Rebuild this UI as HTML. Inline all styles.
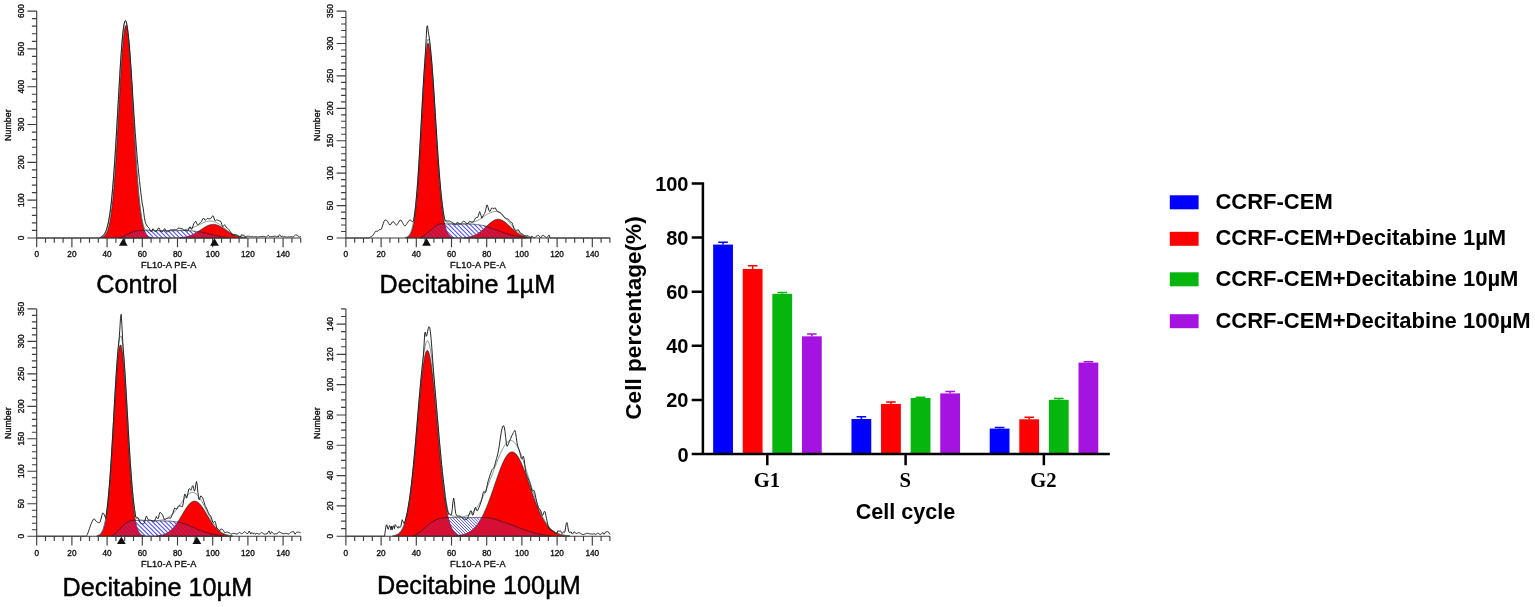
<!DOCTYPE html>
<html lang="en"><head><meta charset="utf-8"><title>Cell cycle</title>
<style>
html,body{margin:0;padding:0;background:#fff}
svg{display:block}
text{font-family:"Liberation Sans",Arial,sans-serif;fill:#000}
.tk text{font-size:8.2px;fill:#111;text-anchor:middle;stroke:#111;stroke-width:.35px}
.tk text.xl{font-size:9.2px;letter-spacing:.18px}.tk text.nl{font-size:8.9px}
.cap{font-size:25.2px;stroke:#000;stroke-width:.45px}
.b{font-weight:bold}
.ser{font-family:"Liberation Serif","Times New Roman",serif;font-weight:bold}
</style></head><body>
<svg width="1535" height="607" viewBox="0 0 1535 607">
<defs><pattern id="hatch" width="2.15" height="2.15" patternUnits="userSpaceOnUse" patternTransform="rotate(-45)"><rect x="0" y="0" width="0.88" height="2.15" fill="#2c2cff"/></pattern></defs>
<rect width="1535" height="607" fill="#fff"/>
<g id="p1">
<path d="M100.59 237.63 L100.76 237.6 L100.94 237.56 L101.12 237.52 L101.29 237.48 L101.47 237.44 L101.64 237.39 L101.82 237.33 L102 237.27 L102.17 237.21 L102.35 237.14 L102.52 237.07 L102.7 236.99 L102.88 236.91 L103.05 236.82 L103.23 236.72 L103.4 236.61 L103.58 236.5 L103.76 236.38 L103.93 236.25 L104.11 236.11 L104.28 235.97 L104.46 235.81 L104.64 235.64 L104.81 235.46 L104.99 235.26 L105.16 235.06 L105.34 234.84 L105.52 234.61 L105.69 234.36 L105.87 234.09 L106.04 233.81 L106.22 233.51 L106.4 233.2 L106.57 232.86 L106.75 232.5 L106.92 232.12 L107.1 231.72 L107.28 231.3 L107.45 230.85 L107.63 230.38 L107.8 229.88 L107.98 229.36 L108.16 228.8 L108.33 228.22 L108.51 227.6 L108.68 226.96 L108.86 226.28 L109.04 225.56 L109.21 224.81 L109.39 224.03 L109.56 223.2 L109.74 222.34 L109.92 221.44 L110.09 220.49 L110.27 219.5 L110.44 218.47 L110.62 217.4 L110.8 216.27 L110.97 215.11 L111.15 213.89 L111.32 212.62 L111.5 211.3 L111.68 209.93 L111.85 208.51 L112.03 207.04 L112.2 205.51 L112.38 203.93 L112.56 202.29 L112.73 200.6 L112.91 198.85 L113.08 197.04 L113.26 195.18 L113.44 193.26 L113.61 191.28 L113.79 189.24 L113.96 187.15 L114.14 184.99 L114.32 182.78 L114.49 180.52 L114.67 178.19 L114.84 175.81 L115.02 173.38 L115.2 170.89 L115.37 168.35 L115.55 165.75 L115.72 163.1 L115.9 160.41 L116.08 157.67 L116.25 154.88 L116.43 152.04 L116.6 149.16 L116.78 146.25 L116.96 143.29 L117.13 140.3 L117.31 137.28 L117.48 134.22 L117.66 131.14 L117.84 128.03 L118.01 124.91 L118.19 121.76 L118.36 118.6 L118.54 115.43 L118.72 112.25 L118.89 109.07 L119.07 105.88 L119.24 102.7 L119.42 99.53 L119.6 96.37 L119.77 93.23 L119.95 90.11 L120.12 87.01 L120.3 83.94 L120.48 80.91 L120.65 77.91 L120.83 74.96 L121 72.05 L121.18 69.19 L121.36 66.39 L121.53 63.65 L121.71 60.97 L121.88 58.36 L122.06 55.82 L122.24 53.36 L122.41 50.98 L122.59 48.69 L122.76 46.48 L122.94 44.37 L123.12 42.35 L123.29 40.44 L123.47 38.62 L123.64 36.91 L123.82 35.31 L124 33.82 L124.17 32.45 L124.35 31.19 L124.52 30.05 L124.7 29.04 L124.88 28.14 L125.05 27.37 L125.23 26.73 L125.4 26.22 L125.58 25.83 L125.76 25.57 L125.93 25.44 L126.11 25.44 L126.28 25.57 L126.46 25.83 L126.64 26.22 L126.81 26.73 L126.99 27.37 L127.16 28.14 L127.34 29.04 L127.52 30.05 L127.69 31.19 L127.87 32.45 L128.04 33.82 L128.22 35.31 L128.4 36.91 L128.57 38.62 L128.75 40.44 L128.92 42.35 L129.1 44.37 L129.28 46.48 L129.45 48.69 L129.63 50.98 L129.8 53.36 L129.98 55.82 L130.16 58.36 L130.33 60.97 L130.51 63.65 L130.68 66.39 L130.86 69.19 L131.04 72.05 L131.21 74.96 L131.39 77.91 L131.56 80.91 L131.74 83.94 L131.92 87.01 L132.09 90.11 L132.27 93.23 L132.44 96.37 L132.62 99.53 L132.8 102.7 L132.97 105.88 L133.15 109.07 L133.32 112.25 L133.5 115.43 L133.68 118.6 L133.85 121.76 L134.03 124.91 L134.2 128.03 L134.38 131.14 L134.56 134.22 L134.73 137.28 L134.91 140.3 L135.08 143.29 L135.26 146.25 L135.44 149.16 L135.61 152.04 L135.79 154.88 L135.96 157.67 L136.14 160.41 L136.32 163.1 L136.49 165.75 L136.67 168.35 L136.84 170.89 L137.02 173.38 L137.2 175.81 L137.37 178.19 L137.55 180.52 L137.72 182.78 L137.9 184.99 L138.08 187.15 L138.25 189.24 L138.43 191.28 L138.6 193.26 L138.78 195.18 L138.96 197.04 L139.13 198.85 L139.31 200.6 L139.48 202.29 L139.66 203.93 L139.84 205.51 L140.01 207.04 L140.19 208.51 L140.36 209.93 L140.54 211.3 L140.72 212.62 L140.89 213.89 L141.07 215.11 L141.24 216.27 L141.42 217.4 L141.6 218.47 L141.77 219.5 L141.95 220.49 L142.12 221.44 L142.3 222.34 L142.48 223.2 L142.65 224.03 L142.83 224.81 L143 225.56 L143.18 226.28 L143.36 226.96 L143.53 227.6 L143.71 228.22 L143.88 228.8 L144.06 229.36 L144.24 229.88 L144.41 230.38 L144.59 230.85 L144.76 231.3 L144.94 231.72 L145.12 232.12 L145.29 232.5 L145.47 232.86 L145.64 233.2 L145.82 233.51 L146 233.81 L146.17 234.09 L146.35 234.36 L146.52 234.61 L146.7 234.84 L146.88 235.06 L147.05 235.26 L147.23 235.46 L147.4 235.64 L147.58 235.81 L147.76 235.97 L147.93 236.11 L148.11 236.25 L148.28 236.38 L148.46 236.5 L148.64 236.61 L148.81 236.72 L148.99 236.82 L149.16 236.91 L149.34 236.99 L149.52 237.07 L149.69 237.14 L149.87 237.21 L150.04 237.27 L150.22 237.33 L150.4 237.39 L150.57 237.44 L150.75 237.48 L150.92 237.52 L151.1 237.56 L151.28 237.6 L151.45 237.63 L151.45 238 L100.59 238 Z" fill="#fb0000" stroke="#1a1a1a" stroke-width="0.7" stroke-linejoin="round"/>
<path d="M179.79 237.66 L179.96 237.64 L180.14 237.63 L180.32 237.62 L180.49 237.6 L180.67 237.59 L180.84 237.57 L181.02 237.55 L181.2 237.54 L181.37 237.52 L181.55 237.5 L181.72 237.48 L181.9 237.46 L182.08 237.44 L182.25 237.42 L182.43 237.4 L182.6 237.38 L182.78 237.36 L182.96 237.33 L183.13 237.31 L183.31 237.29 L183.48 237.26 L183.66 237.24 L183.84 237.21 L184.01 237.18 L184.19 237.15 L184.36 237.12 L184.54 237.09 L184.72 237.06 L184.89 237.03 L185.07 237 L185.24 236.97 L185.42 236.93 L185.6 236.9 L185.77 236.86 L185.95 236.83 L186.12 236.79 L186.3 236.75 L186.48 236.71 L186.65 236.67 L186.83 236.63 L187 236.59 L187.18 236.54 L187.36 236.5 L187.53 236.45 L187.71 236.41 L187.88 236.36 L188.06 236.31 L188.24 236.26 L188.41 236.21 L188.59 236.16 L188.76 236.1 L188.94 236.05 L189.12 235.99 L189.29 235.94 L189.47 235.88 L189.64 235.82 L189.82 235.76 L190 235.7 L190.17 235.64 L190.35 235.57 L190.52 235.51 L190.7 235.44 L190.88 235.37 L191.05 235.31 L191.23 235.24 L191.4 235.16 L191.58 235.09 L191.76 235.02 L191.93 234.94 L192.11 234.87 L192.28 234.79 L192.46 234.71 L192.64 234.63 L192.81 234.55 L192.99 234.47 L193.16 234.38 L193.34 234.3 L193.52 234.21 L193.69 234.13 L193.87 234.04 L194.04 233.95 L194.22 233.86 L194.4 233.77 L194.57 233.67 L194.75 233.58 L194.92 233.48 L195.1 233.39 L195.28 233.29 L195.45 233.19 L195.63 233.09 L195.8 232.99 L195.98 232.89 L196.16 232.79 L196.33 232.68 L196.51 232.58 L196.68 232.47 L196.86 232.37 L197.04 232.26 L197.21 232.15 L197.39 232.04 L197.56 231.93 L197.74 231.82 L197.92 231.71 L198.09 231.6 L198.27 231.49 L198.44 231.37 L198.62 231.26 L198.8 231.14 L198.97 231.03 L199.15 230.91 L199.32 230.8 L199.5 230.68 L199.68 230.56 L199.85 230.45 L200.03 230.33 L200.2 230.21 L200.38 230.09 L200.56 229.98 L200.73 229.86 L200.91 229.74 L201.08 229.62 L201.26 229.5 L201.44 229.39 L201.61 229.27 L201.79 229.15 L201.96 229.03 L202.14 228.92 L202.32 228.8 L202.49 228.69 L202.67 228.57 L202.84 228.45 L203.02 228.34 L203.2 228.23 L203.37 228.11 L203.55 228 L203.72 227.89 L203.9 227.78 L204.08 227.67 L204.25 227.56 L204.43 227.45 L204.6 227.34 L204.78 227.24 L204.96 227.13 L205.13 227.03 L205.31 226.93 L205.48 226.82 L205.66 226.72 L205.84 226.63 L206.01 226.53 L206.19 226.43 L206.36 226.34 L206.54 226.25 L206.72 226.16 L206.89 226.07 L207.07 225.98 L207.24 225.9 L207.42 225.82 L207.6 225.73 L207.77 225.65 L207.95 225.58 L208.12 225.5 L208.3 225.43 L208.48 225.36 L208.65 225.29 L208.83 225.22 L209 225.16 L209.18 225.1 L209.36 225.04 L209.53 224.98 L209.71 224.93 L209.88 224.88 L210.06 224.83 L210.24 224.78 L210.41 224.73 L210.59 224.69 L210.76 224.65 L210.94 224.62 L211.12 224.58 L211.29 224.55 L211.47 224.52 L211.64 224.5 L211.82 224.47 L212 224.45 L212.17 224.43 L212.35 224.42 L212.52 224.41 L212.7 224.4 L212.88 224.39 L213.05 224.38 L213.23 224.38 L213.4 224.38 L213.58 224.39 L213.76 224.4 L213.93 224.41 L214.11 224.42 L214.28 224.43 L214.46 224.45 L214.64 224.47 L214.81 224.5 L214.99 224.52 L215.16 224.55 L215.34 224.58 L215.52 224.62 L215.69 224.65 L215.87 224.69 L216.04 224.73 L216.22 224.78 L216.4 224.83 L216.57 224.88 L216.75 224.93 L216.92 224.98 L217.1 225.04 L217.28 225.1 L217.45 225.16 L217.63 225.22 L217.8 225.29 L217.98 225.36 L218.16 225.43 L218.33 225.5 L218.51 225.58 L218.68 225.65 L218.86 225.73 L219.04 225.82 L219.21 225.9 L219.39 225.98 L219.56 226.07 L219.74 226.16 L219.92 226.25 L220.09 226.34 L220.27 226.43 L220.44 226.53 L220.62 226.63 L220.8 226.72 L220.97 226.82 L221.15 226.93 L221.32 227.03 L221.5 227.13 L221.68 227.24 L221.85 227.34 L222.03 227.45 L222.2 227.56 L222.38 227.67 L222.56 227.78 L222.73 227.89 L222.91 228 L223.08 228.11 L223.26 228.23 L223.44 228.34 L223.61 228.45 L223.79 228.57 L223.96 228.69 L224.14 228.8 L224.32 228.92 L224.49 229.03 L224.67 229.15 L224.84 229.27 L225.02 229.39 L225.2 229.5 L225.37 229.62 L225.55 229.74 L225.72 229.86 L225.9 229.98 L226.08 230.09 L226.25 230.21 L226.43 230.33 L226.6 230.45 L226.78 230.56 L226.96 230.68 L227.13 230.8 L227.31 230.91 L227.48 231.03 L227.66 231.14 L227.84 231.26 L228.01 231.37 L228.19 231.49 L228.36 231.6 L228.54 231.71 L228.72 231.82 L228.89 231.93 L229.07 232.04 L229.24 232.15 L229.42 232.26 L229.6 232.37 L229.77 232.47 L229.95 232.58 L230.12 232.68 L230.3 232.79 L230.48 232.89 L230.65 232.99 L230.83 233.09 L231 233.19 L231.18 233.29 L231.36 233.39 L231.53 233.48 L231.71 233.58 L231.88 233.67 L232.06 233.77 L232.24 233.86 L232.41 233.95 L232.59 234.04 L232.76 234.13 L232.94 234.21 L233.12 234.3 L233.29 234.38 L233.47 234.47 L233.64 234.55 L233.82 234.63 L234 234.71 L234.17 234.79 L234.35 234.87 L234.52 234.94 L234.7 235.02 L234.88 235.09 L235.05 235.16 L235.23 235.24 L235.4 235.31 L235.58 235.37 L235.76 235.44 L235.93 235.51 L236.11 235.57 L236.28 235.64 L236.46 235.7 L236.64 235.76 L236.81 235.82 L236.99 235.88 L237.16 235.94 L237.34 235.99 L237.52 236.05 L237.69 236.1 L237.87 236.16 L238.04 236.21 L238.22 236.26 L238.4 236.31 L238.57 236.36 L238.75 236.41 L238.92 236.45 L239.1 236.5 L239.28 236.54 L239.45 236.59 L239.63 236.63 L239.8 236.67 L239.98 236.71 L240.16 236.75 L240.33 236.79 L240.51 236.83 L240.68 236.86 L240.86 236.9 L241.04 236.93 L241.21 236.97 L241.39 237 L241.56 237.03 L241.74 237.06 L241.92 237.09 L242.09 237.12 L242.27 237.15 L242.44 237.18 L242.62 237.21 L242.8 237.24 L242.97 237.26 L243.15 237.29 L243.32 237.31 L243.5 237.33 L243.68 237.36 L243.85 237.38 L244.03 237.4 L244.2 237.42 L244.38 237.44 L244.56 237.46 L244.73 237.48 L244.91 237.5 L245.08 237.52 L245.26 237.54 L245.44 237.55 L245.61 237.57 L245.79 237.59 L245.96 237.6 L246.14 237.62 L246.32 237.63 L246.49 237.64 L246.67 237.66 L246.67 238 L179.79 238 Z" fill="#fb0000" stroke="#1a1a1a" stroke-width="0.7" stroke-linejoin="round"/>
<clipPath id="sc1"><path d="M119.24 237.63 L119.42 237.59 L119.6 237.55 L119.77 237.5 L119.95 237.46 L120.12 237.41 L120.3 237.36 L120.48 237.3 L120.65 237.25 L120.83 237.19 L121 237.14 L121.18 237.08 L121.36 237.02 L121.53 236.96 L121.71 236.89 L121.88 236.83 L122.06 236.76 L122.24 236.69 L122.41 236.62 L122.59 236.55 L122.76 236.48 L122.94 236.41 L123.12 236.33 L123.29 236.25 L123.47 236.18 L123.64 236.1 L123.82 236.02 L124 235.94 L124.17 235.85 L124.35 235.77 L124.52 235.69 L124.7 235.61 L124.88 235.52 L125.05 235.44 L125.23 235.36 L125.4 235.27 L125.58 235.19 L125.76 235.1 L125.93 235.02 L126.11 234.93 L126.28 234.85 L126.46 234.76 L126.64 234.68 L126.81 234.59 L126.99 234.51 L127.16 234.42 L127.34 234.34 L127.52 234.25 L127.69 234.16 L127.87 234.08 L128.04 233.99 L128.22 233.9 L128.4 233.82 L128.57 233.73 L128.75 233.64 L128.92 233.56 L129.1 233.47 L129.28 233.39 L129.45 233.3 L129.63 233.22 L129.8 233.13 L129.98 233.05 L130.16 232.97 L130.33 232.89 L130.51 232.81 L130.68 232.73 L130.86 232.65 L131.04 232.58 L131.21 232.51 L131.39 232.43 L131.56 232.36 L131.74 232.29 L131.92 232.23 L132.09 232.16 L132.27 232.1 L132.44 232.04 L132.62 231.98 L132.8 231.92 L132.97 231.86 L133.15 231.8 L133.32 231.75 L133.5 231.69 L133.68 231.64 L133.85 231.59 L134.03 231.53 L134.2 231.48 L134.38 231.43 L134.56 231.38 L134.73 231.33 L134.91 231.28 L135.08 231.24 L135.26 231.19 L135.44 231.14 L135.61 231.1 L135.79 231.06 L135.96 231.02 L136.14 230.98 L136.32 230.94 L136.49 230.91 L136.67 230.87 L136.84 230.84 L137.02 230.82 L137.2 230.79 L137.37 230.77 L137.55 230.74 L137.72 230.73 L137.9 230.71 L138.08 230.69 L138.25 230.68 L138.43 230.66 L138.6 230.65 L138.78 230.64 L138.96 230.63 L139.13 230.62 L139.31 230.61 L139.48 230.61 L139.66 230.6 L139.84 230.59 L140.01 230.59 L140.19 230.58 L140.36 230.57 L140.54 230.57 L140.72 230.56 L140.89 230.56 L141.07 230.55 L141.24 230.55 L141.42 230.54 L141.6 230.54 L141.77 230.54 L141.95 230.53 L142.12 230.53 L142.3 230.53 L142.48 230.53 L142.65 230.53 L142.83 230.53 L143 230.52 L143.18 230.52 L143.36 230.52 L143.53 230.52 L143.71 230.52 L143.88 230.52 L144.06 230.53 L144.24 230.53 L144.41 230.53 L144.59 230.53 L144.76 230.53 L144.94 230.53 L145.12 230.53 L145.29 230.53 L145.47 230.53 L145.64 230.53 L145.82 230.53 L146 230.54 L146.17 230.54 L146.35 230.54 L146.52 230.54 L146.7 230.54 L146.88 230.54 L147.05 230.54 L147.23 230.54 L147.4 230.54 L147.58 230.54 L147.76 230.55 L147.93 230.55 L148.11 230.55 L148.28 230.55 L148.46 230.55 L148.64 230.55 L148.81 230.55 L148.99 230.55 L149.16 230.55 L149.34 230.56 L149.52 230.56 L149.69 230.56 L149.87 230.56 L150.04 230.56 L150.22 230.56 L150.4 230.56 L150.57 230.56 L150.75 230.56 L150.92 230.56 L151.1 230.57 L151.28 230.57 L151.45 230.57 L151.63 230.57 L151.8 230.57 L151.98 230.57 L152.16 230.57 L152.33 230.57 L152.51 230.57 L152.68 230.58 L152.86 230.58 L153.04 230.58 L153.21 230.58 L153.39 230.58 L153.56 230.58 L153.74 230.58 L153.92 230.58 L154.09 230.58 L154.27 230.59 L154.44 230.59 L154.62 230.59 L154.8 230.59 L154.97 230.59 L155.15 230.59 L155.32 230.59 L155.5 230.59 L155.68 230.59 L155.85 230.59 L156.03 230.6 L156.2 230.6 L156.38 230.6 L156.56 230.6 L156.73 230.6 L156.91 230.6 L157.08 230.6 L157.26 230.6 L157.44 230.6 L157.61 230.61 L157.79 230.61 L157.96 230.61 L158.14 230.61 L158.32 230.61 L158.49 230.61 L158.67 230.61 L158.84 230.61 L159.02 230.61 L159.2 230.61 L159.37 230.62 L159.55 230.62 L159.72 230.62 L159.9 230.62 L160.08 230.62 L160.25 230.62 L160.43 230.62 L160.6 230.62 L160.78 230.62 L160.96 230.63 L161.13 230.63 L161.31 230.63 L161.48 230.63 L161.66 230.63 L161.84 230.63 L162.01 230.63 L162.19 230.63 L162.36 230.63 L162.54 230.63 L162.72 230.64 L162.89 230.64 L163.07 230.64 L163.24 230.64 L163.42 230.64 L163.6 230.64 L163.77 230.64 L163.95 230.64 L164.12 230.64 L164.3 230.65 L164.48 230.65 L164.65 230.65 L164.83 230.65 L165 230.65 L165.18 230.65 L165.36 230.65 L165.53 230.65 L165.71 230.65 L165.88 230.66 L166.06 230.66 L166.24 230.66 L166.41 230.66 L166.59 230.66 L166.76 230.66 L166.94 230.66 L167.12 230.66 L167.29 230.66 L167.47 230.66 L167.64 230.67 L167.82 230.67 L168 230.67 L168.17 230.67 L168.35 230.67 L168.52 230.67 L168.7 230.67 L168.88 230.67 L169.05 230.67 L169.23 230.68 L169.4 230.68 L169.58 230.68 L169.76 230.68 L169.93 230.68 L170.11 230.68 L170.28 230.68 L170.46 230.68 L170.64 230.68 L170.81 230.68 L170.99 230.69 L171.16 230.69 L171.34 230.69 L171.52 230.69 L171.69 230.69 L171.87 230.69 L172.04 230.69 L172.22 230.69 L172.4 230.69 L172.57 230.69 L172.75 230.69 L172.92 230.69 L173.1 230.69 L173.28 230.69 L173.45 230.68 L173.63 230.68 L173.8 230.68 L173.98 230.68 L174.16 230.68 L174.33 230.68 L174.51 230.67 L174.68 230.67 L174.86 230.67 L175.04 230.67 L175.21 230.66 L175.39 230.66 L175.56 230.66 L175.74 230.65 L175.92 230.65 L176.09 230.65 L176.27 230.65 L176.44 230.64 L176.62 230.64 L176.8 230.64 L176.97 230.63 L177.15 230.63 L177.32 230.63 L177.5 230.62 L177.68 230.62 L177.85 230.62 L178.03 230.61 L178.2 230.61 L178.38 230.61 L178.56 230.6 L178.73 230.6 L178.91 230.6 L179.08 230.59 L179.26 230.59 L179.44 230.59 L179.61 230.58 L179.79 230.58 L179.96 230.58 L180.14 230.57 L180.32 230.57 L180.49 230.57 L180.67 230.57 L180.84 230.56 L181.02 230.56 L181.2 230.56 L181.37 230.55 L181.55 230.55 L181.72 230.55 L181.9 230.55 L182.08 230.54 L182.25 230.54 L182.43 230.54 L182.6 230.54 L182.78 230.54 L182.96 230.54 L183.13 230.54 L183.31 230.54 L183.48 230.54 L183.66 230.54 L183.84 230.54 L184.01 230.55 L184.19 230.55 L184.36 230.55 L184.54 230.56 L184.72 230.56 L184.89 230.57 L185.07 230.57 L185.24 230.58 L185.42 230.58 L185.6 230.59 L185.77 230.59 L185.95 230.6 L186.12 230.61 L186.3 230.61 L186.48 230.62 L186.65 230.63 L186.83 230.63 L187 230.64 L187.18 230.65 L187.36 230.65 L187.53 230.66 L187.71 230.67 L187.88 230.67 L188.06 230.68 L188.24 230.69 L188.41 230.69 L188.59 230.7 L188.76 230.71 L188.94 230.71 L189.12 230.72 L189.29 230.73 L189.47 230.74 L189.64 230.74 L189.82 230.75 L190 230.76 L190.17 230.77 L190.35 230.78 L190.52 230.79 L190.7 230.8 L190.88 230.81 L191.05 230.82 L191.23 230.83 L191.4 230.85 L191.58 230.86 L191.76 230.87 L191.93 230.89 L192.11 230.91 L192.28 230.92 L192.46 230.94 L192.64 230.96 L192.81 230.98 L192.99 230.99 L193.16 231.01 L193.34 231.03 L193.52 231.05 L193.69 231.07 L193.87 231.1 L194.04 231.12 L194.22 231.14 L194.4 231.16 L194.57 231.18 L194.75 231.2 L194.92 231.22 L195.1 231.24 L195.28 231.26 L195.45 231.29 L195.63 231.31 L195.8 231.33 L195.98 231.35 L196.16 231.37 L196.33 231.39 L196.51 231.42 L196.68 231.44 L196.86 231.46 L197.04 231.48 L197.21 231.5 L197.39 231.53 L197.56 231.55 L197.74 231.57 L197.92 231.6 L198.09 231.62 L198.27 231.64 L198.44 231.67 L198.62 231.69 L198.8 231.72 L198.97 231.75 L199.15 231.77 L199.32 231.8 L199.5 231.83 L199.68 231.86 L199.85 231.89 L200.03 231.92 L200.2 231.95 L200.38 231.98 L200.56 232.02 L200.73 232.05 L200.91 232.08 L201.08 232.12 L201.26 232.15 L201.44 232.19 L201.61 232.22 L201.79 232.25 L201.96 232.29 L202.14 232.33 L202.32 232.36 L202.49 232.4 L202.67 232.43 L202.84 232.47 L203.02 232.51 L203.2 232.54 L203.37 232.58 L203.55 232.62 L203.72 232.66 L203.9 232.69 L204.08 232.73 L204.25 232.77 L204.43 232.81 L204.6 232.85 L204.78 232.89 L204.96 232.94 L205.13 232.98 L205.31 233.02 L205.48 233.06 L205.66 233.11 L205.84 233.15 L206.01 233.19 L206.19 233.24 L206.36 233.28 L206.54 233.33 L206.72 233.37 L206.89 233.42 L207.07 233.46 L207.24 233.51 L207.42 233.55 L207.6 233.6 L207.77 233.64 L207.95 233.69 L208.12 233.73 L208.3 233.78 L208.48 233.82 L208.65 233.87 L208.83 233.91 L209 233.96 L209.18 234 L209.36 234.05 L209.53 234.09 L209.71 234.13 L209.88 234.18 L210.06 234.22 L210.24 234.27 L210.41 234.31 L210.59 234.35 L210.76 234.4 L210.94 234.44 L211.12 234.48 L211.29 234.53 L211.47 234.57 L211.64 234.61 L211.82 234.66 L212 234.7 L212.17 234.74 L212.35 234.79 L212.52 234.83 L212.7 234.87 L212.88 234.91 L213.05 234.96 L213.23 235 L213.4 235.04 L213.58 235.08 L213.76 235.12 L213.93 235.16 L214.11 235.21 L214.28 235.25 L214.46 235.29 L214.64 235.33 L214.81 235.37 L214.99 235.4 L215.16 235.44 L215.34 235.48 L215.52 235.52 L215.69 235.56 L215.87 235.59 L216.04 235.63 L216.22 235.67 L216.4 235.7 L216.57 235.74 L216.75 235.78 L216.92 235.81 L217.1 235.85 L217.28 235.88 L217.45 235.92 L217.63 235.95 L217.8 235.99 L217.98 236.02 L218.16 236.06 L218.33 236.09 L218.51 236.13 L218.68 236.16 L218.86 236.2 L219.04 236.23 L219.21 236.26 L219.39 236.3 L219.56 236.33 L219.74 236.36 L219.92 236.39 L220.09 236.43 L220.27 236.46 L220.44 236.49 L220.62 236.52 L220.8 236.55 L220.97 236.58 L221.15 236.61 L221.32 236.64 L221.5 236.67 L221.68 236.69 L221.85 236.72 L222.03 236.75 L222.2 236.78 L222.38 236.81 L222.56 236.84 L222.73 236.86 L222.91 236.89 L223.08 236.92 L223.26 236.95 L223.44 236.97 L223.61 237 L223.79 237.03 L223.96 237.06 L224.14 237.08 L224.32 237.11 L224.49 237.13 L224.67 237.16 L224.84 237.19 L225.02 237.21 L225.2 237.24 L225.37 237.26 L225.55 237.29 L225.72 237.31 L225.9 237.34 L226.08 237.36 L226.25 237.38 L226.43 237.41 L226.6 237.43 L226.78 237.45 L226.96 237.47 L227.13 237.5 L227.31 237.52 L227.48 237.54 L227.66 237.56 L227.84 237.58 L228.01 237.61 L228.19 237.63 L228.36 237.65 L228.36 238 L119.24 238 Z"/></clipPath>
<path clip-path="url(#sc1)" d="M106.08 228.52 l9.48 9.48 M110.36 228.52 l9.48 9.48 M114.64 228.52 l9.48 9.48 M118.92 228.52 l9.48 9.48 M123.2 228.52 l9.48 9.48 M127.48 228.52 l9.48 9.48 M131.76 228.52 l9.48 9.48 M136.04 228.52 l9.48 9.48 M140.32 228.52 l9.48 9.48 M144.6 228.52 l9.48 9.48 M148.88 228.52 l9.48 9.48 M153.16 228.52 l9.48 9.48 M157.44 228.52 l9.48 9.48 M161.72 228.52 l9.48 9.48 M166 228.52 l9.48 9.48 M170.28 228.52 l9.48 9.48 M174.56 228.52 l9.48 9.48 M178.84 228.52 l9.48 9.48 M183.12 228.52 l9.48 9.48 M187.4 228.52 l9.48 9.48 M191.68 228.52 l9.48 9.48 M195.96 228.52 l9.48 9.48 M200.24 228.52 l9.48 9.48 M204.52 228.52 l9.48 9.48 M208.8 228.52 l9.48 9.48 M213.08 228.52 l9.48 9.48 M217.36 228.52 l9.48 9.48 M221.64 228.52 l9.48 9.48 M225.92 228.52 l9.48 9.48" stroke="#4a4aff" stroke-width="1.05" fill="none"/>
<g clip-path="url(#sc1)" fill="#fb0000" fill-opacity="0.33">
<path d="M100.59 237.63 L100.94 237.56 L101.29 237.48 L101.64 237.39 L102 237.27 L102.35 237.14 L102.7 236.99 L103.05 236.82 L103.4 236.61 L103.76 236.38 L104.11 236.11 L104.46 235.81 L104.81 235.46 L105.16 235.06 L105.52 234.61 L105.87 234.09 L106.22 233.51 L106.57 232.86 L106.92 232.12 L107.28 231.3 L107.63 230.38 L107.98 229.36 L108.33 228.22 L108.68 226.96 L109.04 225.56 L109.39 224.03 L109.74 222.34 L110.09 220.49 L110.44 218.47 L110.8 216.27 L111.15 213.89 L111.5 211.3 L111.85 208.51 L112.2 205.51 L112.56 202.29 L112.91 198.85 L113.26 195.18 L113.61 191.28 L113.96 187.15 L114.32 182.78 L114.67 178.19 L115.02 173.38 L115.37 168.35 L115.72 163.1 L116.08 157.67 L116.43 152.04 L116.78 146.25 L117.13 140.3 L117.48 134.22 L117.84 128.03 L118.19 121.76 L118.54 115.43 L118.89 109.07 L119.24 102.7 L119.6 96.37 L119.95 90.11 L120.3 83.94 L120.65 77.91 L121 72.05 L121.36 66.39 L121.71 60.97 L122.06 55.82 L122.41 50.98 L122.76 46.48 L123.12 42.35 L123.47 38.62 L123.82 35.31 L124.17 32.45 L124.52 30.05 L124.88 28.14 L125.23 26.73 L125.58 25.83 L125.93 25.44 L126.28 25.57 L126.64 26.22 L126.99 27.37 L127.34 29.04 L127.69 31.19 L128.04 33.82 L128.4 36.91 L128.75 40.44 L129.1 44.37 L129.45 48.69 L129.8 53.36 L130.16 58.36 L130.51 63.65 L130.86 69.19 L131.21 74.96 L131.56 80.91 L131.92 87.01 L132.27 93.23 L132.62 99.53 L132.97 105.88 L133.32 112.25 L133.68 118.6 L134.03 124.91 L134.38 131.14 L134.73 137.28 L135.08 143.29 L135.44 149.16 L135.79 154.88 L136.14 160.41 L136.49 165.75 L136.84 170.89 L137.2 175.81 L137.55 180.52 L137.9 184.99 L138.25 189.24 L138.6 193.26 L138.96 197.04 L139.31 200.6 L139.66 203.93 L140.01 207.04 L140.36 209.93 L140.72 212.62 L141.07 215.11 L141.42 217.4 L141.77 219.5 L142.12 221.44 L142.48 223.2 L142.83 224.81 L143.18 226.28 L143.53 227.6 L143.88 228.8 L144.24 229.88 L144.59 230.85 L144.94 231.72 L145.29 232.5 L145.64 233.2 L146 233.81 L146.35 234.36 L146.7 234.84 L147.05 235.26 L147.4 235.64 L147.76 235.97 L148.11 236.25 L148.46 236.5 L148.81 236.72 L149.16 236.91 L149.52 237.07 L149.87 237.21 L150.22 237.33 L150.57 237.44 L150.92 237.52 L151.28 237.6 L151.28 238 L100.59 238 Z"/>
<path d="M179.79 237.66 L180.14 237.63 L180.49 237.6 L180.84 237.57 L181.2 237.54 L181.55 237.5 L181.9 237.46 L182.25 237.42 L182.6 237.38 L182.96 237.33 L183.31 237.29 L183.66 237.24 L184.01 237.18 L184.36 237.12 L184.72 237.06 L185.07 237 L185.42 236.93 L185.77 236.86 L186.12 236.79 L186.48 236.71 L186.83 236.63 L187.18 236.54 L187.53 236.45 L187.88 236.36 L188.24 236.26 L188.59 236.16 L188.94 236.05 L189.29 235.94 L189.64 235.82 L190 235.7 L190.35 235.57 L190.7 235.44 L191.05 235.31 L191.4 235.16 L191.76 235.02 L192.11 234.87 L192.46 234.71 L192.81 234.55 L193.16 234.38 L193.52 234.21 L193.87 234.04 L194.22 233.86 L194.57 233.67 L194.92 233.48 L195.28 233.29 L195.63 233.09 L195.98 232.89 L196.33 232.68 L196.68 232.47 L197.04 232.26 L197.39 232.04 L197.74 231.82 L198.09 231.6 L198.44 231.37 L198.8 231.14 L199.15 230.91 L199.5 230.68 L199.85 230.45 L200.2 230.21 L200.56 229.98 L200.91 229.74 L201.26 229.5 L201.61 229.27 L201.96 229.03 L202.32 228.8 L202.67 228.57 L203.02 228.34 L203.37 228.11 L203.72 227.89 L204.08 227.67 L204.43 227.45 L204.78 227.24 L205.13 227.03 L205.48 226.82 L205.84 226.63 L206.19 226.43 L206.54 226.25 L206.89 226.07 L207.24 225.9 L207.6 225.73 L207.95 225.58 L208.3 225.43 L208.65 225.29 L209 225.16 L209.36 225.04 L209.71 224.93 L210.06 224.83 L210.41 224.73 L210.76 224.65 L211.12 224.58 L211.47 224.52 L211.82 224.47 L212.17 224.43 L212.52 224.41 L212.88 224.39 L213.23 224.38 L213.58 224.39 L213.93 224.41 L214.28 224.43 L214.64 224.47 L214.99 224.52 L215.34 224.58 L215.69 224.65 L216.04 224.73 L216.4 224.83 L216.75 224.93 L217.1 225.04 L217.45 225.16 L217.8 225.29 L218.16 225.43 L218.51 225.58 L218.86 225.73 L219.21 225.9 L219.56 226.07 L219.92 226.25 L220.27 226.43 L220.62 226.63 L220.97 226.82 L221.32 227.03 L221.68 227.24 L222.03 227.45 L222.38 227.67 L222.73 227.89 L223.08 228.11 L223.44 228.34 L223.79 228.57 L224.14 228.8 L224.49 229.03 L224.84 229.27 L225.2 229.5 L225.55 229.74 L225.9 229.98 L226.25 230.21 L226.6 230.45 L226.96 230.68 L227.31 230.91 L227.66 231.14 L228.01 231.37 L228.36 231.6 L228.72 231.82 L229.07 232.04 L229.42 232.26 L229.77 232.47 L230.12 232.68 L230.48 232.89 L230.83 233.09 L231.18 233.29 L231.53 233.48 L231.88 233.67 L232.24 233.86 L232.59 234.04 L232.94 234.21 L233.29 234.38 L233.64 234.55 L234 234.71 L234.35 234.87 L234.7 235.02 L235.05 235.16 L235.4 235.31 L235.76 235.44 L236.11 235.57 L236.46 235.7 L236.81 235.82 L237.16 235.94 L237.52 236.05 L237.87 236.16 L238.22 236.26 L238.57 236.36 L238.92 236.45 L239.28 236.54 L239.63 236.63 L239.98 236.71 L240.33 236.79 L240.68 236.86 L241.04 236.93 L241.39 237 L241.74 237.06 L242.09 237.12 L242.44 237.18 L242.8 237.24 L243.15 237.29 L243.5 237.33 L243.85 237.38 L244.2 237.42 L244.56 237.46 L244.91 237.5 L245.26 237.54 L245.61 237.57 L245.96 237.6 L246.32 237.63 L246.67 237.66 L246.67 238 L179.79 238 Z"/>
</g>
<path d="M119.24 237.63 L119.42 237.59 L119.6 237.55 L119.77 237.5 L119.95 237.46 L120.12 237.41 L120.3 237.36 L120.48 237.3 L120.65 237.25 L120.83 237.19 L121 237.14 L121.18 237.08 L121.36 237.02 L121.53 236.96 L121.71 236.89 L121.88 236.83 L122.06 236.76 L122.24 236.69 L122.41 236.62 L122.59 236.55 L122.76 236.48 L122.94 236.41 L123.12 236.33 L123.29 236.25 L123.47 236.18 L123.64 236.1 L123.82 236.02 L124 235.94 L124.17 235.85 L124.35 235.77 L124.52 235.69 L124.7 235.61 L124.88 235.52 L125.05 235.44 L125.23 235.36 L125.4 235.27 L125.58 235.19 L125.76 235.1 L125.93 235.02 L126.11 234.93 L126.28 234.85 L126.46 234.76 L126.64 234.68 L126.81 234.59 L126.99 234.51 L127.16 234.42 L127.34 234.34 L127.52 234.25 L127.69 234.16 L127.87 234.08 L128.04 233.99 L128.22 233.9 L128.4 233.82 L128.57 233.73 L128.75 233.64 L128.92 233.56 L129.1 233.47 L129.28 233.39 L129.45 233.3 L129.63 233.22 L129.8 233.13 L129.98 233.05 L130.16 232.97 L130.33 232.89 L130.51 232.81 L130.68 232.73 L130.86 232.65 L131.04 232.58 L131.21 232.51 L131.39 232.43 L131.56 232.36 L131.74 232.29 L131.92 232.23 L132.09 232.16 L132.27 232.1 L132.44 232.04 L132.62 231.98 L132.8 231.92 L132.97 231.86 L133.15 231.8 L133.32 231.75 L133.5 231.69 L133.68 231.64 L133.85 231.59 L134.03 231.53 L134.2 231.48 L134.38 231.43 L134.56 231.38 L134.73 231.33 L134.91 231.28 L135.08 231.24 L135.26 231.19 L135.44 231.14 L135.61 231.1 L135.79 231.06 L135.96 231.02 L136.14 230.98 L136.32 230.94 L136.49 230.91 L136.67 230.87 L136.84 230.84 L137.02 230.82 L137.2 230.79 L137.37 230.77 L137.55 230.74 L137.72 230.73 L137.9 230.71 L138.08 230.69 L138.25 230.68 L138.43 230.66 L138.6 230.65 L138.78 230.64 L138.96 230.63 L139.13 230.62 L139.31 230.61 L139.48 230.61 L139.66 230.6 L139.84 230.59 L140.01 230.59 L140.19 230.58 L140.36 230.57 L140.54 230.57 L140.72 230.56 L140.89 230.56 L141.07 230.55 L141.24 230.55 L141.42 230.54 L141.6 230.54 L141.77 230.54 L141.95 230.53 L142.12 230.53 L142.3 230.53 L142.48 230.53 L142.65 230.53 L142.83 230.53 L143 230.52 L143.18 230.52 L143.36 230.52 L143.53 230.52 L143.71 230.52 L143.88 230.52 L144.06 230.53 L144.24 230.53 L144.41 230.53 L144.59 230.53 L144.76 230.53 L144.94 230.53 L145.12 230.53 L145.29 230.53 L145.47 230.53 L145.64 230.53 L145.82 230.53 L146 230.54 L146.17 230.54 L146.35 230.54 L146.52 230.54 L146.7 230.54 L146.88 230.54 L147.05 230.54 L147.23 230.54 L147.4 230.54 L147.58 230.54 L147.76 230.55 L147.93 230.55 L148.11 230.55 L148.28 230.55 L148.46 230.55 L148.64 230.55 L148.81 230.55 L148.99 230.55 L149.16 230.55 L149.34 230.56 L149.52 230.56 L149.69 230.56 L149.87 230.56 L150.04 230.56 L150.22 230.56 L150.4 230.56 L150.57 230.56 L150.75 230.56 L150.92 230.56 L151.1 230.57 L151.28 230.57 L151.45 230.57 L151.63 230.57 L151.8 230.57 L151.98 230.57 L152.16 230.57 L152.33 230.57 L152.51 230.57 L152.68 230.58 L152.86 230.58 L153.04 230.58 L153.21 230.58 L153.39 230.58 L153.56 230.58 L153.74 230.58 L153.92 230.58 L154.09 230.58 L154.27 230.59 L154.44 230.59 L154.62 230.59 L154.8 230.59 L154.97 230.59 L155.15 230.59 L155.32 230.59 L155.5 230.59 L155.68 230.59 L155.85 230.59 L156.03 230.6 L156.2 230.6 L156.38 230.6 L156.56 230.6 L156.73 230.6 L156.91 230.6 L157.08 230.6 L157.26 230.6 L157.44 230.6 L157.61 230.61 L157.79 230.61 L157.96 230.61 L158.14 230.61 L158.32 230.61 L158.49 230.61 L158.67 230.61 L158.84 230.61 L159.02 230.61 L159.2 230.61 L159.37 230.62 L159.55 230.62 L159.72 230.62 L159.9 230.62 L160.08 230.62 L160.25 230.62 L160.43 230.62 L160.6 230.62 L160.78 230.62 L160.96 230.63 L161.13 230.63 L161.31 230.63 L161.48 230.63 L161.66 230.63 L161.84 230.63 L162.01 230.63 L162.19 230.63 L162.36 230.63 L162.54 230.63 L162.72 230.64 L162.89 230.64 L163.07 230.64 L163.24 230.64 L163.42 230.64 L163.6 230.64 L163.77 230.64 L163.95 230.64 L164.12 230.64 L164.3 230.65 L164.48 230.65 L164.65 230.65 L164.83 230.65 L165 230.65 L165.18 230.65 L165.36 230.65 L165.53 230.65 L165.71 230.65 L165.88 230.66 L166.06 230.66 L166.24 230.66 L166.41 230.66 L166.59 230.66 L166.76 230.66 L166.94 230.66 L167.12 230.66 L167.29 230.66 L167.47 230.66 L167.64 230.67 L167.82 230.67 L168 230.67 L168.17 230.67 L168.35 230.67 L168.52 230.67 L168.7 230.67 L168.88 230.67 L169.05 230.67 L169.23 230.68 L169.4 230.68 L169.58 230.68 L169.76 230.68 L169.93 230.68 L170.11 230.68 L170.28 230.68 L170.46 230.68 L170.64 230.68 L170.81 230.68 L170.99 230.69 L171.16 230.69 L171.34 230.69 L171.52 230.69 L171.69 230.69 L171.87 230.69 L172.04 230.69 L172.22 230.69 L172.4 230.69 L172.57 230.69 L172.75 230.69 L172.92 230.69 L173.1 230.69 L173.28 230.69 L173.45 230.68 L173.63 230.68 L173.8 230.68 L173.98 230.68 L174.16 230.68 L174.33 230.68 L174.51 230.67 L174.68 230.67 L174.86 230.67 L175.04 230.67 L175.21 230.66 L175.39 230.66 L175.56 230.66 L175.74 230.65 L175.92 230.65 L176.09 230.65 L176.27 230.65 L176.44 230.64 L176.62 230.64 L176.8 230.64 L176.97 230.63 L177.15 230.63 L177.32 230.63 L177.5 230.62 L177.68 230.62 L177.85 230.62 L178.03 230.61 L178.2 230.61 L178.38 230.61 L178.56 230.6 L178.73 230.6 L178.91 230.6 L179.08 230.59 L179.26 230.59 L179.44 230.59 L179.61 230.58 L179.79 230.58 L179.96 230.58 L180.14 230.57 L180.32 230.57 L180.49 230.57 L180.67 230.57 L180.84 230.56 L181.02 230.56 L181.2 230.56 L181.37 230.55 L181.55 230.55 L181.72 230.55 L181.9 230.55 L182.08 230.54 L182.25 230.54 L182.43 230.54 L182.6 230.54 L182.78 230.54 L182.96 230.54 L183.13 230.54 L183.31 230.54 L183.48 230.54 L183.66 230.54 L183.84 230.54 L184.01 230.55 L184.19 230.55 L184.36 230.55 L184.54 230.56 L184.72 230.56 L184.89 230.57 L185.07 230.57 L185.24 230.58 L185.42 230.58 L185.6 230.59 L185.77 230.59 L185.95 230.6 L186.12 230.61 L186.3 230.61 L186.48 230.62 L186.65 230.63 L186.83 230.63 L187 230.64 L187.18 230.65 L187.36 230.65 L187.53 230.66 L187.71 230.67 L187.88 230.67 L188.06 230.68 L188.24 230.69 L188.41 230.69 L188.59 230.7 L188.76 230.71 L188.94 230.71 L189.12 230.72 L189.29 230.73 L189.47 230.74 L189.64 230.74 L189.82 230.75 L190 230.76 L190.17 230.77 L190.35 230.78 L190.52 230.79 L190.7 230.8 L190.88 230.81 L191.05 230.82 L191.23 230.83 L191.4 230.85 L191.58 230.86 L191.76 230.87 L191.93 230.89 L192.11 230.91 L192.28 230.92 L192.46 230.94 L192.64 230.96 L192.81 230.98 L192.99 230.99 L193.16 231.01 L193.34 231.03 L193.52 231.05 L193.69 231.07 L193.87 231.1 L194.04 231.12 L194.22 231.14 L194.4 231.16 L194.57 231.18 L194.75 231.2 L194.92 231.22 L195.1 231.24 L195.28 231.26 L195.45 231.29 L195.63 231.31 L195.8 231.33 L195.98 231.35 L196.16 231.37 L196.33 231.39 L196.51 231.42 L196.68 231.44 L196.86 231.46 L197.04 231.48 L197.21 231.5 L197.39 231.53 L197.56 231.55 L197.74 231.57 L197.92 231.6 L198.09 231.62 L198.27 231.64 L198.44 231.67 L198.62 231.69 L198.8 231.72 L198.97 231.75 L199.15 231.77 L199.32 231.8 L199.5 231.83 L199.68 231.86 L199.85 231.89 L200.03 231.92 L200.2 231.95 L200.38 231.98 L200.56 232.02 L200.73 232.05 L200.91 232.08 L201.08 232.12 L201.26 232.15 L201.44 232.19 L201.61 232.22 L201.79 232.25 L201.96 232.29 L202.14 232.33 L202.32 232.36 L202.49 232.4 L202.67 232.43 L202.84 232.47 L203.02 232.51 L203.2 232.54 L203.37 232.58 L203.55 232.62 L203.72 232.66 L203.9 232.69 L204.08 232.73 L204.25 232.77 L204.43 232.81 L204.6 232.85 L204.78 232.89 L204.96 232.94 L205.13 232.98 L205.31 233.02 L205.48 233.06 L205.66 233.11 L205.84 233.15 L206.01 233.19 L206.19 233.24 L206.36 233.28 L206.54 233.33 L206.72 233.37 L206.89 233.42 L207.07 233.46 L207.24 233.51 L207.42 233.55 L207.6 233.6 L207.77 233.64 L207.95 233.69 L208.12 233.73 L208.3 233.78 L208.48 233.82 L208.65 233.87 L208.83 233.91 L209 233.96 L209.18 234 L209.36 234.05 L209.53 234.09 L209.71 234.13 L209.88 234.18 L210.06 234.22 L210.24 234.27 L210.41 234.31 L210.59 234.35 L210.76 234.4 L210.94 234.44 L211.12 234.48 L211.29 234.53 L211.47 234.57 L211.64 234.61 L211.82 234.66 L212 234.7 L212.17 234.74 L212.35 234.79 L212.52 234.83 L212.7 234.87 L212.88 234.91 L213.05 234.96 L213.23 235 L213.4 235.04 L213.58 235.08 L213.76 235.12 L213.93 235.16 L214.11 235.21 L214.28 235.25 L214.46 235.29 L214.64 235.33 L214.81 235.37 L214.99 235.4 L215.16 235.44 L215.34 235.48 L215.52 235.52 L215.69 235.56 L215.87 235.59 L216.04 235.63 L216.22 235.67 L216.4 235.7 L216.57 235.74 L216.75 235.78 L216.92 235.81 L217.1 235.85 L217.28 235.88 L217.45 235.92 L217.63 235.95 L217.8 235.99 L217.98 236.02 L218.16 236.06 L218.33 236.09 L218.51 236.13 L218.68 236.16 L218.86 236.2 L219.04 236.23 L219.21 236.26 L219.39 236.3 L219.56 236.33 L219.74 236.36 L219.92 236.39 L220.09 236.43 L220.27 236.46 L220.44 236.49 L220.62 236.52 L220.8 236.55 L220.97 236.58 L221.15 236.61 L221.32 236.64 L221.5 236.67 L221.68 236.69 L221.85 236.72 L222.03 236.75 L222.2 236.78 L222.38 236.81 L222.56 236.84 L222.73 236.86 L222.91 236.89 L223.08 236.92 L223.26 236.95 L223.44 236.97 L223.61 237 L223.79 237.03 L223.96 237.06 L224.14 237.08 L224.32 237.11 L224.49 237.13 L224.67 237.16 L224.84 237.19 L225.02 237.21 L225.2 237.24 L225.37 237.26 L225.55 237.29 L225.72 237.31 L225.9 237.34 L226.08 237.36 L226.25 237.38 L226.43 237.41 L226.6 237.43 L226.78 237.45 L226.96 237.47 L227.13 237.5 L227.31 237.52 L227.48 237.54 L227.66 237.56 L227.84 237.58 L228.01 237.61 L228.19 237.63 L228.36 237.65 L228.36 238 L119.24 238 Z" fill="none" stroke="#1a1a1a" stroke-width="0.7" stroke-linejoin="round"/>
<path d="M99.36 237.54 L99.88 237.41 L100.41 237.25 L100.94 237.04 L101.47 236.8 L102 236.49 L102.52 236.12 L103.05 235.66 L103.58 235.11 L104.11 234.45 L104.64 233.65 L105.16 232.71 L105.69 231.6 L106.22 230.29 L106.75 228.76 L107.28 226.98 L107.8 224.92 L108.33 222.56 L108.86 219.87 L109.39 216.81 L109.92 213.36 L110.44 209.49 L110.97 205.19 L111.5 200.42 L112.03 195.18 L112.56 189.46 L113.08 183.24 L113.61 176.54 L114.14 169.37 L114.67 161.75 L115.2 153.72 L115.72 145.3 L116.25 136.55 L116.78 127.54 L117.31 118.34 L117.84 109.01 L118.36 99.66 L118.89 90.37 L119.42 81.25 L119.95 72.41 L120.48 63.95 L121 55.97 L121.53 48.59 L122.06 41.91 L122.59 36.01 L123.12 30.97 L123.64 26.88 L124.17 23.8 L124.7 21.76 L125.23 20.79 L125.76 20.93 L126.28 22.16 L126.81 24.48 L127.34 27.84 L127.87 32.19 L128.4 36.91 L128.92 42.35 L129.45 48.69 L129.98 55.82 L130.51 63.65 L131.04 72.05 L131.56 80.91 L132.09 90.11 L132.62 99.53 L133.15 109.07 L133.68 118.6 L134.2 128.03 L134.73 137.28 L135.26 146.25 L135.79 154.88 L136.32 163.1 L136.84 170.89 L137.37 178.11 L137.9 184.61 L138.43 190.63 L138.96 196.15 L139.48 201.2 L140.01 205.76 L140.54 209.88 L141.07 213.56 L141.6 216.83 L142.12 219.72 L142.65 222.25 L143.18 224.46 L143.71 226.37 L144.24 228.02 L144.76 229.07 L145.29 229.31 L145.82 229.51 L146.35 229.68 L146.88 229.83 L147.4 229.96 L147.93 230.06 L148.46 230.15 L148.99 230.23 L149.52 230.29 L150.04 230.35 L150.57 230.39 L151.1 230.43 L151.63 230.46 L152.16 230.48 L152.68 230.51 L153.21 230.52 L153.74 230.54 L154.27 230.55 L154.8 230.56 L155.32 230.57 L155.85 230.58 L156.38 230.59 L156.91 230.59 L157.44 230.6 L157.96 230.6 L158.49 230.61 L159.02 230.61 L159.55 230.61 L160.08 230.62 L160.6 230.62 L161.13 230.62 L161.66 230.63 L162.19 230.63 L162.72 230.63 L163.24 230.64 L163.77 230.64 L164.3 230.64 L164.83 230.65 L165.36 230.65 L165.88 230.65 L166.41 230.65 L166.94 230.65 L167.47 230.66 L168 230.66 L168.52 230.66 L169.05 230.66 L169.58 230.66 L170.11 230.66 L170.64 230.66 L171.16 230.66 L171.69 230.66 L172.22 230.65 L172.75 230.64 L173.28 230.63 L173.8 230.62 L174.33 230.61 L174.86 230.59 L175.39 230.57 L175.92 230.54 L176.44 230.52 L176.97 230.49 L177.5 230.46 L178.03 230.42 L178.56 230.39 L179.08 230.35 L179.61 230.3 L180.14 230.25 L180.67 230.2 L181.2 230.15 L181.72 230.09 L182.25 230.02 L182.78 229.95 L183.31 229.88 L183.84 229.81 L184.36 229.74 L184.89 229.66 L185.42 229.57 L185.95 229.48 L186.48 229.38 L187 229.27 L187.53 229.16 L188.06 229.03 L188.59 228.89 L189.12 228.75 L189.64 228.59 L190.17 228.43 L190.7 228.26 L191.23 228.08 L191.76 227.9 L192.28 227.72 L192.81 227.53 L193.34 227.33 L193.87 227.13 L194.4 226.92 L194.92 226.71 L195.45 226.48 L195.98 226.24 L196.51 225.99 L197.04 225.74 L197.56 225.48 L198.09 225.22 L198.62 224.95 L199.15 224.69 L199.68 224.42 L200.2 224.17 L200.73 223.91 L201.26 223.66 L201.79 223.41 L202.32 223.16 L202.84 222.92 L203.37 222.69 L203.9 222.47 L204.43 222.26 L204.96 222.07 L205.48 221.89 L206.01 221.72 L206.54 221.58 L207.07 221.44 L207.6 221.33 L208.12 221.24 L208.65 221.16 L209.18 221.1 L209.71 221.06 L210.24 221.05 L210.76 221.05 L211.29 221.08 L211.82 221.13 L212.35 221.2 L212.88 221.3 L213.4 221.42 L213.93 221.57 L214.46 221.74 L214.99 221.93 L215.52 222.13 L216.04 222.36 L216.57 222.62 L217.1 222.89 L217.63 223.18 L218.16 223.49 L218.68 223.82 L219.21 224.16 L219.74 224.52 L220.27 224.89 L220.8 225.27 L221.32 225.66 L221.85 226.07 L222.38 226.47 L222.91 226.89 L223.44 227.31 L223.96 227.74 L224.49 228.17 L225.02 228.6 L225.55 229.03 L226.08 229.45 L226.6 229.88 L227.13 230.29 L227.66 230.71 L228.19 231.11 L228.72 231.51 L229.24 231.9 L229.77 232.28 L230.3 232.65 L230.83 233 L231.36 233.33 L231.88 233.64 L232.41 233.93 L232.94 234.21 L233.47 234.46 L234 234.71 L234.52 234.94 L235.05 235.16 L235.58 235.37 L236.11 235.57 L236.64 235.76 L237.16 235.94 L237.69 236.1 L238.22 236.26 L238.75 236.41 L239.28 236.54 L239.8 236.67 L240.33 236.79 L240.86 236.9 L241.39 237 L241.92 237.09 L242.44 237.18 L242.97 237.26 L243.5 237.33 L244.03 237.4 L244.56 237.46 L245.08 237.52" fill="none" stroke="#5a7a7a" stroke-width="0.8" stroke-linejoin="round"/>
<path d="M36.7 238 L37.4 238 L38.11 238 L38.81 238 L39.52 238 L40.22 238 L40.92 238 L41.63 238 L42.33 238 L43.04 238 L43.74 238 L44.44 238 L45.15 238 L45.85 238 L46.56 238 L47.26 238 L47.96 238 L48.67 238 L49.37 238 L50.08 238 L50.78 238 L51.48 238 L52.19 238 L52.89 238 L53.6 238 L54.3 238 L55 238 L55.71 238 L56.41 238 L57.12 238 L57.82 238 L58.52 238 L59.23 238 L59.93 238 L60.64 238 L61.34 238 L62.04 238 L62.75 238 L63.45 238 L64.16 238 L64.86 238 L65.56 238 L66.27 238 L66.97 238 L67.68 238 L68.38 238 L69.08 238 L69.79 238 L70.49 238 L71.2 238 L71.9 238 L72.6 238 L73.31 238 L74.01 238 L74.72 238 L75.42 238 L76.12 238 L76.83 238 L77.53 238 L78.24 238 L78.94 238 L79.64 238 L80.35 238 L81.05 238 L81.76 238 L82.46 238 L83.16 238 L83.87 238 L84.57 238 L85.28 238 L85.98 238 L86.68 238 L87.39 238 L88.09 238 L88.8 238 L89.5 238 L90.2 238 L90.91 238 L91.61 238 L92.32 238 L93.02 238 L93.72 238 L94.43 238 L95.13 238 L95.84 238 L96.54 238 L97.24 238 L97.95 238 L98.65 238 L99.36 238 L100.06 238 L100.76 237.12 L101.47 236.8 L102.17 236.37 L102.88 235.82 L103.58 235.11 L104.28 234.2 L104.99 233.04 L105.69 231.6 L106.4 229.8 L107.1 227.6 L107.8 224.92 L108.51 221.7 L109.21 217.87 L109.92 213.36 L110.62 208.11 L111.32 202.06 L112.03 195.18 L112.73 187.44 L113.44 178.83 L114.14 169.37 L114.84 159.12 L115.55 148.14 L116.25 136.55 L116.96 124.49 L117.66 112.13 L118.36 99.66 L119.07 87.31 L119.77 75.32 L120.48 63.94 L121.18 53.44 L121.88 44.04 L122.59 35.99 L123.29 29.47 L124 24.66 L124.7 21.67 L125.4 20.58 L126.11 21.4 L126.81 24.11 L127.52 28.61 L128.22 34.44 L128.92 41.07 L129.63 49.13 L130.33 58.37 L131.04 68.49 L131.74 79.2 L132.44 90.21 L133.15 101.26 L133.85 112.12 L134.56 122.61 L135.26 132.62 L135.96 142.08 L136.67 150.97 L137.37 159.23 L138.08 166.67 L138.78 173.71 L139.48 180.41 L140.19 186.79 L140.89 192.88 L141.6 198.66 L142.3 204.09 L143 207.03 L143.71 212.18 L144.41 217.74 L145.12 221.6 L145.82 223.6 L146.52 224.95 L147.23 226.02 L147.93 226.94 L148.64 227.61 L149.34 228.41 L150.04 230.06 L150.75 231.56 L151.45 231.59 L152.16 230.19 L152.86 228.74 L153.56 229.31 L154.27 230.53 L154.97 231.72 L155.68 231.36 L156.38 230.98 L157.08 230.39 L157.79 229.18 L158.49 227.97 L159.2 228.18 L159.9 229.82 L160.6 231.46 L161.31 231.74 L162.01 231.58 L162.72 231.42 L163.42 230.28 L164.12 229.14 L164.83 228.65 L165.53 230.09 L166.24 231.53 L166.94 232.08 L167.64 231.72 L168.35 231.37 L169.05 230.89 L169.76 230.36 L170.46 229.84 L171.16 229.86 L171.87 229.88 L172.57 229.87 L173.28 229.77 L173.98 229.66 L174.68 229.65 L175.39 229.73 L176.09 229.8 L176.8 229.36 L177.5 228.76 L178.2 228.14 L178.91 228.24 L179.61 228.33 L180.32 228.42 L181.02 228.54 L181.72 228.65 L182.43 228.99 L183.13 229.58 L183.84 230.17 L184.54 230.22 L185.24 230.07 L185.95 229.91 L186.65 230.42 L187.36 230.93 L188.06 230.86 L188.76 229.04 L189.47 227.16 L190.17 226.83 L190.88 228.08 L191.58 229.36 L192.28 228.14 L192.99 226.05 L193.69 223.89 L194.4 222.84 L195.1 221.75 L195.8 221.29 L196.51 222.84 L197.21 224.43 L197.92 224.9 L198.62 224.19 L199.32 223.48 L200.03 222.86 L200.73 222.28 L201.44 221.71 L202.14 220.29 L202.84 218.87 L203.55 218.04 L204.25 219.02 L204.96 220.06 L205.66 220.17 L206.36 219.33 L207.07 218.53 L207.77 218.45 L208.48 218.65 L209.18 218.89 L209.88 218.62 L210.59 218.4 L211.29 217.97 L212 216.8 L212.7 215.69 L213.4 216.2 L214.11 218.31 L214.81 220.44 L215.52 220.6 L216.22 220.16 L216.92 219.77 L217.63 220.1 L218.33 220.46 L219.04 220.8 L219.74 220.95 L220.44 221.15 L221.15 222.35 L221.85 224.49 L222.56 226.58 L223.26 226.37 L223.96 225.48 L224.67 224.68 L225.37 225.83 L226.08 226.95 L226.78 227.87 L227.48 228.31 L228.19 228.75 L228.89 229.51 L229.6 230.55 L230.3 231.52 L231 232.73 L231.71 233.93 L232.41 235.04 L233.12 235 L233.82 234.97 L234.52 234.9 L235.23 234.73 L235.93 234.59 L236.64 234.81 L237.34 235.34 L238.04 235.82 L238.75 236.12 L239.45 236.35 L240.16 236.56 L240.86 236.35 L241.56 234.69 L242.27 235.17 L242.97 235.01 L243.68 235.09 L244.38 236.28 L245.08 236.51 L245.79 236.56 L246.49 236.41 L247.2 236.26 L247.9 236.16 L248.6 236.24 L249.31 236.31 L250.01 236.38 L250.72 236.9 L251.42 236.82 L252.12 236.36 L252.83 236.58 L253.53 237.03 L254.24 236.89 L254.94 236.68 L255.64 236.68 L256.35 236.67 L257.05 236.75 L257.76 237.1 L258.46 237 L259.16 236.67 L259.87 236.67 L260.57 236.67 L261.28 236.67 L261.98 236.59 L262.68 236.49 L263.39 236.39 L264.09 236.45 L264.8 236.67 L265.5 236.88 L266.2 237.22 L266.91 236.6 L267.61 235.92 L268.32 235.25 L269.02 236.09 L269.72 236.92 L270.43 236.74 L271.13 236.56 L271.84 236.61 L272.54 236.65 L273.24 236.59 L273.95 236.41 L274.65 236.22 L275.36 236.25 L276.06 236.9 L276.76 236.93 L277.47 236.28 L278.17 237.03 L278.88 235.85 L279.58 234.68 L280.28 235.37 L280.99 236.68 L281.69 236.5 L282.4 236.19 L283.1 236.87 L283.8 236.93 L284.51 236.48 L285.21 236.72 L285.92 236.95 L286.62 237.19 L287.32 237.11 L288.03 236.92 L288.73 236.74 L289.44 237.03 L290.14 237 L290.84 236.54 L291.55 236.51 L292.25 236.89 L292.96 237.21 L293.66 236.74 L294.36 236.03 L295.07 235.31 L295.77 234.59 L296.48 235 L297.18 235.41 L297.88 235.82 L298.59 236.34 L299.29 236.91 L300 237.01 L300.7 236.41" fill="none" stroke="#1c1c1c" stroke-width="0.95" stroke-linejoin="round"/>
<path d="M36.7 11.05 V238 M36.7 238 H300.7 M36.7 238 v9.3 M45.5 238 v4.8 M54.3 238 v4.8 M63.1 238 v4.8 M71.9 238 v9.3 M80.7 238 v4.8 M89.5 238 v4.8 M98.3 238 v4.8 M107.1 238 v9.3 M115.9 238 v4.8 M124.7 238 v4.8 M133.5 238 v4.8 M142.3 238 v9.3 M151.1 238 v4.8 M159.9 238 v4.8 M168.7 238 v4.8 M177.5 238 v9.3 M186.3 238 v4.8 M195.1 238 v4.8 M203.9 238 v4.8 M212.7 238 v9.3 M221.5 238 v4.8 M230.3 238 v4.8 M239.1 238 v4.8 M247.9 238 v9.3 M256.7 238 v4.8 M265.5 238 v4.8 M274.3 238 v4.8 M283.1 238 v9.3 M291.9 238 v4.8 M300.7 238 v4.8 M36.7 238 h-9.3 M36.7 230.44 h-4.8 M36.7 222.87 h-4.8 M36.7 215.31 h-4.8 M36.7 207.74 h-4.8 M36.7 200.18 h-9.3 M36.7 192.61 h-4.8 M36.7 185.05 h-4.8 M36.7 177.48 h-4.8 M36.7 169.92 h-4.8 M36.7 162.35 h-9.3 M36.7 154.79 h-4.8 M36.7 147.22 h-4.8 M36.7 139.66 h-4.8 M36.7 132.09 h-4.8 M36.7 124.53 h-9.3 M36.7 116.96 h-4.8 M36.7 109.4 h-4.8 M36.7 101.83 h-4.8 M36.7 94.27 h-4.8 M36.7 86.7 h-9.3 M36.7 79.14 h-4.8 M36.7 71.57 h-4.8 M36.7 64.01 h-4.8 M36.7 56.44 h-4.8 M36.7 48.88 h-9.3 M36.7 41.31 h-4.8 M36.7 33.75 h-4.8 M36.7 26.18 h-4.8 M36.7 18.62 h-4.8 M36.7 11.05 h-9.3" fill="none" stroke="#3e3e3e" stroke-width="1.15"/>
<g class="tk">
<text x="36.7" y="257.4">0</text>
<text x="71.9" y="257.4">20</text>
<text x="107.1" y="257.4">40</text>
<text x="142.3" y="257.4">60</text>
<text x="177.5" y="257.4">80</text>
<text x="212.7" y="257.4">100</text>
<text x="247.9" y="257.4">120</text>
<text x="283.1" y="257.4">140</text>
<text transform="translate(23.9 238) rotate(-90)">0</text>
<text transform="translate(23.9 200.18) rotate(-90)">100</text>
<text transform="translate(23.9 162.35) rotate(-90)">200</text>
<text transform="translate(23.9 124.53) rotate(-90)">300</text>
<text transform="translate(23.9 86.7) rotate(-90)">400</text>
<text transform="translate(23.9 48.88) rotate(-90)">500</text>
<text transform="translate(23.9 11.05) rotate(-90)">600</text>
<text class="nl" transform="translate(10.9 125.12) rotate(-90)">Number</text>
<text class="xl" x="168.7" y="268.4">FL10-A PE-A</text>
</g>
<path d="M123.29 238.3 l-4.4 7.5 h8.8 Z" fill="#111"/>
<path d="M214.46 238.3 l-4.4 7.5 h8.8 Z" fill="#111"/>
<text class="cap" x="96.3" y="292.7">Control</text>
</g>
<g id="p2">
<path d="M405.56 237.65 L405.74 237.61 L405.92 237.57 L406.09 237.53 L406.27 237.48 L406.44 237.43 L406.62 237.38 L406.8 237.31 L406.97 237.25 L407.15 237.17 L407.32 237.09 L407.5 237.01 L407.68 236.92 L407.85 236.81 L408.03 236.71 L408.2 236.59 L408.38 236.46 L408.56 236.32 L408.73 236.17 L408.91 236.01 L409.08 235.84 L409.26 235.65 L409.44 235.45 L409.61 235.23 L409.79 235 L409.96 234.75 L410.14 234.48 L410.32 234.19 L410.49 233.89 L410.67 233.56 L410.84 233.21 L411.02 232.83 L411.2 232.43 L411.37 232.01 L411.55 231.56 L411.72 231.07 L411.9 230.56 L412.08 230.02 L412.25 229.44 L412.43 228.83 L412.6 228.18 L412.78 227.49 L412.96 226.77 L413.13 226 L413.31 225.19 L413.48 224.34 L413.66 223.44 L413.84 222.5 L414.01 221.5 L414.19 220.46 L414.36 219.37 L414.54 218.22 L414.72 217.01 L414.89 215.76 L415.07 214.44 L415.24 213.06 L415.42 211.63 L415.6 210.13 L415.77 208.58 L415.95 206.95 L416.12 205.27 L416.3 203.52 L416.48 201.7 L416.65 199.82 L416.83 197.88 L417 195.86 L417.18 193.78 L417.36 191.63 L417.53 189.41 L417.71 187.13 L417.88 184.78 L418.06 182.37 L418.24 179.89 L418.41 177.35 L418.59 174.74 L418.76 172.07 L418.94 169.35 L419.12 166.57 L419.29 163.73 L419.47 160.84 L419.64 157.89 L419.82 154.9 L420 151.87 L420.17 148.79 L420.35 145.67 L420.52 142.52 L420.7 139.34 L420.88 136.13 L421.05 132.89 L421.23 129.64 L421.4 126.37 L421.58 123.1 L421.76 119.82 L421.93 116.53 L422.11 113.26 L422.28 109.99 L422.46 106.74 L422.64 103.51 L422.81 100.31 L422.99 97.14 L423.16 94.01 L423.34 90.92 L423.52 87.88 L423.69 84.9 L423.87 81.97 L424.04 79.12 L424.22 76.34 L424.4 73.63 L424.57 71.01 L424.75 68.48 L424.92 66.04 L425.1 63.71 L425.28 61.47 L425.45 59.35 L425.63 57.34 L425.8 55.45 L425.98 53.68 L426.16 52.03 L426.33 50.52 L426.51 49.14 L426.68 47.9 L426.86 46.8 L427.04 45.83 L427.21 45.02 L427.39 44.35 L427.56 43.82 L427.74 43.45 L427.92 43.22 L428.09 43.15 L428.27 43.21 L428.44 43.38 L428.62 43.67 L428.8 44.07 L428.97 44.59 L429.15 45.22 L429.32 45.97 L429.5 46.82 L429.68 47.79 L429.85 48.86 L430.03 50.04 L430.2 51.32 L430.38 52.7 L430.56 54.18 L430.73 55.76 L430.91 57.43 L431.08 59.2 L431.26 61.05 L431.44 62.99 L431.61 65 L431.79 67.1 L431.96 69.27 L432.14 71.52 L432.32 73.83 L432.49 76.2 L432.67 78.64 L432.84 81.13 L433.02 83.68 L433.2 86.27 L433.37 88.91 L433.55 91.59 L433.72 94.31 L433.9 97.06 L434.08 99.84 L434.25 102.65 L434.43 105.48 L434.6 108.32 L434.78 111.18 L434.96 114.06 L435.13 116.93 L435.31 119.82 L435.48 122.7 L435.66 125.58 L435.84 128.45 L436.01 131.31 L436.19 134.16 L436.36 136.99 L436.54 139.81 L436.72 142.6 L436.89 145.37 L437.07 148.11 L437.24 150.82 L437.42 153.5 L437.6 156.15 L437.77 158.76 L437.95 161.33 L438.12 163.87 L438.3 166.36 L438.48 168.81 L438.65 171.22 L438.83 173.58 L439 175.89 L439.18 178.16 L439.36 180.38 L439.53 182.55 L439.71 184.67 L439.88 186.73 L440.06 188.75 L440.24 190.72 L440.41 192.63 L440.59 194.5 L440.76 196.31 L440.94 198.07 L441.12 199.78 L441.29 201.43 L441.47 203.04 L441.64 204.59 L441.82 206.1 L442 207.56 L442.17 208.96 L442.35 210.32 L442.52 211.63 L442.7 212.89 L442.88 214.11 L443.05 215.28 L443.23 216.41 L443.4 217.49 L443.58 218.53 L443.76 219.53 L443.93 220.49 L444.11 221.4 L444.28 222.28 L444.46 223.13 L444.64 223.93 L444.81 224.7 L444.99 225.43 L445.16 226.13 L445.34 226.8 L445.52 227.44 L445.69 228.05 L445.87 228.63 L446.04 229.17 L446.22 229.7 L446.4 230.19 L446.57 230.66 L446.75 231.11 L446.92 231.53 L447.1 231.93 L447.28 232.31 L447.45 232.67 L447.63 233.01 L447.8 233.33 L447.98 233.63 L448.16 233.92 L448.33 234.19 L448.51 234.44 L448.68 234.68 L448.86 234.9 L449.04 235.11 L449.21 235.31 L449.39 235.5 L449.56 235.67 L449.74 235.84 L449.92 235.99 L450.09 236.13 L450.27 236.27 L450.44 236.39 L450.62 236.51 L450.8 236.62 L450.97 236.72 L451.15 236.82 L451.32 236.91 L451.5 236.99 L451.68 237.07 L451.85 237.14 L452.03 237.2 L452.2 237.27 L452.38 237.32 L452.56 237.38 L452.73 237.43 L452.91 237.47 L453.08 237.52 L453.26 237.56 L453.44 237.59 L453.61 237.63 L453.79 237.66 L453.79 238 L405.56 238 Z" fill="#fb0000" stroke="#1a1a1a" stroke-width="0.7" stroke-linejoin="round"/>
<path d="M464.35 237.65 L464.52 237.64 L464.7 237.62 L464.88 237.61 L465.05 237.59 L465.23 237.57 L465.4 237.56 L465.58 237.54 L465.76 237.52 L465.93 237.5 L466.11 237.48 L466.28 237.46 L466.46 237.44 L466.64 237.42 L466.81 237.39 L466.99 237.37 L467.16 237.34 L467.34 237.32 L467.52 237.29 L467.69 237.27 L467.87 237.24 L468.04 237.21 L468.22 237.18 L468.4 237.15 L468.57 237.12 L468.75 237.08 L468.92 237.05 L469.1 237.02 L469.28 236.98 L469.45 236.94 L469.63 236.91 L469.8 236.87 L469.98 236.83 L470.16 236.79 L470.33 236.74 L470.51 236.7 L470.68 236.66 L470.86 236.61 L471.04 236.56 L471.21 236.51 L471.39 236.46 L471.56 236.41 L471.74 236.36 L471.92 236.31 L472.09 236.25 L472.27 236.2 L472.44 236.14 L472.62 236.08 L472.8 236.02 L472.97 235.95 L473.15 235.89 L473.32 235.82 L473.5 235.76 L473.68 235.69 L473.85 235.62 L474.03 235.55 L474.2 235.47 L474.38 235.4 L474.56 235.32 L474.73 235.24 L474.91 235.16 L475.08 235.08 L475.26 235 L475.44 234.91 L475.61 234.82 L475.79 234.74 L475.96 234.64 L476.14 234.55 L476.32 234.46 L476.49 234.36 L476.67 234.27 L476.84 234.17 L477.02 234.06 L477.2 233.96 L477.37 233.86 L477.55 233.75 L477.72 233.64 L477.9 233.53 L478.08 233.42 L478.25 233.31 L478.43 233.19 L478.6 233.07 L478.78 232.95 L478.96 232.83 L479.13 232.71 L479.31 232.58 L479.48 232.46 L479.66 232.33 L479.84 232.2 L480.01 232.07 L480.19 231.94 L480.36 231.8 L480.54 231.67 L480.72 231.53 L480.89 231.39 L481.07 231.25 L481.24 231.11 L481.42 230.96 L481.6 230.82 L481.77 230.67 L481.95 230.52 L482.12 230.37 L482.3 230.22 L482.48 230.07 L482.65 229.92 L482.83 229.76 L483 229.61 L483.18 229.45 L483.36 229.29 L483.53 229.13 L483.71 228.97 L483.88 228.81 L484.06 228.65 L484.24 228.49 L484.41 228.33 L484.59 228.16 L484.76 228 L484.94 227.84 L485.12 227.67 L485.29 227.5 L485.47 227.34 L485.64 227.17 L485.82 227.01 L486 226.84 L486.17 226.67 L486.35 226.51 L486.52 226.34 L486.7 226.17 L486.88 226.01 L487.05 225.84 L487.23 225.68 L487.4 225.51 L487.58 225.35 L487.76 225.18 L487.93 225.02 L488.11 224.86 L488.28 224.7 L488.46 224.54 L488.64 224.38 L488.81 224.22 L488.99 224.06 L489.16 223.9 L489.34 223.75 L489.52 223.6 L489.69 223.44 L489.87 223.29 L490.04 223.14 L490.22 223 L490.4 222.85 L490.57 222.71 L490.75 222.57 L490.92 222.43 L491.1 222.29 L491.28 222.16 L491.45 222.02 L491.63 221.89 L491.8 221.77 L491.98 221.64 L492.16 221.52 L492.33 221.4 L492.51 221.28 L492.68 221.17 L492.86 221.06 L493.04 220.95 L493.21 220.84 L493.39 220.74 L493.56 220.64 L493.74 220.55 L493.92 220.45 L494.09 220.36 L494.27 220.28 L494.44 220.19 L494.62 220.12 L494.8 220.04 L494.97 219.97 L495.15 219.9 L495.32 219.84 L495.5 219.77 L495.68 219.72 L495.85 219.66 L496.03 219.61 L496.2 219.57 L496.38 219.53 L496.56 219.49 L496.73 219.45 L496.91 219.42 L497.08 219.4 L497.26 219.38 L497.44 219.36 L497.61 219.34 L497.79 219.33 L497.96 219.33 L498.14 219.33 L498.32 219.33 L498.49 219.33 L498.67 219.34 L498.84 219.36 L499.02 219.38 L499.2 219.4 L499.37 219.42 L499.55 219.45 L499.72 219.49 L499.9 219.53 L500.08 219.57 L500.25 219.61 L500.43 219.66 L500.6 219.72 L500.78 219.77 L500.96 219.84 L501.13 219.9 L501.31 219.97 L501.48 220.04 L501.66 220.12 L501.84 220.19 L502.01 220.28 L502.19 220.36 L502.36 220.45 L502.54 220.55 L502.72 220.64 L502.89 220.74 L503.07 220.84 L503.24 220.95 L503.42 221.06 L503.6 221.17 L503.77 221.28 L503.95 221.4 L504.12 221.52 L504.3 221.64 L504.48 221.77 L504.65 221.89 L504.83 222.02 L505 222.16 L505.18 222.29 L505.36 222.43 L505.53 222.57 L505.71 222.71 L505.88 222.85 L506.06 223 L506.24 223.14 L506.41 223.29 L506.59 223.44 L506.76 223.6 L506.94 223.75 L507.12 223.9 L507.29 224.06 L507.47 224.22 L507.64 224.38 L507.82 224.54 L508 224.7 L508.17 224.86 L508.35 225.02 L508.52 225.18 L508.7 225.35 L508.88 225.51 L509.05 225.68 L509.23 225.84 L509.4 226.01 L509.58 226.17 L509.76 226.34 L509.93 226.51 L510.11 226.67 L510.28 226.84 L510.46 227.01 L510.64 227.17 L510.81 227.34 L510.99 227.5 L511.16 227.67 L511.34 227.84 L511.52 228 L511.69 228.16 L511.87 228.33 L512.04 228.49 L512.22 228.65 L512.4 228.81 L512.57 228.97 L512.75 229.13 L512.92 229.29 L513.1 229.45 L513.28 229.61 L513.45 229.76 L513.63 229.92 L513.8 230.07 L513.98 230.22 L514.16 230.37 L514.33 230.52 L514.51 230.67 L514.68 230.82 L514.86 230.96 L515.04 231.11 L515.21 231.25 L515.39 231.39 L515.56 231.53 L515.74 231.67 L515.92 231.8 L516.09 231.94 L516.27 232.07 L516.44 232.2 L516.62 232.33 L516.8 232.46 L516.97 232.58 L517.15 232.71 L517.32 232.83 L517.5 232.95 L517.68 233.07 L517.85 233.19 L518.03 233.31 L518.2 233.42 L518.38 233.53 L518.56 233.64 L518.73 233.75 L518.91 233.86 L519.08 233.96 L519.26 234.06 L519.44 234.17 L519.61 234.27 L519.79 234.36 L519.96 234.46 L520.14 234.55 L520.32 234.64 L520.49 234.74 L520.67 234.82 L520.84 234.91 L521.02 235 L521.2 235.08 L521.37 235.16 L521.55 235.24 L521.72 235.32 L521.9 235.4 L522.08 235.47 L522.25 235.55 L522.43 235.62 L522.6 235.69 L522.78 235.76 L522.96 235.82 L523.13 235.89 L523.31 235.95 L523.48 236.02 L523.66 236.08 L523.84 236.14 L524.01 236.2 L524.19 236.25 L524.36 236.31 L524.54 236.36 L524.72 236.41 L524.89 236.46 L525.07 236.51 L525.24 236.56 L525.42 236.61 L525.6 236.66 L525.77 236.7 L525.95 236.74 L526.12 236.79 L526.3 236.83 L526.48 236.87 L526.65 236.91 L526.83 236.94 L527 236.98 L527.18 237.02 L527.36 237.05 L527.53 237.08 L527.71 237.12 L527.88 237.15 L528.06 237.18 L528.24 237.21 L528.41 237.24 L528.59 237.27 L528.76 237.29 L528.94 237.32 L529.12 237.34 L529.29 237.37 L529.47 237.39 L529.64 237.42 L529.82 237.44 L530 237.46 L530.17 237.48 L530.35 237.5 L530.52 237.52 L530.7 237.54 L530.88 237.56 L531.05 237.57 L531.23 237.59 L531.4 237.61 L531.58 237.62 L531.76 237.64 L531.93 237.65 L531.93 238 L464.35 238 Z" fill="#fb0000" stroke="#1a1a1a" stroke-width="0.7" stroke-linejoin="round"/>
<clipPath id="sc2"><path d="M420.17 237.62 L420.35 237.57 L420.52 237.51 L420.7 237.44 L420.88 237.37 L421.05 237.3 L421.23 237.22 L421.4 237.14 L421.58 237.05 L421.76 236.96 L421.93 236.87 L422.11 236.78 L422.28 236.68 L422.46 236.58 L422.64 236.47 L422.81 236.36 L422.99 236.26 L423.16 236.14 L423.34 236.03 L423.52 235.92 L423.69 235.8 L423.87 235.68 L424.04 235.56 L424.22 235.44 L424.4 235.32 L424.57 235.2 L424.75 235.07 L424.92 234.94 L425.1 234.82 L425.28 234.69 L425.45 234.56 L425.63 234.43 L425.8 234.29 L425.98 234.16 L426.16 234.02 L426.33 233.88 L426.51 233.74 L426.68 233.6 L426.86 233.46 L427.04 233.31 L427.21 233.17 L427.39 233.02 L427.56 232.87 L427.74 232.72 L427.92 232.57 L428.09 232.41 L428.27 232.26 L428.44 232.1 L428.62 231.95 L428.8 231.79 L428.97 231.64 L429.15 231.48 L429.32 231.33 L429.5 231.17 L429.68 231.01 L429.85 230.86 L430.03 230.7 L430.2 230.54 L430.38 230.39 L430.56 230.23 L430.73 230.08 L430.91 229.92 L431.08 229.77 L431.26 229.62 L431.44 229.47 L431.61 229.31 L431.79 229.16 L431.96 229.01 L432.14 228.86 L432.32 228.72 L432.49 228.57 L432.67 228.42 L432.84 228.27 L433.02 228.13 L433.2 227.98 L433.37 227.84 L433.55 227.69 L433.72 227.55 L433.9 227.41 L434.08 227.26 L434.25 227.12 L434.43 226.98 L434.6 226.84 L434.78 226.7 L434.96 226.56 L435.13 226.43 L435.31 226.29 L435.48 226.16 L435.66 226.03 L435.84 225.9 L436.01 225.78 L436.19 225.66 L436.36 225.54 L436.54 225.42 L436.72 225.31 L436.89 225.21 L437.07 225.1 L437.24 225.01 L437.42 224.91 L437.6 224.82 L437.77 224.73 L437.95 224.65 L438.12 224.57 L438.3 224.5 L438.48 224.43 L438.65 224.36 L438.83 224.3 L439 224.24 L439.18 224.19 L439.36 224.14 L439.53 224.09 L439.71 224.05 L439.88 224.01 L440.06 223.98 L440.24 223.95 L440.41 223.93 L440.59 223.91 L440.76 223.89 L440.94 223.87 L441.12 223.86 L441.29 223.86 L441.47 223.85 L441.64 223.85 L441.82 223.85 L442 223.85 L442.17 223.85 L442.35 223.85 L442.52 223.85 L442.7 223.86 L442.88 223.86 L443.05 223.87 L443.23 223.87 L443.4 223.88 L443.58 223.89 L443.76 223.89 L443.93 223.89 L444.11 223.9 L444.28 223.9 L444.46 223.91 L444.64 223.91 L444.81 223.91 L444.99 223.92 L445.16 223.92 L445.34 223.92 L445.52 223.92 L445.69 223.92 L445.87 223.92 L446.04 223.93 L446.22 223.93 L446.4 223.93 L446.57 223.93 L446.75 223.93 L446.92 223.93 L447.1 223.93 L447.28 223.93 L447.45 223.93 L447.63 223.93 L447.8 223.93 L447.98 223.93 L448.16 223.93 L448.33 223.93 L448.51 223.93 L448.68 223.93 L448.86 223.93 L449.04 223.93 L449.21 223.93 L449.39 223.93 L449.56 223.93 L449.74 223.93 L449.92 223.93 L450.09 223.93 L450.27 223.93 L450.44 223.93 L450.62 223.93 L450.8 223.93 L450.97 223.93 L451.15 223.93 L451.32 223.93 L451.5 223.93 L451.68 223.93 L451.85 223.93 L452.03 223.93 L452.2 223.93 L452.38 223.93 L452.56 223.93 L452.73 223.93 L452.91 223.93 L453.08 223.93 L453.26 223.93 L453.44 223.93 L453.61 223.93 L453.79 223.93 L453.96 223.93 L454.14 223.93 L454.32 223.93 L454.49 223.93 L454.67 223.93 L454.84 223.93 L455.02 223.93 L455.2 223.93 L455.37 223.93 L455.55 223.93 L455.72 223.93 L455.9 223.93 L456.08 223.93 L456.25 223.93 L456.43 223.93 L456.6 223.93 L456.78 223.93 L456.96 223.93 L457.13 223.93 L457.31 223.93 L457.48 223.93 L457.66 223.93 L457.84 223.93 L458.01 223.93 L458.19 223.93 L458.36 223.93 L458.54 223.93 L458.72 223.93 L458.89 223.93 L459.07 223.93 L459.24 223.93 L459.42 223.93 L459.6 223.93 L459.77 223.93 L459.95 223.93 L460.12 223.93 L460.3 223.93 L460.48 223.93 L460.65 223.93 L460.83 223.93 L461 223.93 L461.18 223.93 L461.36 223.93 L461.53 223.93 L461.71 223.93 L461.88 223.93 L462.06 223.93 L462.24 223.93 L462.41 223.94 L462.59 223.94 L462.76 223.94 L462.94 223.94 L463.12 223.94 L463.29 223.94 L463.47 223.95 L463.64 223.95 L463.82 223.95 L464 223.95 L464.17 223.95 L464.35 223.96 L464.52 223.96 L464.7 223.96 L464.88 223.97 L465.05 223.97 L465.23 223.97 L465.4 223.98 L465.58 223.98 L465.76 223.98 L465.93 223.99 L466.11 223.99 L466.28 223.99 L466.46 224 L466.64 224 L466.81 224 L466.99 224 L467.16 224.01 L467.34 224.01 L467.52 224.01 L467.69 224.02 L467.87 224.02 L468.04 224.02 L468.22 224.03 L468.4 224.03 L468.57 224.03 L468.75 224.04 L468.92 224.04 L469.1 224.04 L469.28 224.05 L469.45 224.05 L469.63 224.05 L469.8 224.06 L469.98 224.06 L470.16 224.06 L470.33 224.07 L470.51 224.07 L470.68 224.08 L470.86 224.08 L471.04 224.08 L471.21 224.09 L471.39 224.09 L471.56 224.1 L471.74 224.1 L471.92 224.11 L472.09 224.12 L472.27 224.12 L472.44 224.13 L472.62 224.14 L472.8 224.15 L472.97 224.16 L473.15 224.17 L473.32 224.19 L473.5 224.2 L473.68 224.22 L473.85 224.23 L474.03 224.25 L474.2 224.27 L474.38 224.29 L474.56 224.3 L474.73 224.32 L474.91 224.34 L475.08 224.37 L475.26 224.39 L475.44 224.41 L475.61 224.43 L475.79 224.45 L475.96 224.48 L476.14 224.5 L476.32 224.52 L476.49 224.55 L476.67 224.57 L476.84 224.59 L477.02 224.62 L477.2 224.64 L477.37 224.66 L477.55 224.69 L477.72 224.71 L477.9 224.73 L478.08 224.76 L478.25 224.78 L478.43 224.81 L478.6 224.83 L478.78 224.86 L478.96 224.88 L479.13 224.91 L479.31 224.93 L479.48 224.96 L479.66 224.99 L479.84 225.01 L480.01 225.04 L480.19 225.07 L480.36 225.09 L480.54 225.12 L480.72 225.15 L480.89 225.18 L481.07 225.21 L481.24 225.24 L481.42 225.27 L481.6 225.29 L481.77 225.32 L481.95 225.35 L482.12 225.38 L482.3 225.41 L482.48 225.44 L482.65 225.47 L482.83 225.5 L483 225.53 L483.18 225.56 L483.36 225.59 L483.53 225.63 L483.71 225.66 L483.88 225.69 L484.06 225.72 L484.24 225.76 L484.41 225.8 L484.59 225.83 L484.76 225.87 L484.94 225.91 L485.12 225.95 L485.29 226 L485.47 226.04 L485.64 226.09 L485.82 226.14 L486 226.19 L486.17 226.25 L486.35 226.3 L486.52 226.36 L486.7 226.42 L486.88 226.48 L487.05 226.54 L487.23 226.61 L487.4 226.67 L487.58 226.74 L487.76 226.81 L487.93 226.88 L488.11 226.95 L488.28 227.02 L488.46 227.09 L488.64 227.16 L488.81 227.23 L488.99 227.3 L489.16 227.37 L489.34 227.44 L489.52 227.52 L489.69 227.59 L489.87 227.66 L490.04 227.73 L490.22 227.8 L490.4 227.87 L490.57 227.94 L490.75 228.01 L490.92 228.08 L491.1 228.15 L491.28 228.22 L491.45 228.29 L491.63 228.36 L491.8 228.42 L491.98 228.49 L492.16 228.56 L492.33 228.62 L492.51 228.69 L492.68 228.75 L492.86 228.81 L493.04 228.88 L493.21 228.94 L493.39 229 L493.56 229.06 L493.74 229.12 L493.92 229.19 L494.09 229.25 L494.27 229.31 L494.44 229.37 L494.62 229.43 L494.8 229.49 L494.97 229.55 L495.15 229.61 L495.32 229.66 L495.5 229.72 L495.68 229.78 L495.85 229.84 L496.03 229.9 L496.2 229.96 L496.38 230.02 L496.56 230.08 L496.73 230.14 L496.91 230.2 L497.08 230.26 L497.26 230.32 L497.44 230.39 L497.61 230.45 L497.79 230.51 L497.96 230.57 L498.14 230.63 L498.32 230.7 L498.49 230.76 L498.67 230.82 L498.84 230.89 L499.02 230.95 L499.2 231.02 L499.37 231.08 L499.55 231.15 L499.72 231.21 L499.9 231.28 L500.08 231.34 L500.25 231.41 L500.43 231.47 L500.6 231.54 L500.78 231.61 L500.96 231.67 L501.13 231.74 L501.31 231.81 L501.48 231.87 L501.66 231.94 L501.84 232 L502.01 232.07 L502.19 232.14 L502.36 232.2 L502.54 232.27 L502.72 232.33 L502.89 232.4 L503.07 232.46 L503.24 232.53 L503.42 232.59 L503.6 232.66 L503.77 232.72 L503.95 232.78 L504.12 232.84 L504.3 232.9 L504.48 232.97 L504.65 233.02 L504.83 233.08 L505 233.14 L505.18 233.2 L505.36 233.26 L505.53 233.31 L505.71 233.37 L505.88 233.42 L506.06 233.48 L506.24 233.53 L506.41 233.58 L506.59 233.64 L506.76 233.69 L506.94 233.74 L507.12 233.8 L507.29 233.85 L507.47 233.9 L507.64 233.95 L507.82 234 L508 234.06 L508.17 234.11 L508.35 234.16 L508.52 234.21 L508.7 234.26 L508.88 234.31 L509.05 234.36 L509.23 234.41 L509.4 234.46 L509.58 234.51 L509.76 234.56 L509.93 234.61 L510.11 234.66 L510.28 234.71 L510.46 234.75 L510.64 234.8 L510.81 234.84 L510.99 234.89 L511.16 234.93 L511.34 234.97 L511.52 235.02 L511.69 235.06 L511.87 235.1 L512.04 235.14 L512.22 235.18 L512.4 235.22 L512.57 235.26 L512.75 235.3 L512.92 235.34 L513.1 235.38 L513.28 235.42 L513.45 235.45 L513.63 235.49 L513.8 235.53 L513.98 235.57 L514.16 235.61 L514.33 235.64 L514.51 235.68 L514.68 235.72 L514.86 235.76 L515.04 235.79 L515.21 235.83 L515.39 235.87 L515.56 235.9 L515.74 235.94 L515.92 235.98 L516.09 236.01 L516.27 236.05 L516.44 236.09 L516.62 236.12 L516.8 236.15 L516.97 236.19 L517.15 236.22 L517.32 236.26 L517.5 236.29 L517.68 236.32 L517.85 236.35 L518.03 236.39 L518.2 236.42 L518.38 236.45 L518.56 236.48 L518.73 236.51 L518.91 236.54 L519.08 236.57 L519.26 236.6 L519.44 236.63 L519.61 236.66 L519.79 236.69 L519.96 236.72 L520.14 236.75 L520.32 236.78 L520.49 236.81 L520.67 236.84 L520.84 236.87 L521.02 236.9 L521.2 236.93 L521.37 236.96 L521.55 236.99 L521.72 237.02 L521.9 237.04 L522.08 237.07 L522.25 237.1 L522.43 237.13 L522.6 237.16 L522.78 237.18 L522.96 237.21 L523.13 237.24 L523.31 237.26 L523.48 237.29 L523.66 237.31 L523.84 237.34 L524.01 237.36 L524.19 237.39 L524.36 237.41 L524.54 237.44 L524.72 237.46 L524.89 237.48 L525.07 237.51 L525.24 237.53 L525.42 237.55 L525.6 237.57 L525.77 237.6 L525.95 237.62 L526.12 237.64 L526.12 238 L420.17 238 Z"/></clipPath>
<path clip-path="url(#sc2)" d="M403.29 221.85 l16.15 16.15 M407.57 221.85 l16.15 16.15 M411.85 221.85 l16.15 16.15 M416.13 221.85 l16.15 16.15 M420.41 221.85 l16.15 16.15 M424.69 221.85 l16.15 16.15 M428.97 221.85 l16.15 16.15 M433.25 221.85 l16.15 16.15 M437.53 221.85 l16.15 16.15 M441.81 221.85 l16.15 16.15 M446.09 221.85 l16.15 16.15 M450.37 221.85 l16.15 16.15 M454.65 221.85 l16.15 16.15 M458.93 221.85 l16.15 16.15 M463.21 221.85 l16.15 16.15 M467.49 221.85 l16.15 16.15 M471.77 221.85 l16.15 16.15 M476.05 221.85 l16.15 16.15 M480.33 221.85 l16.15 16.15 M484.61 221.85 l16.15 16.15 M488.89 221.85 l16.15 16.15 M493.17 221.85 l16.15 16.15 M497.45 221.85 l16.15 16.15 M501.73 221.85 l16.15 16.15 M506.01 221.85 l16.15 16.15 M510.29 221.85 l16.15 16.15 M514.57 221.85 l16.15 16.15 M518.85 221.85 l16.15 16.15 M523.13 221.85 l16.15 16.15" stroke="#4a4aff" stroke-width="1.05" fill="none"/>
<g clip-path="url(#sc2)" fill="#fb0000" fill-opacity="0.33">
<path d="M405.56 237.65 L405.92 237.57 L406.27 237.48 L406.62 237.38 L406.97 237.25 L407.32 237.09 L407.68 236.92 L408.03 236.71 L408.38 236.46 L408.73 236.17 L409.08 235.84 L409.44 235.45 L409.79 235 L410.14 234.48 L410.49 233.89 L410.84 233.21 L411.2 232.43 L411.55 231.56 L411.9 230.56 L412.25 229.44 L412.6 228.18 L412.96 226.77 L413.31 225.19 L413.66 223.44 L414.01 221.5 L414.36 219.37 L414.72 217.01 L415.07 214.44 L415.42 211.63 L415.77 208.58 L416.12 205.27 L416.48 201.7 L416.83 197.88 L417.18 193.78 L417.53 189.41 L417.88 184.78 L418.24 179.89 L418.59 174.74 L418.94 169.35 L419.29 163.73 L419.64 157.89 L420 151.87 L420.35 145.67 L420.7 139.34 L421.05 132.89 L421.4 126.37 L421.76 119.82 L422.11 113.26 L422.46 106.74 L422.81 100.31 L423.16 94.01 L423.52 87.88 L423.87 81.97 L424.22 76.34 L424.57 71.01 L424.92 66.04 L425.28 61.47 L425.63 57.34 L425.98 53.68 L426.33 50.52 L426.68 47.9 L427.04 45.83 L427.39 44.35 L427.74 43.45 L428.09 43.15 L428.44 43.38 L428.8 44.07 L429.15 45.22 L429.5 46.82 L429.85 48.86 L430.2 51.32 L430.56 54.18 L430.91 57.43 L431.26 61.05 L431.61 65 L431.96 69.27 L432.32 73.83 L432.67 78.64 L433.02 83.68 L433.37 88.91 L433.72 94.31 L434.08 99.84 L434.43 105.48 L434.78 111.18 L435.13 116.93 L435.48 122.7 L435.84 128.45 L436.19 134.16 L436.54 139.81 L436.89 145.37 L437.24 150.82 L437.6 156.15 L437.95 161.33 L438.3 166.36 L438.65 171.22 L439 175.89 L439.36 180.38 L439.71 184.67 L440.06 188.75 L440.41 192.63 L440.76 196.31 L441.12 199.78 L441.47 203.04 L441.82 206.1 L442.17 208.96 L442.52 211.63 L442.88 214.11 L443.23 216.41 L443.58 218.53 L443.93 220.49 L444.28 222.28 L444.64 223.93 L444.99 225.43 L445.34 226.8 L445.69 228.05 L446.04 229.17 L446.4 230.19 L446.75 231.11 L447.1 231.93 L447.45 232.67 L447.8 233.33 L448.16 233.92 L448.51 234.44 L448.86 234.9 L449.21 235.31 L449.56 235.67 L449.92 235.99 L450.27 236.27 L450.62 236.51 L450.97 236.72 L451.32 236.91 L451.68 237.07 L452.03 237.2 L452.38 237.32 L452.73 237.43 L453.08 237.52 L453.44 237.59 L453.79 237.66 L453.79 238 L405.56 238 Z"/>
<path d="M464.35 237.65 L464.7 237.62 L465.05 237.59 L465.4 237.56 L465.76 237.52 L466.11 237.48 L466.46 237.44 L466.81 237.39 L467.16 237.34 L467.52 237.29 L467.87 237.24 L468.22 237.18 L468.57 237.12 L468.92 237.05 L469.28 236.98 L469.63 236.91 L469.98 236.83 L470.33 236.74 L470.68 236.66 L471.04 236.56 L471.39 236.46 L471.74 236.36 L472.09 236.25 L472.44 236.14 L472.8 236.02 L473.15 235.89 L473.5 235.76 L473.85 235.62 L474.2 235.47 L474.56 235.32 L474.91 235.16 L475.26 235 L475.61 234.82 L475.96 234.64 L476.32 234.46 L476.67 234.27 L477.02 234.06 L477.37 233.86 L477.72 233.64 L478.08 233.42 L478.43 233.19 L478.78 232.95 L479.13 232.71 L479.48 232.46 L479.84 232.2 L480.19 231.94 L480.54 231.67 L480.89 231.39 L481.24 231.11 L481.6 230.82 L481.95 230.52 L482.3 230.22 L482.65 229.92 L483 229.61 L483.36 229.29 L483.71 228.97 L484.06 228.65 L484.41 228.33 L484.76 228 L485.12 227.67 L485.47 227.34 L485.82 227.01 L486.17 226.67 L486.52 226.34 L486.88 226.01 L487.23 225.68 L487.58 225.35 L487.93 225.02 L488.28 224.7 L488.64 224.38 L488.99 224.06 L489.34 223.75 L489.69 223.44 L490.04 223.14 L490.4 222.85 L490.75 222.57 L491.1 222.29 L491.45 222.02 L491.8 221.77 L492.16 221.52 L492.51 221.28 L492.86 221.06 L493.21 220.84 L493.56 220.64 L493.92 220.45 L494.27 220.28 L494.62 220.12 L494.97 219.97 L495.32 219.84 L495.68 219.72 L496.03 219.61 L496.38 219.53 L496.73 219.45 L497.08 219.4 L497.44 219.36 L497.79 219.33 L498.14 219.33 L498.49 219.33 L498.84 219.36 L499.2 219.4 L499.55 219.45 L499.9 219.53 L500.25 219.61 L500.6 219.72 L500.96 219.84 L501.31 219.97 L501.66 220.12 L502.01 220.28 L502.36 220.45 L502.72 220.64 L503.07 220.84 L503.42 221.06 L503.77 221.28 L504.12 221.52 L504.48 221.77 L504.83 222.02 L505.18 222.29 L505.53 222.57 L505.88 222.85 L506.24 223.14 L506.59 223.44 L506.94 223.75 L507.29 224.06 L507.64 224.38 L508 224.7 L508.35 225.02 L508.7 225.35 L509.05 225.68 L509.4 226.01 L509.76 226.34 L510.11 226.67 L510.46 227.01 L510.81 227.34 L511.16 227.67 L511.52 228 L511.87 228.33 L512.22 228.65 L512.57 228.97 L512.92 229.29 L513.28 229.61 L513.63 229.92 L513.98 230.22 L514.33 230.52 L514.68 230.82 L515.04 231.11 L515.39 231.39 L515.74 231.67 L516.09 231.94 L516.44 232.2 L516.8 232.46 L517.15 232.71 L517.5 232.95 L517.85 233.19 L518.2 233.42 L518.56 233.64 L518.91 233.86 L519.26 234.06 L519.61 234.27 L519.96 234.46 L520.32 234.64 L520.67 234.82 L521.02 235 L521.37 235.16 L521.72 235.32 L522.08 235.47 L522.43 235.62 L522.78 235.76 L523.13 235.89 L523.48 236.02 L523.84 236.14 L524.19 236.25 L524.54 236.36 L524.89 236.46 L525.24 236.56 L525.6 236.66 L525.95 236.74 L526.3 236.83 L526.65 236.91 L527 236.98 L527.36 237.05 L527.71 237.12 L528.06 237.18 L528.41 237.24 L528.76 237.29 L529.12 237.34 L529.47 237.39 L529.82 237.44 L530.17 237.48 L530.52 237.52 L530.88 237.56 L531.23 237.59 L531.58 237.62 L531.93 237.65 L531.93 238 L464.35 238 Z"/>
</g>
<path d="M420.17 237.62 L420.35 237.57 L420.52 237.51 L420.7 237.44 L420.88 237.37 L421.05 237.3 L421.23 237.22 L421.4 237.14 L421.58 237.05 L421.76 236.96 L421.93 236.87 L422.11 236.78 L422.28 236.68 L422.46 236.58 L422.64 236.47 L422.81 236.36 L422.99 236.26 L423.16 236.14 L423.34 236.03 L423.52 235.92 L423.69 235.8 L423.87 235.68 L424.04 235.56 L424.22 235.44 L424.4 235.32 L424.57 235.2 L424.75 235.07 L424.92 234.94 L425.1 234.82 L425.28 234.69 L425.45 234.56 L425.63 234.43 L425.8 234.29 L425.98 234.16 L426.16 234.02 L426.33 233.88 L426.51 233.74 L426.68 233.6 L426.86 233.46 L427.04 233.31 L427.21 233.17 L427.39 233.02 L427.56 232.87 L427.74 232.72 L427.92 232.57 L428.09 232.41 L428.27 232.26 L428.44 232.1 L428.62 231.95 L428.8 231.79 L428.97 231.64 L429.15 231.48 L429.32 231.33 L429.5 231.17 L429.68 231.01 L429.85 230.86 L430.03 230.7 L430.2 230.54 L430.38 230.39 L430.56 230.23 L430.73 230.08 L430.91 229.92 L431.08 229.77 L431.26 229.62 L431.44 229.47 L431.61 229.31 L431.79 229.16 L431.96 229.01 L432.14 228.86 L432.32 228.72 L432.49 228.57 L432.67 228.42 L432.84 228.27 L433.02 228.13 L433.2 227.98 L433.37 227.84 L433.55 227.69 L433.72 227.55 L433.9 227.41 L434.08 227.26 L434.25 227.12 L434.43 226.98 L434.6 226.84 L434.78 226.7 L434.96 226.56 L435.13 226.43 L435.31 226.29 L435.48 226.16 L435.66 226.03 L435.84 225.9 L436.01 225.78 L436.19 225.66 L436.36 225.54 L436.54 225.42 L436.72 225.31 L436.89 225.21 L437.07 225.1 L437.24 225.01 L437.42 224.91 L437.6 224.82 L437.77 224.73 L437.95 224.65 L438.12 224.57 L438.3 224.5 L438.48 224.43 L438.65 224.36 L438.83 224.3 L439 224.24 L439.18 224.19 L439.36 224.14 L439.53 224.09 L439.71 224.05 L439.88 224.01 L440.06 223.98 L440.24 223.95 L440.41 223.93 L440.59 223.91 L440.76 223.89 L440.94 223.87 L441.12 223.86 L441.29 223.86 L441.47 223.85 L441.64 223.85 L441.82 223.85 L442 223.85 L442.17 223.85 L442.35 223.85 L442.52 223.85 L442.7 223.86 L442.88 223.86 L443.05 223.87 L443.23 223.87 L443.4 223.88 L443.58 223.89 L443.76 223.89 L443.93 223.89 L444.11 223.9 L444.28 223.9 L444.46 223.91 L444.64 223.91 L444.81 223.91 L444.99 223.92 L445.16 223.92 L445.34 223.92 L445.52 223.92 L445.69 223.92 L445.87 223.92 L446.04 223.93 L446.22 223.93 L446.4 223.93 L446.57 223.93 L446.75 223.93 L446.92 223.93 L447.1 223.93 L447.28 223.93 L447.45 223.93 L447.63 223.93 L447.8 223.93 L447.98 223.93 L448.16 223.93 L448.33 223.93 L448.51 223.93 L448.68 223.93 L448.86 223.93 L449.04 223.93 L449.21 223.93 L449.39 223.93 L449.56 223.93 L449.74 223.93 L449.92 223.93 L450.09 223.93 L450.27 223.93 L450.44 223.93 L450.62 223.93 L450.8 223.93 L450.97 223.93 L451.15 223.93 L451.32 223.93 L451.5 223.93 L451.68 223.93 L451.85 223.93 L452.03 223.93 L452.2 223.93 L452.38 223.93 L452.56 223.93 L452.73 223.93 L452.91 223.93 L453.08 223.93 L453.26 223.93 L453.44 223.93 L453.61 223.93 L453.79 223.93 L453.96 223.93 L454.14 223.93 L454.32 223.93 L454.49 223.93 L454.67 223.93 L454.84 223.93 L455.02 223.93 L455.2 223.93 L455.37 223.93 L455.55 223.93 L455.72 223.93 L455.9 223.93 L456.08 223.93 L456.25 223.93 L456.43 223.93 L456.6 223.93 L456.78 223.93 L456.96 223.93 L457.13 223.93 L457.31 223.93 L457.48 223.93 L457.66 223.93 L457.84 223.93 L458.01 223.93 L458.19 223.93 L458.36 223.93 L458.54 223.93 L458.72 223.93 L458.89 223.93 L459.07 223.93 L459.24 223.93 L459.42 223.93 L459.6 223.93 L459.77 223.93 L459.95 223.93 L460.12 223.93 L460.3 223.93 L460.48 223.93 L460.65 223.93 L460.83 223.93 L461 223.93 L461.18 223.93 L461.36 223.93 L461.53 223.93 L461.71 223.93 L461.88 223.93 L462.06 223.93 L462.24 223.93 L462.41 223.94 L462.59 223.94 L462.76 223.94 L462.94 223.94 L463.12 223.94 L463.29 223.94 L463.47 223.95 L463.64 223.95 L463.82 223.95 L464 223.95 L464.17 223.95 L464.35 223.96 L464.52 223.96 L464.7 223.96 L464.88 223.97 L465.05 223.97 L465.23 223.97 L465.4 223.98 L465.58 223.98 L465.76 223.98 L465.93 223.99 L466.11 223.99 L466.28 223.99 L466.46 224 L466.64 224 L466.81 224 L466.99 224 L467.16 224.01 L467.34 224.01 L467.52 224.01 L467.69 224.02 L467.87 224.02 L468.04 224.02 L468.22 224.03 L468.4 224.03 L468.57 224.03 L468.75 224.04 L468.92 224.04 L469.1 224.04 L469.28 224.05 L469.45 224.05 L469.63 224.05 L469.8 224.06 L469.98 224.06 L470.16 224.06 L470.33 224.07 L470.51 224.07 L470.68 224.08 L470.86 224.08 L471.04 224.08 L471.21 224.09 L471.39 224.09 L471.56 224.1 L471.74 224.1 L471.92 224.11 L472.09 224.12 L472.27 224.12 L472.44 224.13 L472.62 224.14 L472.8 224.15 L472.97 224.16 L473.15 224.17 L473.32 224.19 L473.5 224.2 L473.68 224.22 L473.85 224.23 L474.03 224.25 L474.2 224.27 L474.38 224.29 L474.56 224.3 L474.73 224.32 L474.91 224.34 L475.08 224.37 L475.26 224.39 L475.44 224.41 L475.61 224.43 L475.79 224.45 L475.96 224.48 L476.14 224.5 L476.32 224.52 L476.49 224.55 L476.67 224.57 L476.84 224.59 L477.02 224.62 L477.2 224.64 L477.37 224.66 L477.55 224.69 L477.72 224.71 L477.9 224.73 L478.08 224.76 L478.25 224.78 L478.43 224.81 L478.6 224.83 L478.78 224.86 L478.96 224.88 L479.13 224.91 L479.31 224.93 L479.48 224.96 L479.66 224.99 L479.84 225.01 L480.01 225.04 L480.19 225.07 L480.36 225.09 L480.54 225.12 L480.72 225.15 L480.89 225.18 L481.07 225.21 L481.24 225.24 L481.42 225.27 L481.6 225.29 L481.77 225.32 L481.95 225.35 L482.12 225.38 L482.3 225.41 L482.48 225.44 L482.65 225.47 L482.83 225.5 L483 225.53 L483.18 225.56 L483.36 225.59 L483.53 225.63 L483.71 225.66 L483.88 225.69 L484.06 225.72 L484.24 225.76 L484.41 225.8 L484.59 225.83 L484.76 225.87 L484.94 225.91 L485.12 225.95 L485.29 226 L485.47 226.04 L485.64 226.09 L485.82 226.14 L486 226.19 L486.17 226.25 L486.35 226.3 L486.52 226.36 L486.7 226.42 L486.88 226.48 L487.05 226.54 L487.23 226.61 L487.4 226.67 L487.58 226.74 L487.76 226.81 L487.93 226.88 L488.11 226.95 L488.28 227.02 L488.46 227.09 L488.64 227.16 L488.81 227.23 L488.99 227.3 L489.16 227.37 L489.34 227.44 L489.52 227.52 L489.69 227.59 L489.87 227.66 L490.04 227.73 L490.22 227.8 L490.4 227.87 L490.57 227.94 L490.75 228.01 L490.92 228.08 L491.1 228.15 L491.28 228.22 L491.45 228.29 L491.63 228.36 L491.8 228.42 L491.98 228.49 L492.16 228.56 L492.33 228.62 L492.51 228.69 L492.68 228.75 L492.86 228.81 L493.04 228.88 L493.21 228.94 L493.39 229 L493.56 229.06 L493.74 229.12 L493.92 229.19 L494.09 229.25 L494.27 229.31 L494.44 229.37 L494.62 229.43 L494.8 229.49 L494.97 229.55 L495.15 229.61 L495.32 229.66 L495.5 229.72 L495.68 229.78 L495.85 229.84 L496.03 229.9 L496.2 229.96 L496.38 230.02 L496.56 230.08 L496.73 230.14 L496.91 230.2 L497.08 230.26 L497.26 230.32 L497.44 230.39 L497.61 230.45 L497.79 230.51 L497.96 230.57 L498.14 230.63 L498.32 230.7 L498.49 230.76 L498.67 230.82 L498.84 230.89 L499.02 230.95 L499.2 231.02 L499.37 231.08 L499.55 231.15 L499.72 231.21 L499.9 231.28 L500.08 231.34 L500.25 231.41 L500.43 231.47 L500.6 231.54 L500.78 231.61 L500.96 231.67 L501.13 231.74 L501.31 231.81 L501.48 231.87 L501.66 231.94 L501.84 232 L502.01 232.07 L502.19 232.14 L502.36 232.2 L502.54 232.27 L502.72 232.33 L502.89 232.4 L503.07 232.46 L503.24 232.53 L503.42 232.59 L503.6 232.66 L503.77 232.72 L503.95 232.78 L504.12 232.84 L504.3 232.9 L504.48 232.97 L504.65 233.02 L504.83 233.08 L505 233.14 L505.18 233.2 L505.36 233.26 L505.53 233.31 L505.71 233.37 L505.88 233.42 L506.06 233.48 L506.24 233.53 L506.41 233.58 L506.59 233.64 L506.76 233.69 L506.94 233.74 L507.12 233.8 L507.29 233.85 L507.47 233.9 L507.64 233.95 L507.82 234 L508 234.06 L508.17 234.11 L508.35 234.16 L508.52 234.21 L508.7 234.26 L508.88 234.31 L509.05 234.36 L509.23 234.41 L509.4 234.46 L509.58 234.51 L509.76 234.56 L509.93 234.61 L510.11 234.66 L510.28 234.71 L510.46 234.75 L510.64 234.8 L510.81 234.84 L510.99 234.89 L511.16 234.93 L511.34 234.97 L511.52 235.02 L511.69 235.06 L511.87 235.1 L512.04 235.14 L512.22 235.18 L512.4 235.22 L512.57 235.26 L512.75 235.3 L512.92 235.34 L513.1 235.38 L513.28 235.42 L513.45 235.45 L513.63 235.49 L513.8 235.53 L513.98 235.57 L514.16 235.61 L514.33 235.64 L514.51 235.68 L514.68 235.72 L514.86 235.76 L515.04 235.79 L515.21 235.83 L515.39 235.87 L515.56 235.9 L515.74 235.94 L515.92 235.98 L516.09 236.01 L516.27 236.05 L516.44 236.09 L516.62 236.12 L516.8 236.15 L516.97 236.19 L517.15 236.22 L517.32 236.26 L517.5 236.29 L517.68 236.32 L517.85 236.35 L518.03 236.39 L518.2 236.42 L518.38 236.45 L518.56 236.48 L518.73 236.51 L518.91 236.54 L519.08 236.57 L519.26 236.6 L519.44 236.63 L519.61 236.66 L519.79 236.69 L519.96 236.72 L520.14 236.75 L520.32 236.78 L520.49 236.81 L520.67 236.84 L520.84 236.87 L521.02 236.9 L521.2 236.93 L521.37 236.96 L521.55 236.99 L521.72 237.02 L521.9 237.04 L522.08 237.07 L522.25 237.1 L522.43 237.13 L522.6 237.16 L522.78 237.18 L522.96 237.21 L523.13 237.24 L523.31 237.26 L523.48 237.29 L523.66 237.31 L523.84 237.34 L524.01 237.36 L524.19 237.39 L524.36 237.41 L524.54 237.44 L524.72 237.46 L524.89 237.48 L525.07 237.51 L525.24 237.53 L525.42 237.55 L525.6 237.57 L525.77 237.6 L525.95 237.62 L526.12 237.64 L526.12 238 L420.17 238 Z" fill="none" stroke="#1a1a1a" stroke-width="0.7" stroke-linejoin="round"/>
<path d="M405.39 237.52 L405.92 237.37 L406.44 237.18 L406.97 236.93 L407.5 236.61 L408.03 236.21 L408.56 235.71 L409.08 235.1 L409.61 234.34 L410.14 233.41 L410.67 232.28 L411.2 230.93 L411.72 229.31 L412.25 227.39 L412.78 225.14 L413.31 222.5 L413.84 219.45 L414.36 215.95 L414.89 211.95 L415.42 207.43 L415.95 202.36 L416.48 196.73 L417 190.51 L417.53 183.72 L418.06 176.36 L418.59 168.46 L419.12 160.05 L419.64 151.2 L420.17 141.97 L420.7 132.45 L421.23 122.75 L421.76 112.98 L422.28 103.27 L422.81 93.75 L423.34 84.58 L423.87 75.89 L424.4 67.83 L424.92 60.55 L425.45 54.16 L425.98 48.79 L426.51 44.53 L427.04 41.46 L427.56 39.65 L428.09 39.13 L428.62 39.7 L429.15 41.28 L429.68 43.83 L430.2 47.31 L430.73 51.66 L431.26 56.84 L431.79 62.75 L432.32 69.31 L432.84 76.44 L433.37 84.04 L433.9 92 L434.43 100.23 L434.96 108.63 L435.48 117.11 L436.01 125.58 L436.54 133.95 L437.07 142.17 L437.6 150.15 L438.12 157.84 L438.65 165.19 L439.18 172.17 L439.71 178.74 L440.24 184.89 L440.76 190.6 L441.29 195.86 L441.82 200.69 L442.35 205.07 L442.88 209.04 L443.4 212.6 L443.93 215.77 L444.46 218.58 L444.99 221.04 L445.52 221.48 L446.04 221.83 L446.57 222.13 L447.1 222.39 L447.63 222.62 L448.16 222.81 L448.68 222.98 L449.21 223.13 L449.74 223.25 L450.27 223.36 L450.8 223.45 L451.32 223.53 L451.85 223.6 L452.38 223.65 L452.91 223.7 L453.44 223.74 L453.96 223.77 L454.49 223.8 L455.02 223.82 L455.55 223.84 L456.08 223.85 L456.6 223.86 L457.13 223.87 L457.66 223.87 L458.19 223.87 L458.72 223.87 L459.24 223.87 L459.77 223.86 L460.3 223.85 L460.83 223.84 L461.36 223.83 L461.88 223.81 L462.41 223.8 L462.94 223.78 L463.47 223.76 L464 223.73 L464.52 223.71 L465.05 223.67 L465.58 223.64 L466.11 223.6 L466.64 223.55 L467.16 223.49 L467.69 223.43 L468.22 223.36 L468.75 223.27 L469.28 223.18 L469.8 223.08 L470.33 222.97 L470.86 222.84 L471.39 222.71 L471.92 222.56 L472.44 222.41 L472.97 222.25 L473.5 222.08 L474.03 221.9 L474.56 221.72 L475.08 221.53 L475.61 221.32 L476.14 221.1 L476.67 220.87 L477.2 220.63 L477.72 220.37 L478.25 220.09 L478.78 219.81 L479.31 219.52 L479.84 219.21 L480.36 218.9 L480.89 218.57 L481.42 218.23 L481.95 217.88 L482.48 217.51 L483 217.14 L483.53 216.76 L484.06 216.38 L484.59 216 L485.12 215.62 L485.64 215.26 L486.17 214.92 L486.7 214.59 L487.23 214.29 L487.76 213.99 L488.28 213.71 L488.81 213.45 L489.34 213.19 L489.87 212.95 L490.4 212.72 L490.92 212.51 L491.45 212.31 L491.98 212.13 L492.51 211.97 L493.04 211.83 L493.56 211.71 L494.09 211.61 L494.62 211.54 L495.15 211.51 L495.68 211.5 L496.2 211.53 L496.73 211.6 L497.26 211.7 L497.79 211.84 L498.32 212.02 L498.84 212.24 L499.37 212.5 L499.9 212.8 L500.43 213.14 L500.96 213.51 L501.48 213.91 L502.01 214.35 L502.54 214.81 L503.07 215.31 L503.6 215.83 L504.12 216.36 L504.65 216.92 L505.18 217.49 L505.71 218.08 L506.24 218.68 L506.76 219.29 L507.29 219.91 L507.82 220.54 L508.35 221.18 L508.88 221.82 L509.4 222.47 L509.93 223.12 L510.46 223.76 L510.99 224.39 L511.52 225.02 L512.04 225.63 L512.57 226.23 L513.1 226.83 L513.63 227.41 L514.16 227.98 L514.68 228.54 L515.21 229.08 L515.74 229.61 L516.27 230.12 L516.8 230.61 L517.32 231.09 L517.85 231.54 L518.38 231.98 L518.91 232.4 L519.44 232.8 L519.96 233.18 L520.49 233.55 L521.02 233.9 L521.55 234.23 L522.08 234.55 L522.6 234.84 L523.13 235.13 L523.66 235.39 L524.19 235.64 L524.72 235.87 L525.24 236.09 L525.77 236.3 L526.3 236.49 L526.83 236.67 L527.36 236.84 L527.88 236.99 L528.41 237.13 L528.94 237.25 L529.47 237.35 L530 237.44 L530.52 237.51" fill="none" stroke="#5a7a7a" stroke-width="0.8" stroke-linejoin="round"/>
<path d="M345.9 238 L346.6 238 L347.31 238 L348.01 238 L348.72 238 L349.42 238 L350.12 238 L350.83 238 L351.53 238 L352.24 238 L352.94 238 L353.64 238 L354.35 238 L355.05 238 L355.76 238 L356.46 238 L357.16 238 L357.87 238 L358.57 238 L359.28 238 L359.98 238 L360.68 238 L361.39 238 L362.09 238 L362.8 238 L363.5 238 L364.2 238 L364.91 238 L365.61 238 L366.32 238 L367.02 238 L367.72 238 L368.43 237.98 L369.13 237.82 L369.84 237.46 L370.54 237.03 L371.24 236.59 L371.95 236.15 L372.65 235.54 L373.36 234.61 L374.06 233.51 L374.76 232.41 L375.47 231.43 L376.17 231.06 L376.88 231.26 L377.58 231.29 L378.28 230.71 L378.99 229.93 L379.69 229.56 L380.4 229.6 L381.1 229.39 L381.8 228.06 L382.51 225.97 L383.21 223.77 L383.92 221.68 L384.62 220.33 L385.32 220.08 L386.03 220.19 L386.73 220.42 L387.44 221.15 L388.14 222.39 L388.84 223.72 L389.55 224.84 L390.25 224.96 L390.96 224.09 L391.66 223.01 L392.36 221.96 L393.07 221.39 L393.77 221.85 L394.48 222.79 L395.18 223.77 L395.88 224.71 L396.59 225.15 L397.29 224.52 L398 223.39 L398.7 222.21 L399.4 221.04 L400.11 220.07 L400.81 220.08 L401.52 221.04 L402.22 222.22 L402.92 223.4 L403.63 224.58 L404.33 225.66 L405.04 226.02 L405.74 225.35 L406.44 224.34 L407.15 223.31 L407.85 222.28 L408.56 221.26 L409.26 220.31 L409.96 219.88 L410.67 220.23 L411.37 220.82 L412.08 221.4 L412.78 221.62 L413.48 220.72 L414.19 217.17 L414.89 211.95 L415.6 205.8 L416.3 198.67 L417 190.51 L417.71 181.32 L418.41 171.14 L419.12 160.04 L419.82 148.15 L420.52 135.63 L421.23 122.73 L421.93 109.7 L422.64 96.86 L423.34 84.54 L424.04 73.07 L424.75 62.58 L425.45 51.9 L426.16 38.41 L426.86 26.32 L427.56 25.8 L428.27 31.9 L428.97 35.88 L429.68 40.36 L430.38 47.03 L431.08 54.48 L431.79 62.48 L432.49 71.37 L433.2 81.17 L433.9 91.67 L434.6 102.65 L435.31 113.88 L436.01 125.13 L436.72 136.23 L437.42 146.98 L438.12 157.26 L438.83 166.93 L439.53 175.92 L440.24 184.16 L440.94 191.62 L441.64 198.29 L442.35 204.18 L443.05 210.58 L443.76 214.74 L444.46 218.14 L445.16 220.41 L445.87 220.67 L446.57 220.85 L447.28 220.97 L447.98 221.03 L448.68 221.04 L449.39 221.02 L450.09 221.39 L450.8 221.74 L451.5 222.07 L452.2 222.42 L452.91 222.76 L453.61 223.22 L454.32 224.03 L455.02 224.83 L455.72 224.86 L456.43 223.6 L457.13 222.34 L457.84 222.19 L458.54 223.16 L459.24 224.13 L459.95 224.21 L460.65 223.75 L461.36 223.29 L462.06 222.59 L462.76 221.81 L463.47 221.02 L464.17 221.39 L464.88 221.91 L465.58 222.42 L466.28 222.99 L466.99 223.54 L467.69 223.88 L468.4 222.87 L469.1 221.83 L469.8 221.12 L470.51 221.5 L471.21 221.85 L471.92 222.02 L472.62 221.88 L473.32 221.73 L474.03 220.96 L474.73 219.56 L475.44 218.13 L476.14 217.57 L476.84 217.52 L477.55 217.46 L478.25 215.88 L478.96 213.76 L479.66 211.59 L480.36 213.36 L481.07 215.75 L481.77 218.19 L482.48 216.96 L483.18 215.71 L483.88 214.48 L484.59 213.5 L485.29 211.76 L486 208.54 L486.7 205.3 L487.4 205.12 L488.11 207.51 L488.81 210.08 L489.52 211.49 L490.22 211.23 L490.92 209.6 L491.63 207.98 L492.33 207.92 L493.04 208.63 L493.74 208.79 L494.44 208.09 L495.15 207.73 L495.85 208.91 L496.56 210.2 L497.26 211.19 L497.96 211.55 L498.67 211.94 L499.37 212.26 L500.08 212.65 L500.78 213.23 L501.48 213.86 L502.19 214.62 L502.89 215.62 L503.6 216.66 L504.3 217.49 L505 217.97 L505.71 218.49 L506.41 218.76 L507.12 218.81 L507.82 218.92 L508.52 219.57 L509.23 220.54 L509.93 221.51 L510.64 221.99 L511.34 222.33 L512.04 222.68 L512.75 224.77 L513.45 226.99 L514.16 229.09 L514.86 229.89 L515.56 230.66 L516.27 231.2 L516.97 230.5 L517.68 229.88 L518.38 229.81 L519.08 231.08 L519.79 232.27 L520.49 233.15 L521.2 233.63 L521.9 234.08 L522.6 234.21 L523.31 234.9 L524.01 235.45 L524.72 235.52 L525.42 235.37 L526.12 235.73 L526.83 236.18 L527.53 235.64 L528.24 235.74 L528.94 236.44 L529.64 237.1 L530.35 237.27 L531.05 236.84 L531.76 236.41 L532.46 236.53 L533.16 237.37 L533.87 237.5 L534.57 237.7 L535.28 237.37 L535.98 236.54 L536.68 235.99 L537.39 235.72 L538.09 235.44 L538.8 235.62 L539.5 236.31 L540.2 237 L540.91 237.88 L541.61 236.64 L542.32 235.38 L543.02 234.98 L543.72 235.59 L544.43 236.2 L545.13 236.73 L545.84 237.19 L546.54 237.65 L547.24 237.37 L547.95 236.33 L548.65 235.29 L549.36 235.35 L550.06 238 L550.76 238 L551.47 238 L552.17 238 L552.88 238 L553.58 238 L554.28 238 L554.99 238 L555.69 238 L556.4 238 L557.1 238 L557.8 238 L558.51 238 L559.21 238 L559.92 238 L560.62 238 L561.32 238 L562.03 238 L562.73 238 L563.44 238 L564.14 238 L564.84 238 L565.55 238 L566.25 238 L566.96 238 L567.66 238 L568.36 238 L569.07 238 L569.77 238 L570.48 238 L571.18 238 L571.88 238 L572.59 238 L573.29 238 L574 238 L574.7 238 L575.4 238 L576.11 238 L576.81 238 L577.52 238 L578.22 238 L578.92 238 L579.63 238 L580.33 238 L581.04 238 L581.74 238 L582.44 238 L583.15 238 L583.85 238 L584.56 238 L585.26 238 L585.96 238 L586.67 238 L587.37 238 L588.08 238 L588.78 238 L589.48 238 L590.19 238 L590.89 238 L591.6 238 L592.3 238 L593 238 L593.71 238 L594.41 238 L595.12 238 L595.82 238 L596.52 238 L597.23 238 L597.93 238 L598.64 238 L599.34 238 L600.04 238 L600.75 238 L601.45 238 L602.16 238 L602.86 238 L603.56 238 L604.27 238 L604.97 238 L605.68 238 L606.38 238 L607.08 238 L607.79 238 L608.49 238 L609.2 238 L609.9 238" fill="none" stroke="#1c1c1c" stroke-width="0.95" stroke-linejoin="round"/>
<path d="M345.9 11.05 V238 M345.9 238 H609.9 M345.9 238 v9.3 M354.7 238 v4.8 M363.5 238 v4.8 M372.3 238 v4.8 M381.1 238 v9.3 M389.9 238 v4.8 M398.7 238 v4.8 M407.5 238 v4.8 M416.3 238 v9.3 M425.1 238 v4.8 M433.9 238 v4.8 M442.7 238 v4.8 M451.5 238 v9.3 M460.3 238 v4.8 M469.1 238 v4.8 M477.9 238 v4.8 M486.7 238 v9.3 M495.5 238 v4.8 M504.3 238 v4.8 M513.1 238 v4.8 M521.9 238 v9.3 M530.7 238 v4.8 M539.5 238 v4.8 M548.3 238 v4.8 M557.1 238 v9.3 M565.9 238 v4.8 M574.7 238 v4.8 M583.5 238 v4.8 M592.3 238 v9.3 M601.1 238 v4.8 M609.9 238 v4.8 M345.9 238 h-9.3 M345.9 231.52 h-4.8 M345.9 225.03 h-4.8 M345.9 218.55 h-4.8 M345.9 212.06 h-4.8 M345.9 205.58 h-9.3 M345.9 199.09 h-4.8 M345.9 192.61 h-4.8 M345.9 186.13 h-4.8 M345.9 179.64 h-4.8 M345.9 173.16 h-9.3 M345.9 166.67 h-4.8 M345.9 160.19 h-4.8 M345.9 153.7 h-4.8 M345.9 147.22 h-4.8 M345.9 140.74 h-9.3 M345.9 134.25 h-4.8 M345.9 127.77 h-4.8 M345.9 121.28 h-4.8 M345.9 114.8 h-4.8 M345.9 108.31 h-9.3 M345.9 101.83 h-4.8 M345.9 95.35 h-4.8 M345.9 88.86 h-4.8 M345.9 82.38 h-4.8 M345.9 75.89 h-9.3 M345.9 69.41 h-4.8 M345.9 62.92 h-4.8 M345.9 56.44 h-4.8 M345.9 49.96 h-4.8 M345.9 43.47 h-9.3 M345.9 36.99 h-4.8 M345.9 30.5 h-4.8 M345.9 24.02 h-4.8 M345.9 17.53 h-4.8 M345.9 11.05 h-9.3" fill="none" stroke="#3e3e3e" stroke-width="1.15"/>
<g class="tk">
<text x="345.9" y="257.4">0</text>
<text x="381.1" y="257.4">20</text>
<text x="416.3" y="257.4">40</text>
<text x="451.5" y="257.4">60</text>
<text x="486.7" y="257.4">80</text>
<text x="521.9" y="257.4">100</text>
<text x="557.1" y="257.4">120</text>
<text x="592.3" y="257.4">140</text>
<text transform="translate(333.1 238) rotate(-90)">0</text>
<text transform="translate(333.1 205.58) rotate(-90)">50</text>
<text transform="translate(333.1 173.16) rotate(-90)">100</text>
<text transform="translate(333.1 140.74) rotate(-90)">150</text>
<text transform="translate(333.1 108.31) rotate(-90)">200</text>
<text transform="translate(333.1 75.89) rotate(-90)">250</text>
<text transform="translate(333.1 43.47) rotate(-90)">300</text>
<text transform="translate(333.1 11.05) rotate(-90)">350</text>
<text class="nl" transform="translate(320.1 125.12) rotate(-90)">Number</text>
<text class="xl" x="477.9" y="268.4">FL10-A PE-A</text>
</g>
<path d="M426.51 238.3 l-4.4 7.5 h8.8 Z" fill="#111"/>
<text class="cap" x="379.6" y="292.7">Decitabine 1µM</text>
</g>
<g id="p3">
<path d="M96.89 535.84 L97.07 535.81 L97.24 535.77 L97.42 535.73 L97.6 535.68 L97.77 535.63 L97.95 535.58 L98.12 535.52 L98.3 535.46 L98.48 535.39 L98.65 535.32 L98.83 535.24 L99 535.15 L99.18 535.06 L99.36 534.96 L99.53 534.85 L99.71 534.74 L99.88 534.61 L100.06 534.48 L100.24 534.33 L100.41 534.17 L100.59 534.01 L100.76 533.83 L100.94 533.63 L101.12 533.43 L101.29 533.21 L101.47 532.97 L101.64 532.72 L101.82 532.45 L102 532.16 L102.17 531.86 L102.35 531.53 L102.52 531.18 L102.7 530.81 L102.88 530.42 L103.05 530 L103.23 529.56 L103.4 529.09 L103.58 528.6 L103.76 528.07 L103.93 527.51 L104.11 526.93 L104.28 526.31 L104.46 525.65 L104.64 524.96 L104.81 524.24 L104.99 523.47 L105.16 522.67 L105.34 521.82 L105.52 520.94 L105.69 520.01 L105.87 519.03 L106.04 518.01 L106.22 516.95 L106.4 515.83 L106.57 514.67 L106.75 513.45 L106.92 512.18 L107.1 510.86 L107.28 509.48 L107.45 508.05 L107.63 506.57 L107.8 505.03 L107.98 503.43 L108.16 501.77 L108.33 500.05 L108.51 498.28 L108.68 496.44 L108.86 494.55 L109.04 492.6 L109.21 490.58 L109.39 488.51 L109.56 486.38 L109.74 484.19 L109.92 481.94 L110.09 479.63 L110.27 477.26 L110.44 474.84 L110.62 472.37 L110.8 469.84 L110.97 467.26 L111.15 464.63 L111.32 461.95 L111.5 459.23 L111.68 456.46 L111.85 453.65 L112.03 450.8 L112.2 447.91 L112.38 444.99 L112.56 442.04 L112.73 439.06 L112.91 436.06 L113.08 433.03 L113.26 429.99 L113.44 426.94 L113.61 423.88 L113.79 420.81 L113.96 417.74 L114.14 414.68 L114.32 411.62 L114.49 408.58 L114.67 405.55 L114.84 402.54 L115.02 399.56 L115.2 396.61 L115.37 393.7 L115.55 390.83 L115.72 388.01 L115.9 385.23 L116.08 382.51 L116.25 379.86 L116.43 377.26 L116.6 374.74 L116.78 372.29 L116.96 369.93 L117.13 367.64 L117.31 365.44 L117.48 363.34 L117.66 361.33 L117.84 359.42 L118.01 357.62 L118.19 355.93 L118.36 354.34 L118.54 352.87 L118.72 351.52 L118.89 350.29 L119.07 349.18 L119.24 348.19 L119.42 347.34 L119.6 346.61 L119.77 346.01 L119.95 345.54 L120.12 345.21 L120.3 345.01 L120.48 344.94 L120.65 345.01 L120.83 345.21 L121 345.54 L121.18 346.01 L121.36 346.61 L121.53 347.34 L121.71 348.19 L121.88 349.18 L122.06 350.29 L122.24 351.52 L122.41 352.87 L122.59 354.34 L122.76 355.93 L122.94 357.62 L123.12 359.42 L123.29 361.33 L123.47 363.34 L123.64 365.44 L123.82 367.64 L124 369.93 L124.17 372.29 L124.35 374.74 L124.52 377.26 L124.7 379.86 L124.88 382.51 L125.05 385.23 L125.23 388.01 L125.4 390.83 L125.58 393.7 L125.76 396.61 L125.93 399.56 L126.11 402.54 L126.28 405.55 L126.46 408.58 L126.64 411.62 L126.81 414.68 L126.99 417.74 L127.16 420.81 L127.34 423.88 L127.52 426.94 L127.69 429.99 L127.87 433.03 L128.04 436.06 L128.22 439.06 L128.4 442.04 L128.57 444.99 L128.75 447.91 L128.92 450.8 L129.1 453.65 L129.28 456.46 L129.45 459.23 L129.63 461.95 L129.8 464.63 L129.98 467.26 L130.16 469.84 L130.33 472.37 L130.51 474.84 L130.68 477.26 L130.86 479.63 L131.04 481.94 L131.21 484.19 L131.39 486.38 L131.56 488.51 L131.74 490.58 L131.92 492.6 L132.09 494.55 L132.27 496.44 L132.44 498.28 L132.62 500.05 L132.8 501.77 L132.97 503.43 L133.15 505.03 L133.32 506.57 L133.5 508.05 L133.68 509.48 L133.85 510.86 L134.03 512.18 L134.2 513.45 L134.38 514.67 L134.56 515.83 L134.73 516.95 L134.91 518.01 L135.08 519.03 L135.26 520.01 L135.44 520.94 L135.61 521.82 L135.79 522.67 L135.96 523.47 L136.14 524.24 L136.32 524.96 L136.49 525.65 L136.67 526.31 L136.84 526.93 L137.02 527.51 L137.2 528.07 L137.37 528.6 L137.55 529.09 L137.72 529.56 L137.9 530 L138.08 530.42 L138.25 530.81 L138.43 531.18 L138.6 531.53 L138.78 531.86 L138.96 532.16 L139.13 532.45 L139.31 532.72 L139.48 532.97 L139.66 533.21 L139.84 533.43 L140.01 533.63 L140.19 533.83 L140.36 534.01 L140.54 534.17 L140.72 534.33 L140.89 534.48 L141.07 534.61 L141.24 534.74 L141.42 534.85 L141.6 534.96 L141.77 535.06 L141.95 535.15 L142.12 535.24 L142.3 535.32 L142.48 535.39 L142.65 535.46 L142.83 535.52 L143 535.58 L143.18 535.63 L143.36 535.68 L143.53 535.73 L143.71 535.77 L143.88 535.81 L144.06 535.84 L144.06 536.2 L96.89 536.2 Z" fill="#fb0000" stroke="#1a1a1a" stroke-width="0.7" stroke-linejoin="round"/>
<path d="M156.56 535.86 L156.73 535.84 L156.91 535.83 L157.08 535.81 L157.26 535.79 L157.44 535.78 L157.61 535.76 L157.79 535.74 L157.96 535.72 L158.14 535.7 L158.32 535.68 L158.49 535.66 L158.67 535.63 L158.84 535.61 L159.02 535.59 L159.2 535.56 L159.37 535.54 L159.55 535.51 L159.72 535.48 L159.9 535.45 L160.08 535.42 L160.25 535.39 L160.43 535.36 L160.6 535.33 L160.78 535.29 L160.96 535.26 L161.13 535.22 L161.31 535.19 L161.48 535.15 L161.66 535.11 L161.84 535.07 L162.01 535.02 L162.19 534.98 L162.36 534.93 L162.54 534.89 L162.72 534.84 L162.89 534.79 L163.07 534.74 L163.24 534.69 L163.42 534.63 L163.6 534.58 L163.77 534.52 L163.95 534.46 L164.12 534.4 L164.3 534.34 L164.48 534.27 L164.65 534.2 L164.83 534.14 L165 534.07 L165.18 533.99 L165.36 533.92 L165.53 533.84 L165.71 533.77 L165.88 533.69 L166.06 533.6 L166.24 533.52 L166.41 533.43 L166.59 533.34 L166.76 533.25 L166.94 533.16 L167.12 533.06 L167.29 532.96 L167.47 532.86 L167.64 532.76 L167.82 532.65 L168 532.55 L168.17 532.44 L168.35 532.32 L168.52 532.21 L168.7 532.09 L168.88 531.97 L169.05 531.84 L169.23 531.72 L169.4 531.59 L169.58 531.45 L169.76 531.32 L169.93 531.18 L170.11 531.04 L170.28 530.9 L170.46 530.75 L170.64 530.6 L170.81 530.45 L170.99 530.29 L171.16 530.13 L171.34 529.97 L171.52 529.81 L171.69 529.64 L171.87 529.47 L172.04 529.29 L172.22 529.12 L172.4 528.94 L172.57 528.76 L172.75 528.57 L172.92 528.38 L173.1 528.19 L173.28 527.99 L173.45 527.79 L173.63 527.59 L173.8 527.39 L173.98 527.18 L174.16 526.97 L174.33 526.75 L174.51 526.54 L174.68 526.32 L174.86 526.09 L175.04 525.87 L175.21 525.64 L175.39 525.41 L175.56 525.17 L175.74 524.93 L175.92 524.69 L176.09 524.45 L176.27 524.2 L176.44 523.96 L176.62 523.7 L176.8 523.45 L176.97 523.19 L177.15 522.93 L177.32 522.67 L177.5 522.41 L177.68 522.14 L177.85 521.87 L178.03 521.6 L178.2 521.33 L178.38 521.05 L178.56 520.78 L178.73 520.5 L178.91 520.21 L179.08 519.93 L179.26 519.65 L179.44 519.36 L179.61 519.07 L179.79 518.78 L179.96 518.49 L180.14 518.2 L180.32 517.91 L180.49 517.61 L180.67 517.32 L180.84 517.02 L181.02 516.72 L181.2 516.42 L181.37 516.13 L181.55 515.83 L181.72 515.53 L181.9 515.23 L182.08 514.93 L182.25 514.63 L182.43 514.33 L182.6 514.03 L182.78 513.73 L182.96 513.43 L183.13 513.14 L183.31 512.84 L183.48 512.54 L183.66 512.25 L183.84 511.95 L184.01 511.66 L184.19 511.37 L184.36 511.08 L184.54 510.79 L184.72 510.51 L184.89 510.22 L185.07 509.94 L185.24 509.66 L185.42 509.38 L185.6 509.11 L185.77 508.83 L185.95 508.56 L186.12 508.3 L186.3 508.03 L186.48 507.77 L186.65 507.51 L186.83 507.26 L187 507.01 L187.18 506.76 L187.36 506.52 L187.53 506.28 L187.71 506.04 L187.88 505.81 L188.06 505.58 L188.24 505.36 L188.41 505.14 L188.59 504.93 L188.76 504.72 L188.94 504.52 L189.12 504.32 L189.29 504.13 L189.47 503.94 L189.64 503.75 L189.82 503.58 L190 503.41 L190.17 503.24 L190.35 503.08 L190.52 502.92 L190.7 502.77 L190.88 502.63 L191.05 502.49 L191.23 502.36 L191.4 502.24 L191.58 502.12 L191.76 502.01 L191.93 501.9 L192.11 501.81 L192.28 501.71 L192.46 501.63 L192.64 501.55 L192.81 501.48 L192.99 501.41 L193.16 501.35 L193.34 501.3 L193.52 501.26 L193.69 501.22 L193.87 501.19 L194.04 501.16 L194.22 501.14 L194.4 501.13 L194.57 501.13 L194.75 501.13 L194.92 501.14 L195.1 501.16 L195.28 501.19 L195.45 501.22 L195.63 501.26 L195.8 501.3 L195.98 501.35 L196.16 501.41 L196.33 501.48 L196.51 501.55 L196.68 501.63 L196.86 501.71 L197.04 501.81 L197.21 501.9 L197.39 502.01 L197.56 502.12 L197.74 502.24 L197.92 502.36 L198.09 502.49 L198.27 502.63 L198.44 502.77 L198.62 502.92 L198.8 503.08 L198.97 503.24 L199.15 503.41 L199.32 503.58 L199.5 503.75 L199.68 503.94 L199.85 504.13 L200.03 504.32 L200.2 504.52 L200.38 504.72 L200.56 504.93 L200.73 505.14 L200.91 505.36 L201.08 505.58 L201.26 505.81 L201.44 506.04 L201.61 506.28 L201.79 506.52 L201.96 506.76 L202.14 507.01 L202.32 507.26 L202.49 507.51 L202.67 507.77 L202.84 508.03 L203.02 508.3 L203.2 508.56 L203.37 508.83 L203.55 509.11 L203.72 509.38 L203.9 509.66 L204.08 509.94 L204.25 510.22 L204.43 510.51 L204.6 510.79 L204.78 511.08 L204.96 511.37 L205.13 511.66 L205.31 511.95 L205.48 512.25 L205.66 512.54 L205.84 512.84 L206.01 513.14 L206.19 513.43 L206.36 513.73 L206.54 514.03 L206.72 514.33 L206.89 514.63 L207.07 514.93 L207.24 515.23 L207.42 515.53 L207.6 515.83 L207.77 516.13 L207.95 516.42 L208.12 516.72 L208.3 517.02 L208.48 517.32 L208.65 517.61 L208.83 517.91 L209 518.2 L209.18 518.49 L209.36 518.78 L209.53 519.07 L209.71 519.36 L209.88 519.65 L210.06 519.93 L210.24 520.21 L210.41 520.5 L210.59 520.78 L210.76 521.05 L210.94 521.33 L211.12 521.6 L211.29 521.87 L211.47 522.14 L211.64 522.41 L211.82 522.67 L212 522.93 L212.17 523.19 L212.35 523.45 L212.52 523.7 L212.7 523.96 L212.88 524.2 L213.05 524.45 L213.23 524.69 L213.4 524.93 L213.58 525.17 L213.76 525.41 L213.93 525.64 L214.11 525.87 L214.28 526.09 L214.46 526.32 L214.64 526.54 L214.81 526.75 L214.99 526.97 L215.16 527.18 L215.34 527.39 L215.52 527.59 L215.69 527.79 L215.87 527.99 L216.04 528.19 L216.22 528.38 L216.4 528.57 L216.57 528.76 L216.75 528.94 L216.92 529.12 L217.1 529.29 L217.28 529.47 L217.45 529.64 L217.63 529.81 L217.8 529.97 L217.98 530.13 L218.16 530.29 L218.33 530.45 L218.51 530.6 L218.68 530.75 L218.86 530.9 L219.04 531.04 L219.21 531.18 L219.39 531.32 L219.56 531.45 L219.74 531.59 L219.92 531.72 L220.09 531.84 L220.27 531.97 L220.44 532.09 L220.62 532.21 L220.8 532.32 L220.97 532.44 L221.15 532.55 L221.32 532.65 L221.5 532.76 L221.68 532.86 L221.85 532.96 L222.03 533.06 L222.2 533.16 L222.38 533.25 L222.56 533.34 L222.73 533.43 L222.91 533.52 L223.08 533.6 L223.26 533.69 L223.44 533.77 L223.61 533.84 L223.79 533.92 L223.96 533.99 L224.14 534.07 L224.32 534.14 L224.49 534.2 L224.67 534.27 L224.84 534.34 L225.02 534.4 L225.2 534.46 L225.37 534.52 L225.55 534.58 L225.72 534.63 L225.9 534.69 L226.08 534.74 L226.25 534.79 L226.43 534.84 L226.6 534.89 L226.78 534.93 L226.96 534.98 L227.13 535.02 L227.31 535.07 L227.48 535.11 L227.66 535.15 L227.84 535.19 L228.01 535.22 L228.19 535.26 L228.36 535.29 L228.54 535.33 L228.72 535.36 L228.89 535.39 L229.07 535.42 L229.24 535.45 L229.42 535.48 L229.6 535.51 L229.77 535.54 L229.95 535.56 L230.12 535.59 L230.3 535.61 L230.48 535.63 L230.65 535.66 L230.83 535.68 L231 535.7 L231.18 535.72 L231.36 535.74 L231.53 535.76 L231.71 535.78 L231.88 535.79 L232.06 535.81 L232.24 535.83 L232.41 535.84 L232.59 535.86 L232.59 536.2 L156.56 536.2 Z" fill="#fb0000" stroke="#1a1a1a" stroke-width="0.7" stroke-linejoin="round"/>
<clipPath id="sc3"><path d="M111.68 535.83 L111.85 535.76 L112.03 535.7 L112.2 535.62 L112.38 535.54 L112.56 535.45 L112.73 535.36 L112.91 535.26 L113.08 535.16 L113.26 535.05 L113.44 534.94 L113.61 534.83 L113.79 534.71 L113.96 534.58 L114.14 534.46 L114.32 534.33 L114.49 534.2 L114.67 534.06 L114.84 533.92 L115.02 533.78 L115.2 533.64 L115.37 533.5 L115.55 533.35 L115.72 533.2 L115.9 533.05 L116.08 532.9 L116.25 532.74 L116.43 532.58 L116.6 532.42 L116.78 532.26 L116.96 532.09 L117.13 531.92 L117.31 531.75 L117.48 531.57 L117.66 531.4 L117.84 531.22 L118.01 531.03 L118.19 530.85 L118.36 530.66 L118.54 530.47 L118.72 530.28 L118.89 530.09 L119.07 529.9 L119.24 529.71 L119.42 529.51 L119.6 529.32 L119.77 529.12 L119.95 528.92 L120.12 528.73 L120.3 528.53 L120.48 528.34 L120.65 528.15 L120.83 527.95 L121 527.76 L121.18 527.57 L121.36 527.38 L121.53 527.2 L121.71 527.01 L121.88 526.83 L122.06 526.65 L122.24 526.47 L122.41 526.29 L122.59 526.12 L122.76 525.95 L122.94 525.78 L123.12 525.61 L123.29 525.44 L123.47 525.28 L123.64 525.12 L123.82 524.95 L124 524.8 L124.17 524.64 L124.35 524.48 L124.52 524.32 L124.7 524.17 L124.88 524.02 L125.05 523.86 L125.23 523.71 L125.4 523.57 L125.58 523.42 L125.76 523.28 L125.93 523.14 L126.11 523 L126.28 522.86 L126.46 522.73 L126.64 522.6 L126.81 522.48 L126.99 522.36 L127.16 522.24 L127.34 522.13 L127.52 522.02 L127.69 521.92 L127.87 521.82 L128.04 521.72 L128.22 521.63 L128.4 521.54 L128.57 521.45 L128.75 521.37 L128.92 521.29 L129.1 521.21 L129.28 521.14 L129.45 521.07 L129.63 521 L129.8 520.93 L129.98 520.86 L130.16 520.8 L130.33 520.74 L130.51 520.69 L130.68 520.63 L130.86 520.59 L131.04 520.54 L131.21 520.5 L131.39 520.46 L131.56 520.43 L131.74 520.4 L131.92 520.38 L132.09 520.36 L132.27 520.35 L132.44 520.33 L132.62 520.33 L132.8 520.32 L132.97 520.32 L133.15 520.32 L133.32 520.32 L133.5 520.33 L133.68 520.33 L133.85 520.34 L134.03 520.35 L134.2 520.36 L134.38 520.37 L134.56 520.38 L134.73 520.38 L134.91 520.39 L135.08 520.4 L135.26 520.41 L135.44 520.42 L135.61 520.43 L135.79 520.44 L135.96 520.44 L136.14 520.45 L136.32 520.45 L136.49 520.46 L136.67 520.46 L136.84 520.47 L137.02 520.47 L137.2 520.47 L137.37 520.48 L137.55 520.48 L137.72 520.48 L137.9 520.48 L138.08 520.48 L138.25 520.48 L138.43 520.48 L138.6 520.48 L138.78 520.48 L138.96 520.48 L139.13 520.48 L139.31 520.48 L139.48 520.48 L139.66 520.48 L139.84 520.48 L140.01 520.48 L140.19 520.48 L140.36 520.48 L140.54 520.48 L140.72 520.48 L140.89 520.48 L141.07 520.48 L141.24 520.48 L141.42 520.48 L141.6 520.48 L141.77 520.48 L141.95 520.48 L142.12 520.48 L142.3 520.48 L142.48 520.48 L142.65 520.48 L142.83 520.48 L143 520.48 L143.18 520.48 L143.36 520.48 L143.53 520.48 L143.71 520.48 L143.88 520.48 L144.06 520.49 L144.24 520.49 L144.41 520.49 L144.59 520.49 L144.76 520.49 L144.94 520.49 L145.12 520.49 L145.29 520.49 L145.47 520.49 L145.64 520.49 L145.82 520.5 L146 520.5 L146.17 520.5 L146.35 520.5 L146.52 520.5 L146.7 520.51 L146.88 520.51 L147.05 520.51 L147.23 520.52 L147.4 520.52 L147.58 520.52 L147.76 520.53 L147.93 520.53 L148.11 520.53 L148.28 520.54 L148.46 520.54 L148.64 520.54 L148.81 520.55 L148.99 520.55 L149.16 520.55 L149.34 520.56 L149.52 520.56 L149.69 520.57 L149.87 520.57 L150.04 520.57 L150.22 520.58 L150.4 520.58 L150.57 520.58 L150.75 520.59 L150.92 520.59 L151.1 520.6 L151.28 520.6 L151.45 520.6 L151.63 520.61 L151.8 520.61 L151.98 520.61 L152.16 520.62 L152.33 520.62 L152.51 520.62 L152.68 520.63 L152.86 520.63 L153.04 520.64 L153.21 520.64 L153.39 520.64 L153.56 520.65 L153.74 520.65 L153.92 520.65 L154.09 520.66 L154.27 520.66 L154.44 520.67 L154.62 520.67 L154.8 520.67 L154.97 520.68 L155.15 520.68 L155.32 520.68 L155.5 520.69 L155.68 520.69 L155.85 520.7 L156.03 520.7 L156.2 520.7 L156.38 520.71 L156.56 520.71 L156.73 520.72 L156.91 520.72 L157.08 520.72 L157.26 520.73 L157.44 520.73 L157.61 520.74 L157.79 520.74 L157.96 520.74 L158.14 520.75 L158.32 520.75 L158.49 520.76 L158.67 520.76 L158.84 520.77 L159.02 520.77 L159.2 520.78 L159.37 520.78 L159.55 520.79 L159.72 520.79 L159.9 520.8 L160.08 520.81 L160.25 520.81 L160.43 520.82 L160.6 520.82 L160.78 520.83 L160.96 520.83 L161.13 520.84 L161.31 520.84 L161.48 520.85 L161.66 520.85 L161.84 520.86 L162.01 520.87 L162.19 520.87 L162.36 520.88 L162.54 520.88 L162.72 520.89 L162.89 520.89 L163.07 520.9 L163.24 520.91 L163.42 520.91 L163.6 520.92 L163.77 520.92 L163.95 520.93 L164.12 520.93 L164.3 520.94 L164.48 520.94 L164.65 520.95 L164.83 520.96 L165 520.96 L165.18 520.97 L165.36 520.97 L165.53 520.98 L165.71 520.98 L165.88 520.99 L166.06 520.99 L166.24 521 L166.41 521.01 L166.59 521.01 L166.76 521.02 L166.94 521.02 L167.12 521.03 L167.29 521.03 L167.47 521.04 L167.64 521.05 L167.82 521.05 L168 521.06 L168.17 521.06 L168.35 521.07 L168.52 521.08 L168.7 521.08 L168.88 521.09 L169.05 521.1 L169.23 521.11 L169.4 521.12 L169.58 521.12 L169.76 521.13 L169.93 521.14 L170.11 521.16 L170.28 521.17 L170.46 521.18 L170.64 521.19 L170.81 521.21 L170.99 521.22 L171.16 521.24 L171.34 521.25 L171.52 521.27 L171.69 521.29 L171.87 521.3 L172.04 521.32 L172.22 521.34 L172.4 521.36 L172.57 521.38 L172.75 521.4 L172.92 521.42 L173.1 521.44 L173.28 521.46 L173.45 521.48 L173.63 521.5 L173.8 521.52 L173.98 521.54 L174.16 521.56 L174.33 521.58 L174.51 521.6 L174.68 521.62 L174.86 521.64 L175.04 521.66 L175.21 521.68 L175.39 521.7 L175.56 521.72 L175.74 521.74 L175.92 521.76 L176.09 521.79 L176.27 521.81 L176.44 521.83 L176.62 521.86 L176.8 521.88 L176.97 521.91 L177.15 521.94 L177.32 521.97 L177.5 522 L177.68 522.03 L177.85 522.06 L178.03 522.1 L178.2 522.13 L178.38 522.17 L178.56 522.2 L178.73 522.24 L178.91 522.28 L179.08 522.32 L179.26 522.37 L179.44 522.41 L179.61 522.45 L179.79 522.5 L179.96 522.54 L180.14 522.59 L180.32 522.63 L180.49 522.68 L180.67 522.72 L180.84 522.77 L181.02 522.81 L181.2 522.86 L181.37 522.91 L181.55 522.95 L181.72 523 L181.9 523.05 L182.08 523.1 L182.25 523.15 L182.43 523.19 L182.6 523.24 L182.78 523.29 L182.96 523.34 L183.13 523.4 L183.31 523.45 L183.48 523.5 L183.66 523.55 L183.84 523.61 L184.01 523.67 L184.19 523.72 L184.36 523.78 L184.54 523.84 L184.72 523.9 L184.89 523.96 L185.07 524.02 L185.24 524.09 L185.42 524.15 L185.6 524.21 L185.77 524.28 L185.95 524.34 L186.12 524.41 L186.3 524.47 L186.48 524.54 L186.65 524.61 L186.83 524.67 L187 524.74 L187.18 524.8 L187.36 524.87 L187.53 524.94 L187.71 525.01 L187.88 525.07 L188.06 525.14 L188.24 525.21 L188.41 525.28 L188.59 525.35 L188.76 525.41 L188.94 525.48 L189.12 525.55 L189.29 525.62 L189.47 525.7 L189.64 525.77 L189.82 525.84 L190 525.91 L190.17 525.99 L190.35 526.06 L190.52 526.14 L190.7 526.21 L190.88 526.29 L191.05 526.37 L191.23 526.44 L191.4 526.52 L191.58 526.6 L191.76 526.68 L191.93 526.76 L192.11 526.84 L192.28 526.92 L192.46 527 L192.64 527.08 L192.81 527.16 L192.99 527.25 L193.16 527.33 L193.34 527.41 L193.52 527.49 L193.69 527.57 L193.87 527.65 L194.04 527.73 L194.22 527.81 L194.4 527.9 L194.57 527.98 L194.75 528.06 L194.92 528.14 L195.1 528.22 L195.28 528.3 L195.45 528.37 L195.63 528.45 L195.8 528.53 L195.98 528.61 L196.16 528.68 L196.33 528.76 L196.51 528.84 L196.68 528.91 L196.86 528.99 L197.04 529.06 L197.21 529.13 L197.39 529.21 L197.56 529.28 L197.74 529.35 L197.92 529.43 L198.09 529.5 L198.27 529.57 L198.44 529.64 L198.62 529.71 L198.8 529.78 L198.97 529.85 L199.15 529.92 L199.32 529.99 L199.5 530.06 L199.68 530.14 L199.85 530.21 L200.03 530.28 L200.2 530.35 L200.38 530.42 L200.56 530.48 L200.73 530.55 L200.91 530.62 L201.08 530.69 L201.26 530.76 L201.44 530.83 L201.61 530.9 L201.79 530.96 L201.96 531.03 L202.14 531.09 L202.32 531.16 L202.49 531.22 L202.67 531.29 L202.84 531.35 L203.02 531.41 L203.2 531.48 L203.37 531.54 L203.55 531.6 L203.72 531.66 L203.9 531.72 L204.08 531.78 L204.25 531.84 L204.43 531.9 L204.6 531.95 L204.78 532.01 L204.96 532.07 L205.13 532.13 L205.31 532.19 L205.48 532.24 L205.66 532.3 L205.84 532.36 L206.01 532.42 L206.19 532.47 L206.36 532.53 L206.54 532.59 L206.72 532.65 L206.89 532.7 L207.07 532.76 L207.24 532.81 L207.42 532.87 L207.6 532.92 L207.77 532.98 L207.95 533.03 L208.12 533.08 L208.3 533.13 L208.48 533.18 L208.65 533.23 L208.83 533.28 L209 533.33 L209.18 533.38 L209.36 533.42 L209.53 533.47 L209.71 533.51 L209.88 533.56 L210.06 533.6 L210.24 533.64 L210.41 533.68 L210.59 533.72 L210.76 533.77 L210.94 533.81 L211.12 533.85 L211.29 533.89 L211.47 533.93 L211.64 533.96 L211.82 534 L212 534.04 L212.17 534.08 L212.35 534.12 L212.52 534.16 L212.7 534.2 L212.88 534.24 L213.05 534.27 L213.23 534.31 L213.4 534.35 L213.58 534.38 L213.76 534.42 L213.93 534.46 L214.11 534.49 L214.28 534.53 L214.46 534.56 L214.64 534.59 L214.81 534.63 L214.99 534.66 L215.16 534.69 L215.34 534.72 L215.52 534.75 L215.69 534.78 L215.87 534.81 L216.04 534.84 L216.22 534.86 L216.4 534.89 L216.57 534.92 L216.75 534.94 L216.92 534.97 L217.1 534.99 L217.28 535.02 L217.45 535.04 L217.63 535.07 L217.8 535.09 L217.98 535.12 L218.16 535.14 L218.33 535.16 L218.51 535.19 L218.68 535.21 L218.86 535.24 L219.04 535.26 L219.21 535.28 L219.39 535.31 L219.56 535.33 L219.74 535.36 L219.92 535.38 L220.09 535.4 L220.27 535.43 L220.44 535.45 L220.62 535.47 L220.8 535.49 L220.97 535.52 L221.15 535.54 L221.32 535.56 L221.5 535.58 L221.68 535.6 L221.85 535.63 L222.03 535.65 L222.2 535.67 L222.38 535.69 L222.56 535.71 L222.73 535.73 L222.91 535.75 L223.08 535.77 L223.26 535.79 L223.44 535.81 L223.61 535.83 L223.79 535.85 L223.79 536.2 L111.68 536.2 Z"/></clipPath>
<path clip-path="url(#sc3)" d="M93.4 518.32 l17.88 17.88 M97.68 518.32 l17.88 17.88 M101.96 518.32 l17.88 17.88 M106.24 518.32 l17.88 17.88 M110.52 518.32 l17.88 17.88 M114.8 518.32 l17.88 17.88 M119.08 518.32 l17.88 17.88 M123.36 518.32 l17.88 17.88 M127.64 518.32 l17.88 17.88 M131.92 518.32 l17.88 17.88 M136.2 518.32 l17.88 17.88 M140.48 518.32 l17.88 17.88 M144.76 518.32 l17.88 17.88 M149.04 518.32 l17.88 17.88 M153.32 518.32 l17.88 17.88 M157.6 518.32 l17.88 17.88 M161.88 518.32 l17.88 17.88 M166.16 518.32 l17.88 17.88 M170.44 518.32 l17.88 17.88 M174.72 518.32 l17.88 17.88 M179 518.32 l17.88 17.88 M183.28 518.32 l17.88 17.88 M187.56 518.32 l17.88 17.88 M191.84 518.32 l17.88 17.88 M196.12 518.32 l17.88 17.88 M200.4 518.32 l17.88 17.88 M204.68 518.32 l17.88 17.88 M208.96 518.32 l17.88 17.88 M213.24 518.32 l17.88 17.88 M217.52 518.32 l17.88 17.88 M221.8 518.32 l17.88 17.88" stroke="#4a4aff" stroke-width="1.05" fill="none"/>
<g clip-path="url(#sc3)" fill="#fb0000" fill-opacity="0.33">
<path d="M96.89 535.84 L97.24 535.77 L97.6 535.68 L97.95 535.58 L98.3 535.46 L98.65 535.32 L99 535.15 L99.36 534.96 L99.71 534.74 L100.06 534.48 L100.41 534.17 L100.76 533.83 L101.12 533.43 L101.47 532.97 L101.82 532.45 L102.17 531.86 L102.52 531.18 L102.88 530.42 L103.23 529.56 L103.58 528.6 L103.93 527.51 L104.28 526.31 L104.64 524.96 L104.99 523.47 L105.34 521.82 L105.69 520.01 L106.04 518.01 L106.4 515.83 L106.75 513.45 L107.1 510.86 L107.45 508.05 L107.8 505.03 L108.16 501.77 L108.51 498.28 L108.86 494.55 L109.21 490.58 L109.56 486.38 L109.92 481.94 L110.27 477.26 L110.62 472.37 L110.97 467.26 L111.32 461.95 L111.68 456.46 L112.03 450.8 L112.38 444.99 L112.73 439.06 L113.08 433.03 L113.44 426.94 L113.79 420.81 L114.14 414.68 L114.49 408.58 L114.84 402.54 L115.2 396.61 L115.55 390.83 L115.9 385.23 L116.25 379.86 L116.6 374.74 L116.96 369.93 L117.31 365.44 L117.66 361.33 L118.01 357.62 L118.36 354.34 L118.72 351.52 L119.07 349.18 L119.42 347.34 L119.77 346.01 L120.12 345.21 L120.48 344.94 L120.83 345.21 L121.18 346.01 L121.53 347.34 L121.88 349.18 L122.24 351.52 L122.59 354.34 L122.94 357.62 L123.29 361.33 L123.64 365.44 L124 369.93 L124.35 374.74 L124.7 379.86 L125.05 385.23 L125.4 390.83 L125.76 396.61 L126.11 402.54 L126.46 408.58 L126.81 414.68 L127.16 420.81 L127.52 426.94 L127.87 433.03 L128.22 439.06 L128.57 444.99 L128.92 450.8 L129.28 456.46 L129.63 461.95 L129.98 467.26 L130.33 472.37 L130.68 477.26 L131.04 481.94 L131.39 486.38 L131.74 490.58 L132.09 494.55 L132.44 498.28 L132.8 501.77 L133.15 505.03 L133.5 508.05 L133.85 510.86 L134.2 513.45 L134.56 515.83 L134.91 518.01 L135.26 520.01 L135.61 521.82 L135.96 523.47 L136.32 524.96 L136.67 526.31 L137.02 527.51 L137.37 528.6 L137.72 529.56 L138.08 530.42 L138.43 531.18 L138.78 531.86 L139.13 532.45 L139.48 532.97 L139.84 533.43 L140.19 533.83 L140.54 534.17 L140.89 534.48 L141.24 534.74 L141.6 534.96 L141.95 535.15 L142.3 535.32 L142.65 535.46 L143 535.58 L143.36 535.68 L143.71 535.77 L144.06 535.84 L144.06 536.2 L96.89 536.2 Z"/>
<path d="M156.56 535.86 L156.91 535.83 L157.26 535.79 L157.61 535.76 L157.96 535.72 L158.32 535.68 L158.67 535.63 L159.02 535.59 L159.37 535.54 L159.72 535.48 L160.08 535.42 L160.43 535.36 L160.78 535.29 L161.13 535.22 L161.48 535.15 L161.84 535.07 L162.19 534.98 L162.54 534.89 L162.89 534.79 L163.24 534.69 L163.6 534.58 L163.95 534.46 L164.3 534.34 L164.65 534.2 L165 534.07 L165.36 533.92 L165.71 533.77 L166.06 533.6 L166.41 533.43 L166.76 533.25 L167.12 533.06 L167.47 532.86 L167.82 532.65 L168.17 532.44 L168.52 532.21 L168.88 531.97 L169.23 531.72 L169.58 531.45 L169.93 531.18 L170.28 530.9 L170.64 530.6 L170.99 530.29 L171.34 529.97 L171.69 529.64 L172.04 529.29 L172.4 528.94 L172.75 528.57 L173.1 528.19 L173.45 527.79 L173.8 527.39 L174.16 526.97 L174.51 526.54 L174.86 526.09 L175.21 525.64 L175.56 525.17 L175.92 524.69 L176.27 524.2 L176.62 523.7 L176.97 523.19 L177.32 522.67 L177.68 522.14 L178.03 521.6 L178.38 521.05 L178.73 520.5 L179.08 519.93 L179.44 519.36 L179.79 518.78 L180.14 518.2 L180.49 517.61 L180.84 517.02 L181.2 516.42 L181.55 515.83 L181.9 515.23 L182.25 514.63 L182.6 514.03 L182.96 513.43 L183.31 512.84 L183.66 512.25 L184.01 511.66 L184.36 511.08 L184.72 510.51 L185.07 509.94 L185.42 509.38 L185.77 508.83 L186.12 508.3 L186.48 507.77 L186.83 507.26 L187.18 506.76 L187.53 506.28 L187.88 505.81 L188.24 505.36 L188.59 504.93 L188.94 504.52 L189.29 504.13 L189.64 503.75 L190 503.41 L190.35 503.08 L190.7 502.77 L191.05 502.49 L191.4 502.24 L191.76 502.01 L192.11 501.81 L192.46 501.63 L192.81 501.48 L193.16 501.35 L193.52 501.26 L193.87 501.19 L194.22 501.14 L194.57 501.13 L194.92 501.14 L195.28 501.19 L195.63 501.26 L195.98 501.35 L196.33 501.48 L196.68 501.63 L197.04 501.81 L197.39 502.01 L197.74 502.24 L198.09 502.49 L198.44 502.77 L198.8 503.08 L199.15 503.41 L199.5 503.75 L199.85 504.13 L200.2 504.52 L200.56 504.93 L200.91 505.36 L201.26 505.81 L201.61 506.28 L201.96 506.76 L202.32 507.26 L202.67 507.77 L203.02 508.3 L203.37 508.83 L203.72 509.38 L204.08 509.94 L204.43 510.51 L204.78 511.08 L205.13 511.66 L205.48 512.25 L205.84 512.84 L206.19 513.43 L206.54 514.03 L206.89 514.63 L207.24 515.23 L207.6 515.83 L207.95 516.42 L208.3 517.02 L208.65 517.61 L209 518.2 L209.36 518.78 L209.71 519.36 L210.06 519.93 L210.41 520.5 L210.76 521.05 L211.12 521.6 L211.47 522.14 L211.82 522.67 L212.17 523.19 L212.52 523.7 L212.88 524.2 L213.23 524.69 L213.58 525.17 L213.93 525.64 L214.28 526.09 L214.64 526.54 L214.99 526.97 L215.34 527.39 L215.69 527.79 L216.04 528.19 L216.4 528.57 L216.75 528.94 L217.1 529.29 L217.45 529.64 L217.8 529.97 L218.16 530.29 L218.51 530.6 L218.86 530.9 L219.21 531.18 L219.56 531.45 L219.92 531.72 L220.27 531.97 L220.62 532.21 L220.97 532.44 L221.32 532.65 L221.68 532.86 L222.03 533.06 L222.38 533.25 L222.73 533.43 L223.08 533.6 L223.44 533.77 L223.79 533.92 L224.14 534.07 L224.49 534.2 L224.84 534.34 L225.2 534.46 L225.55 534.58 L225.9 534.69 L226.25 534.79 L226.6 534.89 L226.96 534.98 L227.31 535.07 L227.66 535.15 L228.01 535.22 L228.36 535.29 L228.72 535.36 L229.07 535.42 L229.42 535.48 L229.77 535.54 L230.12 535.59 L230.48 535.63 L230.83 535.68 L231.18 535.72 L231.53 535.76 L231.88 535.79 L232.24 535.83 L232.59 535.86 L232.59 536.2 L156.56 536.2 Z"/>
</g>
<path d="M111.68 535.83 L111.85 535.76 L112.03 535.7 L112.2 535.62 L112.38 535.54 L112.56 535.45 L112.73 535.36 L112.91 535.26 L113.08 535.16 L113.26 535.05 L113.44 534.94 L113.61 534.83 L113.79 534.71 L113.96 534.58 L114.14 534.46 L114.32 534.33 L114.49 534.2 L114.67 534.06 L114.84 533.92 L115.02 533.78 L115.2 533.64 L115.37 533.5 L115.55 533.35 L115.72 533.2 L115.9 533.05 L116.08 532.9 L116.25 532.74 L116.43 532.58 L116.6 532.42 L116.78 532.26 L116.96 532.09 L117.13 531.92 L117.31 531.75 L117.48 531.57 L117.66 531.4 L117.84 531.22 L118.01 531.03 L118.19 530.85 L118.36 530.66 L118.54 530.47 L118.72 530.28 L118.89 530.09 L119.07 529.9 L119.24 529.71 L119.42 529.51 L119.6 529.32 L119.77 529.12 L119.95 528.92 L120.12 528.73 L120.3 528.53 L120.48 528.34 L120.65 528.15 L120.83 527.95 L121 527.76 L121.18 527.57 L121.36 527.38 L121.53 527.2 L121.71 527.01 L121.88 526.83 L122.06 526.65 L122.24 526.47 L122.41 526.29 L122.59 526.12 L122.76 525.95 L122.94 525.78 L123.12 525.61 L123.29 525.44 L123.47 525.28 L123.64 525.12 L123.82 524.95 L124 524.8 L124.17 524.64 L124.35 524.48 L124.52 524.32 L124.7 524.17 L124.88 524.02 L125.05 523.86 L125.23 523.71 L125.4 523.57 L125.58 523.42 L125.76 523.28 L125.93 523.14 L126.11 523 L126.28 522.86 L126.46 522.73 L126.64 522.6 L126.81 522.48 L126.99 522.36 L127.16 522.24 L127.34 522.13 L127.52 522.02 L127.69 521.92 L127.87 521.82 L128.04 521.72 L128.22 521.63 L128.4 521.54 L128.57 521.45 L128.75 521.37 L128.92 521.29 L129.1 521.21 L129.28 521.14 L129.45 521.07 L129.63 521 L129.8 520.93 L129.98 520.86 L130.16 520.8 L130.33 520.74 L130.51 520.69 L130.68 520.63 L130.86 520.59 L131.04 520.54 L131.21 520.5 L131.39 520.46 L131.56 520.43 L131.74 520.4 L131.92 520.38 L132.09 520.36 L132.27 520.35 L132.44 520.33 L132.62 520.33 L132.8 520.32 L132.97 520.32 L133.15 520.32 L133.32 520.32 L133.5 520.33 L133.68 520.33 L133.85 520.34 L134.03 520.35 L134.2 520.36 L134.38 520.37 L134.56 520.38 L134.73 520.38 L134.91 520.39 L135.08 520.4 L135.26 520.41 L135.44 520.42 L135.61 520.43 L135.79 520.44 L135.96 520.44 L136.14 520.45 L136.32 520.45 L136.49 520.46 L136.67 520.46 L136.84 520.47 L137.02 520.47 L137.2 520.47 L137.37 520.48 L137.55 520.48 L137.72 520.48 L137.9 520.48 L138.08 520.48 L138.25 520.48 L138.43 520.48 L138.6 520.48 L138.78 520.48 L138.96 520.48 L139.13 520.48 L139.31 520.48 L139.48 520.48 L139.66 520.48 L139.84 520.48 L140.01 520.48 L140.19 520.48 L140.36 520.48 L140.54 520.48 L140.72 520.48 L140.89 520.48 L141.07 520.48 L141.24 520.48 L141.42 520.48 L141.6 520.48 L141.77 520.48 L141.95 520.48 L142.12 520.48 L142.3 520.48 L142.48 520.48 L142.65 520.48 L142.83 520.48 L143 520.48 L143.18 520.48 L143.36 520.48 L143.53 520.48 L143.71 520.48 L143.88 520.48 L144.06 520.49 L144.24 520.49 L144.41 520.49 L144.59 520.49 L144.76 520.49 L144.94 520.49 L145.12 520.49 L145.29 520.49 L145.47 520.49 L145.64 520.49 L145.82 520.5 L146 520.5 L146.17 520.5 L146.35 520.5 L146.52 520.5 L146.7 520.51 L146.88 520.51 L147.05 520.51 L147.23 520.52 L147.4 520.52 L147.58 520.52 L147.76 520.53 L147.93 520.53 L148.11 520.53 L148.28 520.54 L148.46 520.54 L148.64 520.54 L148.81 520.55 L148.99 520.55 L149.16 520.55 L149.34 520.56 L149.52 520.56 L149.69 520.57 L149.87 520.57 L150.04 520.57 L150.22 520.58 L150.4 520.58 L150.57 520.58 L150.75 520.59 L150.92 520.59 L151.1 520.6 L151.28 520.6 L151.45 520.6 L151.63 520.61 L151.8 520.61 L151.98 520.61 L152.16 520.62 L152.33 520.62 L152.51 520.62 L152.68 520.63 L152.86 520.63 L153.04 520.64 L153.21 520.64 L153.39 520.64 L153.56 520.65 L153.74 520.65 L153.92 520.65 L154.09 520.66 L154.27 520.66 L154.44 520.67 L154.62 520.67 L154.8 520.67 L154.97 520.68 L155.15 520.68 L155.32 520.68 L155.5 520.69 L155.68 520.69 L155.85 520.7 L156.03 520.7 L156.2 520.7 L156.38 520.71 L156.56 520.71 L156.73 520.72 L156.91 520.72 L157.08 520.72 L157.26 520.73 L157.44 520.73 L157.61 520.74 L157.79 520.74 L157.96 520.74 L158.14 520.75 L158.32 520.75 L158.49 520.76 L158.67 520.76 L158.84 520.77 L159.02 520.77 L159.2 520.78 L159.37 520.78 L159.55 520.79 L159.72 520.79 L159.9 520.8 L160.08 520.81 L160.25 520.81 L160.43 520.82 L160.6 520.82 L160.78 520.83 L160.96 520.83 L161.13 520.84 L161.31 520.84 L161.48 520.85 L161.66 520.85 L161.84 520.86 L162.01 520.87 L162.19 520.87 L162.36 520.88 L162.54 520.88 L162.72 520.89 L162.89 520.89 L163.07 520.9 L163.24 520.91 L163.42 520.91 L163.6 520.92 L163.77 520.92 L163.95 520.93 L164.12 520.93 L164.3 520.94 L164.48 520.94 L164.65 520.95 L164.83 520.96 L165 520.96 L165.18 520.97 L165.36 520.97 L165.53 520.98 L165.71 520.98 L165.88 520.99 L166.06 520.99 L166.24 521 L166.41 521.01 L166.59 521.01 L166.76 521.02 L166.94 521.02 L167.12 521.03 L167.29 521.03 L167.47 521.04 L167.64 521.05 L167.82 521.05 L168 521.06 L168.17 521.06 L168.35 521.07 L168.52 521.08 L168.7 521.08 L168.88 521.09 L169.05 521.1 L169.23 521.11 L169.4 521.12 L169.58 521.12 L169.76 521.13 L169.93 521.14 L170.11 521.16 L170.28 521.17 L170.46 521.18 L170.64 521.19 L170.81 521.21 L170.99 521.22 L171.16 521.24 L171.34 521.25 L171.52 521.27 L171.69 521.29 L171.87 521.3 L172.04 521.32 L172.22 521.34 L172.4 521.36 L172.57 521.38 L172.75 521.4 L172.92 521.42 L173.1 521.44 L173.28 521.46 L173.45 521.48 L173.63 521.5 L173.8 521.52 L173.98 521.54 L174.16 521.56 L174.33 521.58 L174.51 521.6 L174.68 521.62 L174.86 521.64 L175.04 521.66 L175.21 521.68 L175.39 521.7 L175.56 521.72 L175.74 521.74 L175.92 521.76 L176.09 521.79 L176.27 521.81 L176.44 521.83 L176.62 521.86 L176.8 521.88 L176.97 521.91 L177.15 521.94 L177.32 521.97 L177.5 522 L177.68 522.03 L177.85 522.06 L178.03 522.1 L178.2 522.13 L178.38 522.17 L178.56 522.2 L178.73 522.24 L178.91 522.28 L179.08 522.32 L179.26 522.37 L179.44 522.41 L179.61 522.45 L179.79 522.5 L179.96 522.54 L180.14 522.59 L180.32 522.63 L180.49 522.68 L180.67 522.72 L180.84 522.77 L181.02 522.81 L181.2 522.86 L181.37 522.91 L181.55 522.95 L181.72 523 L181.9 523.05 L182.08 523.1 L182.25 523.15 L182.43 523.19 L182.6 523.24 L182.78 523.29 L182.96 523.34 L183.13 523.4 L183.31 523.45 L183.48 523.5 L183.66 523.55 L183.84 523.61 L184.01 523.67 L184.19 523.72 L184.36 523.78 L184.54 523.84 L184.72 523.9 L184.89 523.96 L185.07 524.02 L185.24 524.09 L185.42 524.15 L185.6 524.21 L185.77 524.28 L185.95 524.34 L186.12 524.41 L186.3 524.47 L186.48 524.54 L186.65 524.61 L186.83 524.67 L187 524.74 L187.18 524.8 L187.36 524.87 L187.53 524.94 L187.71 525.01 L187.88 525.07 L188.06 525.14 L188.24 525.21 L188.41 525.28 L188.59 525.35 L188.76 525.41 L188.94 525.48 L189.12 525.55 L189.29 525.62 L189.47 525.7 L189.64 525.77 L189.82 525.84 L190 525.91 L190.17 525.99 L190.35 526.06 L190.52 526.14 L190.7 526.21 L190.88 526.29 L191.05 526.37 L191.23 526.44 L191.4 526.52 L191.58 526.6 L191.76 526.68 L191.93 526.76 L192.11 526.84 L192.28 526.92 L192.46 527 L192.64 527.08 L192.81 527.16 L192.99 527.25 L193.16 527.33 L193.34 527.41 L193.52 527.49 L193.69 527.57 L193.87 527.65 L194.04 527.73 L194.22 527.81 L194.4 527.9 L194.57 527.98 L194.75 528.06 L194.92 528.14 L195.1 528.22 L195.28 528.3 L195.45 528.37 L195.63 528.45 L195.8 528.53 L195.98 528.61 L196.16 528.68 L196.33 528.76 L196.51 528.84 L196.68 528.91 L196.86 528.99 L197.04 529.06 L197.21 529.13 L197.39 529.21 L197.56 529.28 L197.74 529.35 L197.92 529.43 L198.09 529.5 L198.27 529.57 L198.44 529.64 L198.62 529.71 L198.8 529.78 L198.97 529.85 L199.15 529.92 L199.32 529.99 L199.5 530.06 L199.68 530.14 L199.85 530.21 L200.03 530.28 L200.2 530.35 L200.38 530.42 L200.56 530.48 L200.73 530.55 L200.91 530.62 L201.08 530.69 L201.26 530.76 L201.44 530.83 L201.61 530.9 L201.79 530.96 L201.96 531.03 L202.14 531.09 L202.32 531.16 L202.49 531.22 L202.67 531.29 L202.84 531.35 L203.02 531.41 L203.2 531.48 L203.37 531.54 L203.55 531.6 L203.72 531.66 L203.9 531.72 L204.08 531.78 L204.25 531.84 L204.43 531.9 L204.6 531.95 L204.78 532.01 L204.96 532.07 L205.13 532.13 L205.31 532.19 L205.48 532.24 L205.66 532.3 L205.84 532.36 L206.01 532.42 L206.19 532.47 L206.36 532.53 L206.54 532.59 L206.72 532.65 L206.89 532.7 L207.07 532.76 L207.24 532.81 L207.42 532.87 L207.6 532.92 L207.77 532.98 L207.95 533.03 L208.12 533.08 L208.3 533.13 L208.48 533.18 L208.65 533.23 L208.83 533.28 L209 533.33 L209.18 533.38 L209.36 533.42 L209.53 533.47 L209.71 533.51 L209.88 533.56 L210.06 533.6 L210.24 533.64 L210.41 533.68 L210.59 533.72 L210.76 533.77 L210.94 533.81 L211.12 533.85 L211.29 533.89 L211.47 533.93 L211.64 533.96 L211.82 534 L212 534.04 L212.17 534.08 L212.35 534.12 L212.52 534.16 L212.7 534.2 L212.88 534.24 L213.05 534.27 L213.23 534.31 L213.4 534.35 L213.58 534.38 L213.76 534.42 L213.93 534.46 L214.11 534.49 L214.28 534.53 L214.46 534.56 L214.64 534.59 L214.81 534.63 L214.99 534.66 L215.16 534.69 L215.34 534.72 L215.52 534.75 L215.69 534.78 L215.87 534.81 L216.04 534.84 L216.22 534.86 L216.4 534.89 L216.57 534.92 L216.75 534.94 L216.92 534.97 L217.1 534.99 L217.28 535.02 L217.45 535.04 L217.63 535.07 L217.8 535.09 L217.98 535.12 L218.16 535.14 L218.33 535.16 L218.51 535.19 L218.68 535.21 L218.86 535.24 L219.04 535.26 L219.21 535.28 L219.39 535.31 L219.56 535.33 L219.74 535.36 L219.92 535.38 L220.09 535.4 L220.27 535.43 L220.44 535.45 L220.62 535.47 L220.8 535.49 L220.97 535.52 L221.15 535.54 L221.32 535.56 L221.5 535.58 L221.68 535.6 L221.85 535.63 L222.03 535.65 L222.2 535.67 L222.38 535.69 L222.56 535.71 L222.73 535.73 L222.91 535.75 L223.08 535.77 L223.26 535.79 L223.44 535.81 L223.61 535.83 L223.79 535.85 L223.79 536.2 L111.68 536.2 Z" fill="none" stroke="#1a1a1a" stroke-width="0.7" stroke-linejoin="round"/>
<path d="M97.07 535.71 L97.6 535.56 L98.12 535.37 L98.65 535.13 L99.18 534.83 L99.71 534.46 L100.24 533.99 L100.76 533.42 L101.29 532.72 L101.82 531.87 L102.35 530.84 L102.88 529.61 L103.4 528.15 L103.93 526.43 L104.46 524.4 L104.99 522.05 L105.52 519.32 L106.04 516.19 L106.57 512.63 L107.1 508.6 L107.63 504.08 L108.16 499.04 L108.68 493.47 L109.21 487.36 L109.74 480.71 L110.27 473.54 L110.8 465.86 L111.32 457.72 L111.85 449.16 L112.38 440.24 L112.91 431.05 L113.44 421.67 L113.96 412.21 L114.49 402.79 L115.02 393.52 L115.55 384.53 L116.08 375.95 L116.6 367.92 L117.13 360.54 L117.66 353.95 L118.19 348.25 L118.72 343.55 L119.24 339.91 L119.77 337.41 L120.3 336.09 L120.83 335.98 L121.36 337.06 L121.88 339.34 L122.41 342.75 L122.94 347.24 L123.47 352.73 L124 359.12 L124.52 366.3 L125.05 374.15 L125.58 382.55 L126.11 391.36 L126.64 400.47 L127.16 409.75 L127.69 419.07 L128.22 428.32 L128.75 437.41 L129.28 446.23 L129.8 454.72 L130.33 462.8 L130.86 470.43 L131.39 477.57 L131.92 484.2 L132.44 490.29 L132.97 495.86 L133.5 500.9 L134.03 505.43 L134.56 509.47 L135.08 513.04 L135.61 516.16 L136.14 517.6 L136.67 518.06 L137.2 518.46 L137.72 518.79 L138.25 519.07 L138.78 519.31 L139.31 519.51 L139.84 519.68 L140.36 519.82 L140.89 519.94 L141.42 520.04 L141.95 520.12 L142.48 520.19 L143 520.25 L143.53 520.3 L144.06 520.33 L144.59 520.37 L145.12 520.39 L145.64 520.42 L146.17 520.44 L146.7 520.46 L147.23 520.47 L147.76 520.49 L148.28 520.5 L148.81 520.51 L149.34 520.53 L149.87 520.54 L150.4 520.54 L150.92 520.55 L151.45 520.55 L151.98 520.56 L152.51 520.56 L153.04 520.56 L153.56 520.56 L154.09 520.55 L154.62 520.54 L155.15 520.53 L155.68 520.52 L156.2 520.5 L156.73 520.48 L157.26 520.45 L157.79 520.42 L158.32 520.39 L158.84 520.35 L159.37 520.3 L159.9 520.24 L160.43 520.17 L160.96 520.1 L161.48 520.01 L162.01 519.91 L162.54 519.8 L163.07 519.68 L163.6 519.54 L164.12 519.38 L164.65 519.21 L165.18 519.01 L165.71 518.8 L166.24 518.57 L166.76 518.31 L167.29 518.03 L167.82 517.73 L168.35 517.4 L168.88 517.05 L169.4 516.67 L169.93 516.28 L170.46 515.86 L170.99 515.42 L171.52 514.96 L172.04 514.48 L172.57 513.98 L173.1 513.45 L173.63 512.9 L174.16 512.33 L174.68 511.73 L175.21 511.12 L175.74 510.48 L176.27 509.81 L176.8 509.13 L177.32 508.44 L177.85 507.73 L178.38 507.02 L178.91 506.3 L179.44 505.57 L179.96 504.83 L180.49 504.09 L181.02 503.34 L181.55 502.58 L182.08 501.83 L182.6 501.07 L183.13 500.33 L183.66 499.6 L184.19 498.89 L184.72 498.21 L185.24 497.54 L185.77 496.91 L186.3 496.3 L186.83 495.73 L187.36 495.19 L187.88 494.68 L188.41 494.22 L188.94 493.8 L189.47 493.43 L190 493.12 L190.52 492.86 L191.05 492.66 L191.58 492.52 L192.11 492.45 L192.64 492.43 L193.16 492.48 L193.69 492.59 L194.22 492.76 L194.75 492.99 L195.28 493.28 L195.8 493.63 L196.33 494.04 L196.86 494.5 L197.39 495.02 L197.92 495.59 L198.44 496.21 L198.97 496.89 L199.5 497.62 L200.03 498.39 L200.56 499.21 L201.08 500.08 L201.61 500.97 L202.14 501.9 L202.67 502.86 L203.2 503.84 L203.72 504.84 L204.25 505.86 L204.78 506.89 L205.31 507.94 L205.84 509 L206.36 510.06 L206.89 511.13 L207.42 512.2 L207.95 513.25 L208.48 514.3 L209 515.33 L209.53 516.34 L210.06 517.33 L210.59 518.3 L211.12 519.25 L211.64 520.17 L212.17 521.07 L212.7 521.95 L213.23 522.8 L213.76 523.63 L214.28 524.42 L214.81 525.18 L215.34 525.91 L215.87 526.6 L216.4 527.26 L216.92 527.89 L217.45 528.48 L217.98 529.05 L218.51 529.59 L219.04 530.1 L219.56 530.59 L220.09 531.04 L220.62 531.48 L221.15 531.88 L221.68 532.27 L222.2 532.63 L222.73 532.96 L223.26 533.28 L223.79 533.57 L224.32 533.85 L224.84 534.11 L225.37 534.34 L225.9 534.56 L226.43 534.75 L226.96 534.92 L227.48 535.08 L228.01 535.21 L228.54 535.32 L229.07 535.42 L229.6 535.51 L230.12 535.59 L230.65 535.66 L231.18 535.72" fill="none" stroke="#5a7a7a" stroke-width="0.8" stroke-linejoin="round"/>
<path d="M36.7 536.2 L37.4 536.2 L38.11 536.2 L38.81 536.2 L39.52 536.2 L40.22 536.2 L40.92 536.2 L41.63 536.2 L42.33 536.2 L43.04 536.2 L43.74 536.2 L44.44 536.2 L45.15 536.2 L45.85 536.2 L46.56 536.2 L47.26 536.2 L47.96 536.2 L48.67 536.2 L49.37 536.2 L50.08 536.2 L50.78 536.2 L51.48 536.2 L52.19 536.2 L52.89 536.2 L53.6 536.2 L54.3 536.2 L55 536.2 L55.71 536.2 L56.41 536.2 L57.12 536.2 L57.82 536.2 L58.52 536.2 L59.23 536.2 L59.93 536.2 L60.64 536.2 L61.34 536.2 L62.04 536.2 L62.75 536.2 L63.45 536.2 L64.16 536.2 L64.86 536.2 L65.56 536.2 L66.27 536.2 L66.97 536.2 L67.68 536.2 L68.38 536.2 L69.08 536.2 L69.79 536.2 L70.49 536.2 L71.2 536.2 L71.9 536.2 L72.6 536.2 L73.31 536.2 L74.01 536.2 L74.72 536.2 L75.42 536.2 L76.12 536.2 L76.83 536.2 L77.53 536.2 L78.24 536.2 L78.94 536.2 L79.64 536.2 L80.35 536.2 L81.05 536.2 L81.76 536.2 L82.46 536.2 L83.16 536.2 L83.87 536.2 L84.57 536.2 L85.28 536.2 L85.98 536.14 L86.68 535.71 L87.39 534.45 L88.09 532.55 L88.8 530.48 L89.5 528.41 L90.2 526.34 L90.91 524.36 L91.61 522.62 L92.32 521.15 L93.02 519.82 L93.72 518.93 L94.43 519.02 L95.13 519.85 L95.84 520.83 L96.54 521.64 L97.24 522.13 L97.95 522.43 L98.65 522.68 L99.36 522.77 L100.06 522.04 L100.76 519.91 L101.47 517 L102.17 514.28 L102.88 512.93 L103.58 513.39 L104.28 514.68 L104.99 516.41 L105.69 518.33 L106.4 513.87 L107.1 508.6 L107.8 502.45 L108.51 495.38 L109.21 487.36 L109.92 478.38 L110.62 468.47 L111.32 457.72 L112.03 446.22 L112.73 434.14 L113.44 421.67 L114.14 409.06 L114.84 396.58 L115.55 384.53 L116.25 373.21 L116.96 362.92 L117.66 353.94 L118.36 346.39 L119.07 339.41 L119.77 330.14 L120.48 318.38 L121.18 314.28 L121.88 324.39 L122.59 338.85 L123.29 349.81 L124 359.02 L124.7 368.84 L125.4 379.69 L126.11 391.36 L126.81 403.55 L127.52 415.96 L128.22 428.32 L128.92 440.38 L129.63 451.93 L130.33 462.8 L131.04 472.87 L131.74 482.05 L132.44 490.29 L133.15 497.6 L133.85 503.98 L134.56 509.47 L135.26 514.13 L135.96 517.42 L136.67 518.06 L137.37 517.48 L138.08 517.76 L138.78 519.39 L139.48 521.13 L140.19 522.8 L140.89 523.25 L141.6 523.66 L142.3 523.98 L143 523.85 L143.71 523.71 L144.41 522.88 L145.12 520.04 L145.82 517.2 L146.52 516.02 L147.23 517.63 L147.93 519.23 L148.64 520.02 L149.34 520.02 L150.04 520.01 L150.75 520.23 L151.45 520.57 L152.16 520.92 L152.86 521.17 L153.56 521.38 L154.27 521.59 L154.97 520.13 L155.68 518.41 L156.38 516.59 L157.08 518.06 L157.79 518.76 L158.49 518.05 L159.2 514.59 L159.9 512.49 L160.6 512.56 L161.31 513.52 L162.01 514.15 L162.72 515 L163.42 517.21 L164.12 519.08 L164.83 519.75 L165.53 519.27 L166.24 518.75 L166.94 518.43 L167.64 518.21 L168.35 517.95 L169.05 518.01 L169.76 518.16 L170.46 518.29 L171.16 517.07 L171.87 515.6 L172.57 514.06 L173.28 512 L173.98 509.85 L174.68 507.96 L175.39 508.46 L176.09 508.97 L176.8 509.03 L177.5 507.69 L178.2 506.31 L178.91 505.53 L179.61 505.8 L180.32 506.09 L181.02 506.32 L181.72 506.5 L182.43 506.7 L183.13 503.85 L183.84 499.07 L184.54 494.23 L185.24 494.4 L185.95 496.32 L186.65 498.15 L187.36 495.94 L188.06 492.48 L188.76 489.16 L189.47 488.46 L190.17 489.41 L190.88 490.27 L191.58 488.6 L192.28 486.44 L192.99 485.58 L193.69 488.79 L194.4 491.15 L195.1 489.76 L195.8 484.26 L196.51 481.38 L197.21 485.04 L197.92 492.61 L198.62 498.82 L199.32 499.72 L200.03 497.83 L200.73 495.97 L201.44 496.21 L202.14 497.17 L202.84 498.2 L203.55 500.42 L204.25 502.81 L204.96 505.18 L205.66 506.61 L206.36 508.06 L207.07 509.54 L207.77 511.21 L208.48 512.85 L209.18 514.25 L209.88 515.07 L210.59 515.88 L211.29 517.35 L212 519.81 L212.7 522.15 L213.4 522.75 L214.11 521.82 L214.81 521.01 L215.52 522.62 L216.22 525.45 L216.92 528.05 L217.63 529.11 L218.33 529.68 L219.04 530.21 L219.74 530.88 L220.44 529.22 L221.15 529.23 L221.85 529.1 L222.56 529.48 L223.26 530.39 L223.96 531.5 L224.67 532.55 L225.37 532.56 L226.08 532.32 L226.78 532.06 L227.48 532.08 L228.19 532.44 L228.89 532.72 L229.6 532.87 L230.3 533.68 L231 534.47 L231.71 533.95 L232.41 533.58 L233.12 533.62 L233.82 533.31 L234.52 533.46 L235.23 533.68 L235.93 533.9 L236.64 534.11 L237.34 533.83 L238.04 533.37 L238.75 532.9 L239.45 532.43 L240.16 532.85 L240.86 533.27 L241.56 533.68 L242.27 533.58 L242.97 532.96 L243.68 532.35 L244.38 531.73 L245.08 532.15 L245.79 532.57 L246.49 532.99 L247.2 533.82 L247.9 533.43 L248.6 532.2 L249.31 530.96 L250.01 532.51 L250.72 534.05 L251.42 532.9 L252.12 532.62 L252.83 533.62 L253.53 533.89 L254.24 532.89 L254.94 533.6 L255.64 534.2 L256.35 533.49 L257.05 533.3 L257.76 533.62 L258.46 533.94 L259.16 534.24 L259.87 533.71 L260.57 533.16 L261.28 532.61 L261.98 532.59 L262.68 533.11 L263.39 533.63 L264.09 534.15 L264.8 534.1 L265.5 534.04 L266.2 533.98 L266.91 534.01 L267.61 532.95 L268.32 531.88 L269.02 530.82 L269.72 532.61 L270.43 534.1 L271.13 532.31 L271.84 531.81 L272.54 532.6 L273.24 533.4 L273.95 534.2 L274.65 534.05 L275.36 533.8 L276.06 533.55 L276.76 533.93 L277.47 533.58 L278.17 532.58 L278.88 531.58 L279.58 532.01 L280.28 532.44 L280.99 532.87 L281.69 533.18 L282.4 533.37 L283.1 533.56 L283.8 533.75 L284.51 533.61 L285.21 533.47 L285.92 533.33 L286.62 533.38 L287.32 533.63 L288.03 533.88 L288.73 534.12 L289.44 533.71 L290.14 533.04 L290.84 532.36 L291.55 531.97 L292.25 531.85 L292.96 531.73 L293.66 531.61 L294.36 532.91 L295.07 534.21 L295.77 532.99 L296.48 532.3 L297.18 532.22 L297.88 532.14 L298.59 532.06 L299.29 532.36 L300 532.67 L300.7 532.98" fill="none" stroke="#1c1c1c" stroke-width="0.95" stroke-linejoin="round"/>
<path d="M36.7 308.9 V536.2 M36.7 536.2 H300.7 M36.7 536.2 v9.3 M45.5 536.2 v4.8 M54.3 536.2 v4.8 M63.1 536.2 v4.8 M71.9 536.2 v9.3 M80.7 536.2 v4.8 M89.5 536.2 v4.8 M98.3 536.2 v4.8 M107.1 536.2 v9.3 M115.9 536.2 v4.8 M124.7 536.2 v4.8 M133.5 536.2 v4.8 M142.3 536.2 v9.3 M151.1 536.2 v4.8 M159.9 536.2 v4.8 M168.7 536.2 v4.8 M177.5 536.2 v9.3 M186.3 536.2 v4.8 M195.1 536.2 v4.8 M203.9 536.2 v4.8 M212.7 536.2 v9.3 M221.5 536.2 v4.8 M230.3 536.2 v4.8 M239.1 536.2 v4.8 M247.9 536.2 v9.3 M256.7 536.2 v4.8 M265.5 536.2 v4.8 M274.3 536.2 v4.8 M283.1 536.2 v9.3 M291.9 536.2 v4.8 M300.7 536.2 v4.8 M36.7 536.2 h-9.3 M36.7 529.71 h-4.8 M36.7 523.21 h-4.8 M36.7 516.72 h-4.8 M36.7 510.22 h-4.8 M36.7 503.73 h-9.3 M36.7 497.23 h-4.8 M36.7 490.74 h-4.8 M36.7 484.25 h-4.8 M36.7 477.75 h-4.8 M36.7 471.26 h-9.3 M36.7 464.76 h-4.8 M36.7 458.27 h-4.8 M36.7 451.77 h-4.8 M36.7 445.28 h-4.8 M36.7 438.79 h-9.3 M36.7 432.29 h-4.8 M36.7 425.8 h-4.8 M36.7 419.3 h-4.8 M36.7 412.81 h-4.8 M36.7 406.31 h-9.3 M36.7 399.82 h-4.8 M36.7 393.33 h-4.8 M36.7 386.83 h-4.8 M36.7 380.34 h-4.8 M36.7 373.84 h-9.3 M36.7 367.35 h-4.8 M36.7 360.85 h-4.8 M36.7 354.36 h-4.8 M36.7 347.87 h-4.8 M36.7 341.37 h-9.3 M36.7 334.88 h-4.8 M36.7 328.38 h-4.8 M36.7 321.89 h-4.8 M36.7 315.39 h-4.8 M36.7 308.9 h-9.3" fill="none" stroke="#3e3e3e" stroke-width="1.15"/>
<g class="tk">
<text x="36.7" y="555.6">0</text>
<text x="71.9" y="555.6">20</text>
<text x="107.1" y="555.6">40</text>
<text x="142.3" y="555.6">60</text>
<text x="177.5" y="555.6">80</text>
<text x="212.7" y="555.6">100</text>
<text x="247.9" y="555.6">120</text>
<text x="283.1" y="555.6">140</text>
<text transform="translate(23.9 536.2) rotate(-90)">0</text>
<text transform="translate(23.9 503.73) rotate(-90)">50</text>
<text transform="translate(23.9 471.26) rotate(-90)">100</text>
<text transform="translate(23.9 438.79) rotate(-90)">150</text>
<text transform="translate(23.9 406.31) rotate(-90)">200</text>
<text transform="translate(23.9 373.84) rotate(-90)">250</text>
<text transform="translate(23.9 341.37) rotate(-90)">300</text>
<text transform="translate(23.9 308.9) rotate(-90)">350</text>
<text class="nl" transform="translate(10.9 423.15) rotate(-90)">Number</text>
<text class="xl" x="168.7" y="566.6">FL10-A PE-A</text>
</g>
<path d="M121.36 536.5 l-4.4 7.5 h8.8 Z" fill="#111"/>
<path d="M196.86 536.5 l-4.4 7.5 h8.8 Z" fill="#111"/>
<text class="cap" x="62.6" y="596.4">Decitabine 10µM</text>
</g>
<g id="p4">
<path d="M392.72 535.85 L392.89 535.82 L393.07 535.8 L393.24 535.77 L393.42 535.75 L393.6 535.72 L393.77 535.69 L393.95 535.65 L394.12 535.62 L394.3 535.58 L394.48 535.54 L394.65 535.5 L394.83 535.46 L395 535.41 L395.18 535.37 L395.36 535.32 L395.53 535.26 L395.71 535.21 L395.88 535.15 L396.06 535.08 L396.24 535.02 L396.41 534.95 L396.59 534.87 L396.76 534.8 L396.94 534.72 L397.12 534.63 L397.29 534.54 L397.47 534.45 L397.64 534.35 L397.82 534.25 L398 534.14 L398.17 534.02 L398.35 533.9 L398.52 533.78 L398.7 533.64 L398.88 533.51 L399.05 533.36 L399.23 533.21 L399.4 533.05 L399.58 532.89 L399.76 532.71 L399.93 532.53 L400.11 532.34 L400.28 532.15 L400.46 531.94 L400.64 531.72 L400.81 531.5 L400.99 531.26 L401.16 531.02 L401.34 530.76 L401.52 530.5 L401.69 530.22 L401.87 529.93 L402.04 529.63 L402.22 529.32 L402.4 529 L402.57 528.66 L402.75 528.31 L402.92 527.95 L403.1 527.57 L403.28 527.17 L403.45 526.77 L403.63 526.34 L403.8 525.91 L403.98 525.45 L404.16 524.98 L404.33 524.49 L404.51 523.99 L404.68 523.47 L404.86 522.93 L405.04 522.37 L405.21 521.79 L405.39 521.19 L405.56 520.58 L405.74 519.94 L405.92 519.28 L406.09 518.61 L406.27 517.91 L406.44 517.19 L406.62 516.44 L406.8 515.68 L406.97 514.89 L407.15 514.08 L407.32 513.25 L407.5 512.39 L407.68 511.51 L407.85 510.6 L408.03 509.67 L408.2 508.72 L408.38 507.73 L408.56 506.73 L408.73 505.7 L408.91 504.64 L409.08 503.55 L409.26 502.44 L409.44 501.31 L409.61 500.15 L409.79 498.96 L409.96 497.74 L410.14 496.5 L410.32 495.23 L410.49 493.93 L410.67 492.6 L410.84 491.25 L411.02 489.88 L411.2 488.47 L411.37 487.04 L411.55 485.58 L411.72 484.1 L411.9 482.59 L412.08 481.05 L412.25 479.49 L412.43 477.9 L412.6 476.29 L412.78 474.66 L412.96 473 L413.13 471.31 L413.31 469.6 L413.48 467.87 L413.66 466.12 L413.84 464.35 L414.01 462.55 L414.19 460.74 L414.36 458.9 L414.54 457.05 L414.72 455.18 L414.89 453.29 L415.07 451.38 L415.24 449.46 L415.42 447.53 L415.6 445.58 L415.77 443.61 L415.95 441.64 L416.12 439.65 L416.3 437.66 L416.48 435.65 L416.65 433.64 L416.83 431.63 L417 429.6 L417.18 427.58 L417.36 425.55 L417.53 423.52 L417.71 421.49 L417.88 419.46 L418.06 417.43 L418.24 415.41 L418.41 413.4 L418.59 411.39 L418.76 409.38 L418.94 407.39 L419.12 405.41 L419.29 403.44 L419.47 401.49 L419.64 399.55 L419.82 397.63 L420 395.73 L420.17 393.85 L420.35 391.99 L420.52 390.15 L420.7 388.34 L420.88 386.55 L421.05 384.79 L421.23 383.06 L421.4 381.36 L421.58 379.69 L421.76 378.06 L421.93 376.46 L422.11 374.89 L422.28 373.37 L422.46 371.88 L422.64 370.44 L422.81 369.03 L422.99 367.67 L423.16 366.35 L423.34 365.08 L423.52 363.85 L423.69 362.67 L423.87 361.54 L424.04 360.46 L424.22 359.43 L424.4 358.45 L424.57 357.53 L424.75 356.65 L424.92 355.84 L425.1 355.07 L425.28 354.37 L425.45 353.72 L425.63 353.12 L425.8 352.59 L425.98 352.11 L426.16 351.69 L426.33 351.33 L426.51 351.03 L426.68 350.79 L426.86 350.61 L427.04 350.49 L427.21 350.43 L427.39 350.43 L427.56 350.49 L427.74 350.61 L427.92 350.79 L428.09 351.03 L428.27 351.33 L428.44 351.69 L428.62 352.11 L428.8 352.59 L428.97 353.12 L429.15 353.72 L429.32 354.37 L429.5 355.07 L429.68 355.84 L429.85 356.65 L430.03 357.53 L430.2 358.45 L430.38 359.43 L430.56 360.46 L430.73 361.54 L430.91 362.67 L431.08 363.85 L431.26 365.08 L431.44 366.35 L431.61 367.67 L431.79 369.03 L431.96 370.44 L432.14 371.88 L432.32 373.37 L432.49 374.89 L432.67 376.46 L432.84 378.06 L433.02 379.69 L433.2 381.36 L433.37 383.06 L433.55 384.79 L433.72 386.55 L433.9 388.34 L434.08 390.15 L434.25 391.99 L434.43 393.85 L434.6 395.73 L434.78 397.63 L434.96 399.55 L435.13 401.49 L435.31 403.44 L435.48 405.41 L435.66 407.39 L435.84 409.38 L436.01 411.39 L436.19 413.4 L436.36 415.41 L436.54 417.43 L436.72 419.46 L436.89 421.49 L437.07 423.52 L437.24 425.55 L437.42 427.58 L437.6 429.6 L437.77 431.63 L437.95 433.64 L438.12 435.65 L438.3 437.66 L438.48 439.65 L438.65 441.64 L438.83 443.61 L439 445.58 L439.18 447.53 L439.36 449.46 L439.53 451.38 L439.71 453.29 L439.88 455.18 L440.06 457.05 L440.24 458.9 L440.41 460.74 L440.59 462.55 L440.76 464.35 L440.94 466.12 L441.12 467.87 L441.29 469.6 L441.47 471.31 L441.64 473 L441.82 474.66 L442 476.29 L442.17 477.9 L442.35 479.49 L442.52 481.05 L442.7 482.59 L442.88 484.1 L443.05 485.58 L443.23 487.04 L443.4 488.47 L443.58 489.88 L443.76 491.25 L443.93 492.6 L444.11 493.93 L444.28 495.23 L444.46 496.5 L444.64 497.74 L444.81 498.96 L444.99 500.15 L445.16 501.31 L445.34 502.44 L445.52 503.55 L445.69 504.64 L445.87 505.7 L446.04 506.73 L446.22 507.73 L446.4 508.72 L446.57 509.67 L446.75 510.6 L446.92 511.51 L447.1 512.39 L447.28 513.25 L447.45 514.08 L447.63 514.89 L447.8 515.68 L447.98 516.44 L448.16 517.19 L448.33 517.91 L448.51 518.61 L448.68 519.28 L448.86 519.94 L449.04 520.58 L449.21 521.19 L449.39 521.79 L449.56 522.37 L449.74 522.93 L449.92 523.47 L450.09 523.99 L450.27 524.49 L450.44 524.98 L450.62 525.45 L450.8 525.91 L450.97 526.34 L451.15 526.77 L451.32 527.17 L451.5 527.57 L451.68 527.95 L451.85 528.31 L452.03 528.66 L452.2 529 L452.38 529.32 L452.56 529.63 L452.73 529.93 L452.91 530.22 L453.08 530.5 L453.26 530.76 L453.44 531.02 L453.61 531.26 L453.79 531.5 L453.96 531.72 L454.14 531.94 L454.32 532.15 L454.49 532.34 L454.67 532.53 L454.84 532.71 L455.02 532.89 L455.2 533.05 L455.37 533.21 L455.55 533.36 L455.72 533.51 L455.9 533.64 L456.08 533.78 L456.25 533.9 L456.43 534.02 L456.6 534.14 L456.78 534.25 L456.96 534.35 L457.13 534.45 L457.31 534.54 L457.48 534.63 L457.66 534.72 L457.84 534.8 L458.01 534.87 L458.19 534.95 L458.36 535.02 L458.54 535.08 L458.72 535.15 L458.89 535.21 L459.07 535.26 L459.24 535.32 L459.42 535.37 L459.6 535.41 L459.77 535.46 L459.95 535.5 L460.12 535.54 L460.3 535.58 L460.48 535.62 L460.65 535.65 L460.83 535.69 L461 535.72 L461.18 535.75 L461.36 535.77 L461.53 535.8 L461.71 535.82 L461.88 535.85 L461.88 536.2 L392.72 536.2 Z" fill="#fb0000" stroke="#1a1a1a" stroke-width="0.7" stroke-linejoin="round"/>
<path d="M454.32 535.85 L454.49 535.84 L454.67 535.83 L454.84 535.82 L455.02 535.8 L455.2 535.79 L455.37 535.77 L455.55 535.76 L455.72 535.75 L455.9 535.73 L456.08 535.72 L456.25 535.7 L456.43 535.68 L456.6 535.67 L456.78 535.65 L456.96 535.63 L457.13 535.61 L457.31 535.59 L457.48 535.57 L457.66 535.55 L457.84 535.53 L458.01 535.51 L458.19 535.49 L458.36 535.47 L458.54 535.44 L458.72 535.42 L458.89 535.4 L459.07 535.37 L459.24 535.35 L459.42 535.32 L459.6 535.29 L459.77 535.26 L459.95 535.24 L460.12 535.21 L460.3 535.18 L460.48 535.14 L460.65 535.11 L460.83 535.08 L461 535.05 L461.18 535.01 L461.36 534.98 L461.53 534.94 L461.71 534.9 L461.88 534.86 L462.06 534.82 L462.24 534.78 L462.41 534.74 L462.59 534.7 L462.76 534.66 L462.94 534.61 L463.12 534.57 L463.29 534.52 L463.47 534.47 L463.64 534.42 L463.82 534.37 L464 534.32 L464.17 534.27 L464.35 534.21 L464.52 534.16 L464.7 534.1 L464.88 534.04 L465.05 533.98 L465.23 533.92 L465.4 533.86 L465.58 533.79 L465.76 533.73 L465.93 533.66 L466.11 533.59 L466.28 533.52 L466.46 533.45 L466.64 533.38 L466.81 533.3 L466.99 533.22 L467.16 533.15 L467.34 533.07 L467.52 532.98 L467.69 532.9 L467.87 532.81 L468.04 532.73 L468.22 532.64 L468.4 532.54 L468.57 532.45 L468.75 532.36 L468.92 532.26 L469.1 532.16 L469.28 532.06 L469.45 531.95 L469.63 531.85 L469.8 531.74 L469.98 531.63 L470.16 531.52 L470.33 531.4 L470.51 531.28 L470.68 531.16 L470.86 531.04 L471.04 530.92 L471.21 530.79 L471.39 530.66 L471.56 530.53 L471.74 530.4 L471.92 530.26 L472.09 530.12 L472.27 529.98 L472.44 529.83 L472.62 529.69 L472.8 529.53 L472.97 529.38 L473.15 529.23 L473.32 529.07 L473.5 528.91 L473.68 528.74 L473.85 528.57 L474.03 528.4 L474.2 528.23 L474.38 528.05 L474.56 527.87 L474.73 527.69 L474.91 527.51 L475.08 527.32 L475.26 527.13 L475.44 526.93 L475.61 526.73 L475.79 526.53 L475.96 526.33 L476.14 526.12 L476.32 525.91 L476.49 525.69 L476.67 525.47 L476.84 525.25 L477.02 525.03 L477.2 524.8 L477.37 524.57 L477.55 524.33 L477.72 524.09 L477.9 523.85 L478.08 523.6 L478.25 523.35 L478.43 523.1 L478.6 522.84 L478.78 522.58 L478.96 522.32 L479.13 522.05 L479.31 521.78 L479.48 521.5 L479.66 521.22 L479.84 520.94 L480.01 520.65 L480.19 520.36 L480.36 520.07 L480.54 519.77 L480.72 519.47 L480.89 519.16 L481.07 518.85 L481.24 518.54 L481.42 518.22 L481.6 517.9 L481.77 517.57 L481.95 517.24 L482.12 516.91 L482.3 516.58 L482.48 516.24 L482.65 515.89 L482.83 515.54 L483 515.19 L483.18 514.84 L483.36 514.48 L483.53 514.11 L483.71 513.75 L483.88 513.38 L484.06 513 L484.24 512.62 L484.41 512.24 L484.59 511.86 L484.76 511.47 L484.94 511.07 L485.12 510.68 L485.29 510.28 L485.47 509.87 L485.64 509.46 L485.82 509.05 L486 508.64 L486.17 508.22 L486.35 507.8 L486.52 507.38 L486.7 506.95 L486.88 506.52 L487.05 506.08 L487.23 505.64 L487.4 505.2 L487.58 504.76 L487.76 504.31 L487.93 503.86 L488.11 503.41 L488.28 502.95 L488.46 502.49 L488.64 502.03 L488.81 501.56 L488.99 501.09 L489.16 500.62 L489.34 500.15 L489.52 499.68 L489.69 499.2 L489.87 498.72 L490.04 498.23 L490.22 497.75 L490.4 497.26 L490.57 496.77 L490.75 496.28 L490.92 495.79 L491.1 495.29 L491.28 494.79 L491.45 494.29 L491.63 493.79 L491.8 493.29 L491.98 492.78 L492.16 492.28 L492.33 491.77 L492.51 491.26 L492.68 490.75 L492.86 490.24 L493.04 489.73 L493.21 489.22 L493.39 488.71 L493.56 488.19 L493.74 487.68 L493.92 487.16 L494.09 486.65 L494.27 486.13 L494.44 485.61 L494.62 485.1 L494.8 484.58 L494.97 484.07 L495.15 483.55 L495.32 483.03 L495.5 482.52 L495.68 482.01 L495.85 481.49 L496.03 480.98 L496.2 480.47 L496.38 479.95 L496.56 479.44 L496.73 478.94 L496.91 478.43 L497.08 477.92 L497.26 477.42 L497.44 476.91 L497.61 476.41 L497.79 475.91 L497.96 475.42 L498.14 474.92 L498.32 474.43 L498.49 473.94 L498.67 473.45 L498.84 472.96 L499.02 472.48 L499.2 472 L499.37 471.53 L499.55 471.05 L499.72 470.58 L499.9 470.12 L500.08 469.65 L500.25 469.19 L500.43 468.74 L500.6 468.28 L500.78 467.84 L500.96 467.39 L501.13 466.95 L501.31 466.51 L501.48 466.08 L501.66 465.66 L501.84 465.23 L502.01 464.82 L502.19 464.4 L502.36 464 L502.54 463.59 L502.72 463.2 L502.89 462.8 L503.07 462.42 L503.24 462.04 L503.42 461.66 L503.6 461.29 L503.77 460.93 L503.95 460.57 L504.12 460.22 L504.3 459.87 L504.48 459.53 L504.65 459.2 L504.83 458.87 L505 458.55 L505.18 458.24 L505.36 457.93 L505.53 457.63 L505.71 457.34 L505.88 457.05 L506.06 456.77 L506.24 456.5 L506.41 456.24 L506.59 455.98 L506.76 455.73 L506.94 455.49 L507.12 455.25 L507.29 455.02 L507.47 454.8 L507.64 454.59 L507.82 454.39 L508 454.19 L508.17 454 L508.35 453.82 L508.52 453.65 L508.7 453.48 L508.88 453.33 L509.05 453.18 L509.23 453.04 L509.4 452.91 L509.58 452.79 L509.76 452.67 L509.93 452.56 L510.11 452.47 L510.28 452.38 L510.46 452.29 L510.64 452.22 L510.81 452.16 L510.99 452.1 L511.16 452.05 L511.34 452.02 L511.52 451.99 L511.69 451.96 L511.87 451.95 L512.04 451.95 L512.22 451.95 L512.4 451.96 L512.57 451.99 L512.75 452.02 L512.92 452.05 L513.1 452.1 L513.28 452.16 L513.45 452.22 L513.63 452.29 L513.8 452.38 L513.98 452.47 L514.16 452.56 L514.33 452.67 L514.51 452.79 L514.68 452.91 L514.86 453.04 L515.04 453.18 L515.21 453.33 L515.39 453.48 L515.56 453.65 L515.74 453.82 L515.92 454 L516.09 454.19 L516.27 454.39 L516.44 454.59 L516.62 454.8 L516.8 455.02 L516.97 455.25 L517.15 455.49 L517.32 455.73 L517.5 455.98 L517.68 456.24 L517.85 456.5 L518.03 456.77 L518.2 457.05 L518.38 457.34 L518.56 457.63 L518.73 457.93 L518.91 458.24 L519.08 458.55 L519.26 458.87 L519.44 459.2 L519.61 459.53 L519.79 459.87 L519.96 460.22 L520.14 460.57 L520.32 460.93 L520.49 461.29 L520.67 461.66 L520.84 462.04 L521.02 462.42 L521.2 462.8 L521.37 463.2 L521.55 463.59 L521.72 464 L521.9 464.4 L522.08 464.82 L522.25 465.23 L522.43 465.66 L522.6 466.08 L522.78 466.51 L522.96 466.95 L523.13 467.39 L523.31 467.84 L523.48 468.28 L523.66 468.74 L523.84 469.19 L524.01 469.65 L524.19 470.12 L524.36 470.58 L524.54 471.05 L524.72 471.53 L524.89 472 L525.07 472.48 L525.24 472.96 L525.42 473.45 L525.6 473.94 L525.77 474.43 L525.95 474.92 L526.12 475.42 L526.3 475.91 L526.48 476.41 L526.65 476.91 L526.83 477.42 L527 477.92 L527.18 478.43 L527.36 478.94 L527.53 479.44 L527.71 479.95 L527.88 480.47 L528.06 480.98 L528.24 481.49 L528.41 482.01 L528.59 482.52 L528.76 483.03 L528.94 483.55 L529.12 484.07 L529.29 484.58 L529.47 485.1 L529.64 485.61 L529.82 486.13 L530 486.65 L530.17 487.16 L530.35 487.68 L530.52 488.19 L530.7 488.71 L530.88 489.22 L531.05 489.73 L531.23 490.24 L531.4 490.75 L531.58 491.26 L531.76 491.77 L531.93 492.28 L532.11 492.78 L532.28 493.29 L532.46 493.79 L532.64 494.29 L532.81 494.79 L532.99 495.29 L533.16 495.79 L533.34 496.28 L533.52 496.77 L533.69 497.26 L533.87 497.75 L534.04 498.23 L534.22 498.72 L534.4 499.2 L534.57 499.68 L534.75 500.15 L534.92 500.62 L535.1 501.09 L535.28 501.56 L535.45 502.03 L535.63 502.49 L535.8 502.95 L535.98 503.41 L536.16 503.86 L536.33 504.31 L536.51 504.76 L536.68 505.2 L536.86 505.64 L537.04 506.08 L537.21 506.52 L537.39 506.95 L537.56 507.38 L537.74 507.8 L537.92 508.22 L538.09 508.64 L538.27 509.05 L538.44 509.46 L538.62 509.87 L538.8 510.28 L538.97 510.68 L539.15 511.07 L539.32 511.47 L539.5 511.86 L539.68 512.24 L539.85 512.62 L540.03 513 L540.2 513.38 L540.38 513.75 L540.56 514.11 L540.73 514.48 L540.91 514.84 L541.08 515.19 L541.26 515.54 L541.44 515.89 L541.61 516.24 L541.79 516.58 L541.96 516.91 L542.14 517.24 L542.32 517.57 L542.49 517.9 L542.67 518.22 L542.84 518.54 L543.02 518.85 L543.2 519.16 L543.37 519.47 L543.55 519.77 L543.72 520.07 L543.9 520.36 L544.08 520.65 L544.25 520.94 L544.43 521.22 L544.6 521.5 L544.78 521.78 L544.96 522.05 L545.13 522.32 L545.31 522.58 L545.48 522.84 L545.66 523.1 L545.84 523.35 L546.01 523.6 L546.19 523.85 L546.36 524.09 L546.54 524.33 L546.72 524.57 L546.89 524.8 L547.07 525.03 L547.24 525.25 L547.42 525.47 L547.6 525.69 L547.77 525.91 L547.95 526.12 L548.12 526.33 L548.3 526.53 L548.48 526.73 L548.65 526.93 L548.83 527.13 L549 527.32 L549.18 527.51 L549.36 527.69 L549.53 527.87 L549.71 528.05 L549.88 528.23 L550.06 528.4 L550.24 528.57 L550.41 528.74 L550.59 528.91 L550.76 529.07 L550.94 529.23 L551.12 529.38 L551.29 529.53 L551.47 529.69 L551.64 529.83 L551.82 529.98 L552 530.12 L552.17 530.26 L552.35 530.4 L552.52 530.53 L552.7 530.66 L552.88 530.79 L553.05 530.92 L553.23 531.04 L553.4 531.16 L553.58 531.28 L553.76 531.4 L553.93 531.52 L554.11 531.63 L554.28 531.74 L554.46 531.85 L554.64 531.95 L554.81 532.06 L554.99 532.16 L555.16 532.26 L555.34 532.36 L555.52 532.45 L555.69 532.54 L555.87 532.64 L556.04 532.73 L556.22 532.81 L556.4 532.9 L556.57 532.98 L556.75 533.07 L556.92 533.15 L557.1 533.22 L557.28 533.3 L557.45 533.38 L557.63 533.45 L557.8 533.52 L557.98 533.59 L558.16 533.66 L558.33 533.73 L558.51 533.79 L558.68 533.86 L558.86 533.92 L559.04 533.98 L559.21 534.04 L559.39 534.1 L559.56 534.16 L559.74 534.21 L559.92 534.27 L560.09 534.32 L560.27 534.37 L560.44 534.42 L560.62 534.47 L560.8 534.52 L560.97 534.57 L561.15 534.61 L561.32 534.66 L561.5 534.7 L561.68 534.74 L561.85 534.78 L562.03 534.82 L562.2 534.86 L562.38 534.9 L562.56 534.94 L562.73 534.98 L562.91 535.01 L563.08 535.05 L563.26 535.08 L563.44 535.11 L563.61 535.14 L563.79 535.18 L563.96 535.21 L564.14 535.24 L564.32 535.26 L564.49 535.29 L564.67 535.32 L564.84 535.35 L565.02 535.37 L565.2 535.4 L565.37 535.42 L565.55 535.44 L565.72 535.47 L565.9 535.49 L566.08 535.51 L566.25 535.53 L566.43 535.55 L566.6 535.57 L566.78 535.59 L566.96 535.61 L567.13 535.63 L567.31 535.65 L567.48 535.67 L567.66 535.68 L567.84 535.7 L568.01 535.72 L568.19 535.73 L568.36 535.75 L568.54 535.76 L568.72 535.77 L568.89 535.79 L569.07 535.8 L569.24 535.82 L569.42 535.83 L569.6 535.84 L569.77 535.85 L569.77 536.2 L454.32 536.2 Z" fill="#fb0000" stroke="#1a1a1a" stroke-width="0.7" stroke-linejoin="round"/>
<clipPath id="sc4"><path d="M412.6 535.86 L412.78 535.81 L412.96 535.76 L413.13 535.71 L413.31 535.66 L413.48 535.6 L413.66 535.54 L413.84 535.48 L414.01 535.42 L414.19 535.35 L414.36 535.29 L414.54 535.21 L414.72 535.14 L414.89 535.06 L415.07 534.98 L415.24 534.9 L415.42 534.82 L415.6 534.73 L415.77 534.64 L415.95 534.54 L416.12 534.45 L416.3 534.35 L416.48 534.24 L416.65 534.14 L416.83 534.03 L417 533.92 L417.18 533.81 L417.36 533.7 L417.53 533.59 L417.71 533.47 L417.88 533.36 L418.06 533.24 L418.24 533.12 L418.41 533 L418.59 532.88 L418.76 532.76 L418.94 532.64 L419.12 532.52 L419.29 532.4 L419.47 532.28 L419.64 532.15 L419.82 532.02 L420 531.9 L420.17 531.77 L420.35 531.63 L420.52 531.5 L420.7 531.37 L420.88 531.23 L421.05 531.09 L421.23 530.95 L421.4 530.81 L421.58 530.66 L421.76 530.52 L421.93 530.37 L422.11 530.22 L422.28 530.07 L422.46 529.92 L422.64 529.77 L422.81 529.62 L422.99 529.46 L423.16 529.31 L423.34 529.15 L423.52 529 L423.69 528.84 L423.87 528.69 L424.04 528.53 L424.22 528.38 L424.4 528.22 L424.57 528.07 L424.75 527.91 L424.92 527.76 L425.1 527.6 L425.28 527.45 L425.45 527.3 L425.63 527.14 L425.8 526.99 L425.98 526.84 L426.16 526.69 L426.33 526.53 L426.51 526.38 L426.68 526.23 L426.86 526.08 L427.04 525.94 L427.21 525.79 L427.39 525.64 L427.56 525.49 L427.74 525.34 L427.92 525.2 L428.09 525.05 L428.27 524.9 L428.44 524.76 L428.62 524.61 L428.8 524.47 L428.97 524.32 L429.15 524.18 L429.32 524.03 L429.5 523.89 L429.68 523.75 L429.85 523.61 L430.03 523.47 L430.2 523.34 L430.38 523.2 L430.56 523.07 L430.73 522.94 L430.91 522.81 L431.08 522.68 L431.26 522.55 L431.44 522.43 L431.61 522.31 L431.79 522.19 L431.96 522.08 L432.14 521.96 L432.32 521.85 L432.49 521.74 L432.67 521.63 L432.84 521.53 L433.02 521.42 L433.2 521.31 L433.37 521.21 L433.55 521.11 L433.72 521.01 L433.9 520.9 L434.08 520.8 L434.25 520.7 L434.43 520.61 L434.6 520.51 L434.78 520.41 L434.96 520.32 L435.13 520.22 L435.31 520.13 L435.48 520.04 L435.66 519.95 L435.84 519.87 L436.01 519.79 L436.19 519.71 L436.36 519.63 L436.54 519.55 L436.72 519.48 L436.89 519.41 L437.07 519.34 L437.24 519.28 L437.42 519.21 L437.6 519.15 L437.77 519.1 L437.95 519.04 L438.12 518.99 L438.3 518.93 L438.48 518.88 L438.65 518.83 L438.83 518.78 L439 518.73 L439.18 518.68 L439.36 518.64 L439.53 518.59 L439.71 518.55 L439.88 518.5 L440.06 518.46 L440.24 518.41 L440.41 518.37 L440.59 518.33 L440.76 518.29 L440.94 518.26 L441.12 518.22 L441.29 518.18 L441.47 518.15 L441.64 518.12 L441.82 518.09 L442 518.06 L442.17 518.03 L442.35 518.01 L442.52 517.98 L442.7 517.96 L442.88 517.94 L443.05 517.92 L443.23 517.9 L443.4 517.88 L443.58 517.86 L443.76 517.85 L443.93 517.83 L444.11 517.82 L444.28 517.8 L444.46 517.78 L444.64 517.77 L444.81 517.76 L444.99 517.74 L445.16 517.73 L445.34 517.71 L445.52 517.7 L445.69 517.69 L445.87 517.68 L446.04 517.66 L446.22 517.65 L446.4 517.64 L446.57 517.63 L446.75 517.62 L446.92 517.62 L447.1 517.61 L447.28 517.6 L447.45 517.59 L447.63 517.59 L447.8 517.58 L447.98 517.58 L448.16 517.58 L448.33 517.57 L448.51 517.57 L448.68 517.57 L448.86 517.57 L449.04 517.57 L449.21 517.56 L449.39 517.56 L449.56 517.56 L449.74 517.56 L449.92 517.56 L450.09 517.56 L450.27 517.56 L450.44 517.56 L450.62 517.56 L450.8 517.56 L450.97 517.56 L451.15 517.56 L451.32 517.56 L451.5 517.56 L451.68 517.56 L451.85 517.56 L452.03 517.56 L452.2 517.56 L452.38 517.56 L452.56 517.56 L452.73 517.56 L452.91 517.56 L453.08 517.56 L453.26 517.56 L453.44 517.56 L453.61 517.56 L453.79 517.56 L453.96 517.56 L454.14 517.56 L454.32 517.56 L454.49 517.56 L454.67 517.56 L454.84 517.56 L455.02 517.56 L455.2 517.56 L455.37 517.56 L455.55 517.56 L455.72 517.56 L455.9 517.56 L456.08 517.56 L456.25 517.56 L456.43 517.56 L456.6 517.56 L456.78 517.56 L456.96 517.56 L457.13 517.56 L457.31 517.56 L457.48 517.56 L457.66 517.56 L457.84 517.56 L458.01 517.56 L458.19 517.56 L458.36 517.56 L458.54 517.56 L458.72 517.56 L458.89 517.56 L459.07 517.56 L459.24 517.56 L459.42 517.56 L459.6 517.56 L459.77 517.56 L459.95 517.56 L460.12 517.56 L460.3 517.56 L460.48 517.56 L460.65 517.56 L460.83 517.56 L461 517.56 L461.18 517.56 L461.36 517.56 L461.53 517.56 L461.71 517.56 L461.88 517.56 L462.06 517.56 L462.24 517.56 L462.41 517.56 L462.59 517.56 L462.76 517.56 L462.94 517.56 L463.12 517.56 L463.29 517.56 L463.47 517.56 L463.64 517.56 L463.82 517.56 L464 517.56 L464.17 517.56 L464.35 517.56 L464.52 517.56 L464.7 517.56 L464.88 517.56 L465.05 517.56 L465.23 517.56 L465.4 517.56 L465.58 517.56 L465.76 517.56 L465.93 517.56 L466.11 517.56 L466.28 517.56 L466.46 517.56 L466.64 517.56 L466.81 517.56 L466.99 517.56 L467.16 517.56 L467.34 517.56 L467.52 517.56 L467.69 517.56 L467.87 517.56 L468.04 517.56 L468.22 517.56 L468.4 517.56 L468.57 517.56 L468.75 517.56 L468.92 517.56 L469.1 517.56 L469.28 517.56 L469.45 517.56 L469.63 517.56 L469.8 517.56 L469.98 517.56 L470.16 517.56 L470.33 517.56 L470.51 517.56 L470.68 517.56 L470.86 517.56 L471.04 517.56 L471.21 517.56 L471.39 517.56 L471.56 517.56 L471.74 517.56 L471.92 517.56 L472.09 517.56 L472.27 517.56 L472.44 517.56 L472.62 517.56 L472.8 517.56 L472.97 517.56 L473.15 517.56 L473.32 517.56 L473.5 517.56 L473.68 517.56 L473.85 517.56 L474.03 517.56 L474.2 517.56 L474.38 517.56 L474.56 517.56 L474.73 517.56 L474.91 517.56 L475.08 517.56 L475.26 517.56 L475.44 517.56 L475.61 517.56 L475.79 517.56 L475.96 517.56 L476.14 517.56 L476.32 517.56 L476.49 517.56 L476.67 517.56 L476.84 517.56 L477.02 517.56 L477.2 517.56 L477.37 517.56 L477.55 517.56 L477.72 517.56 L477.9 517.56 L478.08 517.56 L478.25 517.56 L478.43 517.56 L478.6 517.56 L478.78 517.56 L478.96 517.56 L479.13 517.56 L479.31 517.56 L479.48 517.56 L479.66 517.56 L479.84 517.56 L480.01 517.56 L480.19 517.56 L480.36 517.56 L480.54 517.56 L480.72 517.56 L480.89 517.56 L481.07 517.56 L481.24 517.56 L481.42 517.56 L481.6 517.56 L481.77 517.56 L481.95 517.56 L482.12 517.56 L482.3 517.56 L482.48 517.56 L482.65 517.56 L482.83 517.56 L483 517.56 L483.18 517.56 L483.36 517.57 L483.53 517.57 L483.71 517.57 L483.88 517.57 L484.06 517.57 L484.24 517.57 L484.41 517.58 L484.59 517.58 L484.76 517.58 L484.94 517.59 L485.12 517.59 L485.29 517.59 L485.47 517.6 L485.64 517.61 L485.82 517.61 L486 517.62 L486.17 517.63 L486.35 517.63 L486.52 517.64 L486.7 517.65 L486.88 517.66 L487.05 517.67 L487.23 517.68 L487.4 517.7 L487.58 517.71 L487.76 517.73 L487.93 517.74 L488.11 517.76 L488.28 517.78 L488.46 517.8 L488.64 517.82 L488.81 517.85 L488.99 517.87 L489.16 517.9 L489.34 517.93 L489.52 517.95 L489.69 517.98 L489.87 518.01 L490.04 518.05 L490.22 518.08 L490.4 518.11 L490.57 518.14 L490.75 518.18 L490.92 518.21 L491.1 518.25 L491.28 518.28 L491.45 518.32 L491.63 518.36 L491.8 518.39 L491.98 518.43 L492.16 518.47 L492.33 518.5 L492.51 518.54 L492.68 518.58 L492.86 518.62 L493.04 518.66 L493.21 518.71 L493.39 518.75 L493.56 518.79 L493.74 518.84 L493.92 518.88 L494.09 518.93 L494.27 518.98 L494.44 519.03 L494.62 519.08 L494.8 519.13 L494.97 519.18 L495.15 519.23 L495.32 519.28 L495.5 519.34 L495.68 519.39 L495.85 519.45 L496.03 519.5 L496.2 519.55 L496.38 519.61 L496.56 519.67 L496.73 519.72 L496.91 519.78 L497.08 519.83 L497.26 519.89 L497.44 519.95 L497.61 520 L497.79 520.06 L497.96 520.12 L498.14 520.18 L498.32 520.23 L498.49 520.29 L498.67 520.35 L498.84 520.41 L499.02 520.47 L499.2 520.53 L499.37 520.59 L499.55 520.66 L499.72 520.72 L499.9 520.78 L500.08 520.85 L500.25 520.91 L500.43 520.97 L500.6 521.04 L500.78 521.1 L500.96 521.17 L501.13 521.23 L501.31 521.3 L501.48 521.36 L501.66 521.43 L501.84 521.49 L502.01 521.56 L502.19 521.62 L502.36 521.69 L502.54 521.75 L502.72 521.82 L502.89 521.88 L503.07 521.95 L503.24 522.01 L503.42 522.08 L503.6 522.14 L503.77 522.2 L503.95 522.27 L504.12 522.33 L504.3 522.39 L504.48 522.46 L504.65 522.52 L504.83 522.58 L505 522.64 L505.18 522.71 L505.36 522.77 L505.53 522.83 L505.71 522.89 L505.88 522.95 L506.06 523.01 L506.24 523.08 L506.41 523.14 L506.59 523.2 L506.76 523.26 L506.94 523.32 L507.12 523.38 L507.29 523.44 L507.47 523.5 L507.64 523.56 L507.82 523.62 L508 523.68 L508.17 523.74 L508.35 523.8 L508.52 523.87 L508.7 523.93 L508.88 523.99 L509.05 524.05 L509.23 524.11 L509.4 524.17 L509.58 524.23 L509.76 524.29 L509.93 524.35 L510.11 524.41 L510.28 524.47 L510.46 524.53 L510.64 524.59 L510.81 524.65 L510.99 524.71 L511.16 524.77 L511.34 524.84 L511.52 524.9 L511.69 524.96 L511.87 525.02 L512.04 525.08 L512.22 525.14 L512.4 525.2 L512.57 525.26 L512.75 525.32 L512.92 525.38 L513.1 525.45 L513.28 525.51 L513.45 525.57 L513.63 525.63 L513.8 525.69 L513.98 525.76 L514.16 525.82 L514.33 525.88 L514.51 525.95 L514.68 526.01 L514.86 526.08 L515.04 526.15 L515.21 526.21 L515.39 526.28 L515.56 526.35 L515.74 526.41 L515.92 526.48 L516.09 526.55 L516.27 526.62 L516.44 526.69 L516.62 526.76 L516.8 526.83 L516.97 526.9 L517.15 526.97 L517.32 527.04 L517.5 527.11 L517.68 527.18 L517.85 527.25 L518.03 527.32 L518.2 527.39 L518.38 527.46 L518.56 527.53 L518.73 527.6 L518.91 527.67 L519.08 527.74 L519.26 527.82 L519.44 527.89 L519.61 527.96 L519.79 528.03 L519.96 528.1 L520.14 528.17 L520.32 528.24 L520.49 528.31 L520.67 528.38 L520.84 528.45 L521.02 528.52 L521.2 528.59 L521.37 528.66 L521.55 528.73 L521.72 528.8 L521.9 528.88 L522.08 528.95 L522.25 529.02 L522.43 529.09 L522.6 529.16 L522.78 529.23 L522.96 529.3 L523.13 529.37 L523.31 529.44 L523.48 529.51 L523.66 529.57 L523.84 529.64 L524.01 529.71 L524.19 529.78 L524.36 529.84 L524.54 529.91 L524.72 529.98 L524.89 530.04 L525.07 530.1 L525.24 530.16 L525.42 530.23 L525.6 530.29 L525.77 530.35 L525.95 530.4 L526.12 530.46 L526.3 530.52 L526.48 530.57 L526.65 530.63 L526.83 530.68 L527 530.73 L527.18 530.79 L527.36 530.84 L527.53 530.89 L527.71 530.94 L527.88 530.99 L528.06 531.05 L528.24 531.1 L528.41 531.15 L528.59 531.2 L528.76 531.25 L528.94 531.3 L529.12 531.35 L529.29 531.4 L529.47 531.45 L529.64 531.51 L529.82 531.56 L530 531.61 L530.17 531.66 L530.35 531.71 L530.52 531.76 L530.7 531.81 L530.88 531.87 L531.05 531.92 L531.23 531.97 L531.4 532.02 L531.58 532.07 L531.76 532.13 L531.93 532.18 L532.11 532.23 L532.28 532.28 L532.46 532.34 L532.64 532.39 L532.81 532.44 L532.99 532.49 L533.16 532.55 L533.34 532.6 L533.52 532.65 L533.69 532.71 L533.87 532.76 L534.04 532.81 L534.22 532.86 L534.4 532.91 L534.57 532.96 L534.75 533.01 L534.92 533.07 L535.1 533.12 L535.28 533.16 L535.45 533.21 L535.63 533.26 L535.8 533.31 L535.98 533.36 L536.16 533.4 L536.33 533.45 L536.51 533.49 L536.68 533.54 L536.86 533.58 L537.04 533.63 L537.21 533.67 L537.39 533.71 L537.56 533.75 L537.74 533.8 L537.92 533.84 L538.09 533.88 L538.27 533.92 L538.44 533.96 L538.62 534 L538.8 534.04 L538.97 534.08 L539.15 534.12 L539.32 534.16 L539.5 534.2 L539.68 534.24 L539.85 534.28 L540.03 534.32 L540.2 534.35 L540.38 534.39 L540.56 534.43 L540.73 534.46 L540.91 534.5 L541.08 534.53 L541.26 534.57 L541.44 534.6 L541.61 534.64 L541.79 534.67 L541.96 534.7 L542.14 534.73 L542.32 534.76 L542.49 534.79 L542.67 534.82 L542.84 534.85 L543.02 534.88 L543.2 534.91 L543.37 534.94 L543.55 534.97 L543.72 535 L543.9 535.02 L544.08 535.05 L544.25 535.08 L544.43 535.11 L544.6 535.13 L544.78 535.16 L544.96 535.19 L545.13 535.21 L545.31 535.24 L545.48 535.27 L545.66 535.29 L545.84 535.32 L546.01 535.34 L546.19 535.37 L546.36 535.39 L546.54 535.41 L546.72 535.44 L546.89 535.46 L547.07 535.48 L547.24 535.5 L547.42 535.53 L547.6 535.55 L547.77 535.57 L547.95 535.59 L548.12 535.61 L548.3 535.63 L548.48 535.65 L548.65 535.67 L548.83 535.69 L549 535.71 L549.18 535.73 L549.36 535.74 L549.53 535.76 L549.71 535.78 L549.88 535.8 L550.06 535.82 L550.24 535.84 L550.41 535.86 L550.41 536.2 L412.6 536.2 Z"/></clipPath>
<path clip-path="url(#sc4)" d="M389.76 515.56 l20.64 20.64 M392.8 515.56 l20.64 20.64 M395.84 515.56 l20.64 20.64 M398.88 515.56 l20.64 20.64 M401.92 515.56 l20.64 20.64 M404.96 515.56 l20.64 20.64 M408 515.56 l20.64 20.64 M411.04 515.56 l20.64 20.64 M414.08 515.56 l20.64 20.64 M417.12 515.56 l20.64 20.64 M420.16 515.56 l20.64 20.64 M423.2 515.56 l20.64 20.64 M426.24 515.56 l20.64 20.64 M429.28 515.56 l20.64 20.64 M432.32 515.56 l20.64 20.64 M435.36 515.56 l20.64 20.64 M438.4 515.56 l20.64 20.64 M441.44 515.56 l20.64 20.64 M444.48 515.56 l20.64 20.64 M447.52 515.56 l20.64 20.64 M450.56 515.56 l20.64 20.64 M453.6 515.56 l20.64 20.64 M456.64 515.56 l20.64 20.64 M459.68 515.56 l20.64 20.64 M462.72 515.56 l20.64 20.64 M465.76 515.56 l20.64 20.64 M468.8 515.56 l20.64 20.64 M471.84 515.56 l20.64 20.64 M474.88 515.56 l20.64 20.64 M477.92 515.56 l20.64 20.64 M480.96 515.56 l20.64 20.64 M484 515.56 l20.64 20.64 M487.04 515.56 l20.64 20.64 M490.08 515.56 l20.64 20.64 M493.12 515.56 l20.64 20.64 M496.16 515.56 l20.64 20.64 M499.2 515.56 l20.64 20.64 M502.24 515.56 l20.64 20.64 M505.28 515.56 l20.64 20.64 M508.32 515.56 l20.64 20.64 M511.36 515.56 l20.64 20.64 M514.4 515.56 l20.64 20.64 M517.44 515.56 l20.64 20.64 M520.48 515.56 l20.64 20.64 M523.52 515.56 l20.64 20.64 M526.56 515.56 l20.64 20.64 M529.6 515.56 l20.64 20.64 M532.64 515.56 l20.64 20.64 M535.68 515.56 l20.64 20.64 M538.72 515.56 l20.64 20.64 M541.76 515.56 l20.64 20.64 M544.8 515.56 l20.64 20.64 M547.84 515.56 l20.64 20.64 M550.88 515.56 l20.64 20.64" stroke="#4a4aff" stroke-width="0.92" fill="none"/>
<g clip-path="url(#sc4)" fill="#fb0000" fill-opacity="0.33">
<path d="M392.72 535.85 L393.07 535.8 L393.42 535.75 L393.77 535.69 L394.12 535.62 L394.48 535.54 L394.83 535.46 L395.18 535.37 L395.53 535.26 L395.88 535.15 L396.24 535.02 L396.59 534.87 L396.94 534.72 L397.29 534.54 L397.64 534.35 L398 534.14 L398.35 533.9 L398.7 533.64 L399.05 533.36 L399.4 533.05 L399.76 532.71 L400.11 532.34 L400.46 531.94 L400.81 531.5 L401.16 531.02 L401.52 530.5 L401.87 529.93 L402.22 529.32 L402.57 528.66 L402.92 527.95 L403.28 527.17 L403.63 526.34 L403.98 525.45 L404.33 524.49 L404.68 523.47 L405.04 522.37 L405.39 521.19 L405.74 519.94 L406.09 518.61 L406.44 517.19 L406.8 515.68 L407.15 514.08 L407.5 512.39 L407.85 510.6 L408.2 508.72 L408.56 506.73 L408.91 504.64 L409.26 502.44 L409.61 500.15 L409.96 497.74 L410.32 495.23 L410.67 492.6 L411.02 489.88 L411.37 487.04 L411.72 484.1 L412.08 481.05 L412.43 477.9 L412.78 474.66 L413.13 471.31 L413.48 467.87 L413.84 464.35 L414.19 460.74 L414.54 457.05 L414.89 453.29 L415.24 449.46 L415.6 445.58 L415.95 441.64 L416.3 437.66 L416.65 433.64 L417 429.6 L417.36 425.55 L417.71 421.49 L418.06 417.43 L418.41 413.4 L418.76 409.38 L419.12 405.41 L419.47 401.49 L419.82 397.63 L420.17 393.85 L420.52 390.15 L420.88 386.55 L421.23 383.06 L421.58 379.69 L421.93 376.46 L422.28 373.37 L422.64 370.44 L422.99 367.67 L423.34 365.08 L423.69 362.67 L424.04 360.46 L424.4 358.45 L424.75 356.65 L425.1 355.07 L425.45 353.72 L425.8 352.59 L426.16 351.69 L426.51 351.03 L426.86 350.61 L427.21 350.43 L427.56 350.49 L427.92 350.79 L428.27 351.33 L428.62 352.11 L428.97 353.12 L429.32 354.37 L429.68 355.84 L430.03 357.53 L430.38 359.43 L430.73 361.54 L431.08 363.85 L431.44 366.35 L431.79 369.03 L432.14 371.88 L432.49 374.89 L432.84 378.06 L433.2 381.36 L433.55 384.79 L433.9 388.34 L434.25 391.99 L434.6 395.73 L434.96 399.55 L435.31 403.44 L435.66 407.39 L436.01 411.39 L436.36 415.41 L436.72 419.46 L437.07 423.52 L437.42 427.58 L437.77 431.63 L438.12 435.65 L438.48 439.65 L438.83 443.61 L439.18 447.53 L439.53 451.38 L439.88 455.18 L440.24 458.9 L440.59 462.55 L440.94 466.12 L441.29 469.6 L441.64 473 L442 476.29 L442.35 479.49 L442.7 482.59 L443.05 485.58 L443.4 488.47 L443.76 491.25 L444.11 493.93 L444.46 496.5 L444.81 498.96 L445.16 501.31 L445.52 503.55 L445.87 505.7 L446.22 507.73 L446.57 509.67 L446.92 511.51 L447.28 513.25 L447.63 514.89 L447.98 516.44 L448.33 517.91 L448.68 519.28 L449.04 520.58 L449.39 521.79 L449.74 522.93 L450.09 523.99 L450.44 524.98 L450.8 525.91 L451.15 526.77 L451.5 527.57 L451.85 528.31 L452.2 529 L452.56 529.63 L452.91 530.22 L453.26 530.76 L453.61 531.26 L453.96 531.72 L454.32 532.15 L454.67 532.53 L455.02 532.89 L455.37 533.21 L455.72 533.51 L456.08 533.78 L456.43 534.02 L456.78 534.25 L457.13 534.45 L457.48 534.63 L457.84 534.8 L458.19 534.95 L458.54 535.08 L458.89 535.21 L459.24 535.32 L459.6 535.41 L459.95 535.5 L460.3 535.58 L460.65 535.65 L461 535.72 L461.36 535.77 L461.71 535.82 L461.71 536.2 L392.72 536.2 Z"/>
<path d="M454.32 535.85 L454.67 535.83 L455.02 535.8 L455.37 535.77 L455.72 535.75 L456.08 535.72 L456.43 535.68 L456.78 535.65 L457.13 535.61 L457.48 535.57 L457.84 535.53 L458.19 535.49 L458.54 535.44 L458.89 535.4 L459.24 535.35 L459.6 535.29 L459.95 535.24 L460.3 535.18 L460.65 535.11 L461 535.05 L461.36 534.98 L461.71 534.9 L462.06 534.82 L462.41 534.74 L462.76 534.66 L463.12 534.57 L463.47 534.47 L463.82 534.37 L464.17 534.27 L464.52 534.16 L464.88 534.04 L465.23 533.92 L465.58 533.79 L465.93 533.66 L466.28 533.52 L466.64 533.38 L466.99 533.22 L467.34 533.07 L467.69 532.9 L468.04 532.73 L468.4 532.54 L468.75 532.36 L469.1 532.16 L469.45 531.95 L469.8 531.74 L470.16 531.52 L470.51 531.28 L470.86 531.04 L471.21 530.79 L471.56 530.53 L471.92 530.26 L472.27 529.98 L472.62 529.69 L472.97 529.38 L473.32 529.07 L473.68 528.74 L474.03 528.4 L474.38 528.05 L474.73 527.69 L475.08 527.32 L475.44 526.93 L475.79 526.53 L476.14 526.12 L476.49 525.69 L476.84 525.25 L477.2 524.8 L477.55 524.33 L477.9 523.85 L478.25 523.35 L478.6 522.84 L478.96 522.32 L479.31 521.78 L479.66 521.22 L480.01 520.65 L480.36 520.07 L480.72 519.47 L481.07 518.85 L481.42 518.22 L481.77 517.57 L482.12 516.91 L482.48 516.24 L482.83 515.54 L483.18 514.84 L483.53 514.11 L483.88 513.38 L484.24 512.62 L484.59 511.86 L484.94 511.07 L485.29 510.28 L485.64 509.46 L486 508.64 L486.35 507.8 L486.7 506.95 L487.05 506.08 L487.4 505.2 L487.76 504.31 L488.11 503.41 L488.46 502.49 L488.81 501.56 L489.16 500.62 L489.52 499.68 L489.87 498.72 L490.22 497.75 L490.57 496.77 L490.92 495.79 L491.28 494.79 L491.63 493.79 L491.98 492.78 L492.33 491.77 L492.68 490.75 L493.04 489.73 L493.39 488.71 L493.74 487.68 L494.09 486.65 L494.44 485.61 L494.8 484.58 L495.15 483.55 L495.5 482.52 L495.85 481.49 L496.2 480.47 L496.56 479.44 L496.91 478.43 L497.26 477.42 L497.61 476.41 L497.96 475.42 L498.32 474.43 L498.67 473.45 L499.02 472.48 L499.37 471.53 L499.72 470.58 L500.08 469.65 L500.43 468.74 L500.78 467.84 L501.13 466.95 L501.48 466.08 L501.84 465.23 L502.19 464.4 L502.54 463.59 L502.89 462.8 L503.24 462.04 L503.6 461.29 L503.95 460.57 L504.3 459.87 L504.65 459.2 L505 458.55 L505.36 457.93 L505.71 457.34 L506.06 456.77 L506.41 456.24 L506.76 455.73 L507.12 455.25 L507.47 454.8 L507.82 454.39 L508.17 454 L508.52 453.65 L508.88 453.33 L509.23 453.04 L509.58 452.79 L509.93 452.56 L510.28 452.38 L510.64 452.22 L510.99 452.1 L511.34 452.02 L511.69 451.96 L512.04 451.95 L512.4 451.96 L512.75 452.02 L513.1 452.1 L513.45 452.22 L513.8 452.38 L514.16 452.56 L514.51 452.79 L514.86 453.04 L515.21 453.33 L515.56 453.65 L515.92 454 L516.27 454.39 L516.62 454.8 L516.97 455.25 L517.32 455.73 L517.68 456.24 L518.03 456.77 L518.38 457.34 L518.73 457.93 L519.08 458.55 L519.44 459.2 L519.79 459.87 L520.14 460.57 L520.49 461.29 L520.84 462.04 L521.2 462.8 L521.55 463.59 L521.9 464.4 L522.25 465.23 L522.6 466.08 L522.96 466.95 L523.31 467.84 L523.66 468.74 L524.01 469.65 L524.36 470.58 L524.72 471.53 L525.07 472.48 L525.42 473.45 L525.77 474.43 L526.12 475.42 L526.48 476.41 L526.83 477.42 L527.18 478.43 L527.53 479.44 L527.88 480.47 L528.24 481.49 L528.59 482.52 L528.94 483.55 L529.29 484.58 L529.64 485.61 L530 486.65 L530.35 487.68 L530.7 488.71 L531.05 489.73 L531.4 490.75 L531.76 491.77 L532.11 492.78 L532.46 493.79 L532.81 494.79 L533.16 495.79 L533.52 496.77 L533.87 497.75 L534.22 498.72 L534.57 499.68 L534.92 500.62 L535.28 501.56 L535.63 502.49 L535.98 503.41 L536.33 504.31 L536.68 505.2 L537.04 506.08 L537.39 506.95 L537.74 507.8 L538.09 508.64 L538.44 509.46 L538.8 510.28 L539.15 511.07 L539.5 511.86 L539.85 512.62 L540.2 513.38 L540.56 514.11 L540.91 514.84 L541.26 515.54 L541.61 516.24 L541.96 516.91 L542.32 517.57 L542.67 518.22 L543.02 518.85 L543.37 519.47 L543.72 520.07 L544.08 520.65 L544.43 521.22 L544.78 521.78 L545.13 522.32 L545.48 522.84 L545.84 523.35 L546.19 523.85 L546.54 524.33 L546.89 524.8 L547.24 525.25 L547.6 525.69 L547.95 526.12 L548.3 526.53 L548.65 526.93 L549 527.32 L549.36 527.69 L549.71 528.05 L550.06 528.4 L550.41 528.74 L550.76 529.07 L551.12 529.38 L551.47 529.69 L551.82 529.98 L552.17 530.26 L552.52 530.53 L552.88 530.79 L553.23 531.04 L553.58 531.28 L553.93 531.52 L554.28 531.74 L554.64 531.95 L554.99 532.16 L555.34 532.36 L555.69 532.54 L556.04 532.73 L556.4 532.9 L556.75 533.07 L557.1 533.22 L557.45 533.38 L557.8 533.52 L558.16 533.66 L558.51 533.79 L558.86 533.92 L559.21 534.04 L559.56 534.16 L559.92 534.27 L560.27 534.37 L560.62 534.47 L560.97 534.57 L561.32 534.66 L561.68 534.74 L562.03 534.82 L562.38 534.9 L562.73 534.98 L563.08 535.05 L563.44 535.11 L563.79 535.18 L564.14 535.24 L564.49 535.29 L564.84 535.35 L565.2 535.4 L565.55 535.44 L565.9 535.49 L566.25 535.53 L566.6 535.57 L566.96 535.61 L567.31 535.65 L567.66 535.68 L568.01 535.72 L568.36 535.75 L568.72 535.77 L569.07 535.8 L569.42 535.83 L569.77 535.85 L569.77 536.2 L454.32 536.2 Z"/>
</g>
<path d="M412.6 535.86 L412.78 535.81 L412.96 535.76 L413.13 535.71 L413.31 535.66 L413.48 535.6 L413.66 535.54 L413.84 535.48 L414.01 535.42 L414.19 535.35 L414.36 535.29 L414.54 535.21 L414.72 535.14 L414.89 535.06 L415.07 534.98 L415.24 534.9 L415.42 534.82 L415.6 534.73 L415.77 534.64 L415.95 534.54 L416.12 534.45 L416.3 534.35 L416.48 534.24 L416.65 534.14 L416.83 534.03 L417 533.92 L417.18 533.81 L417.36 533.7 L417.53 533.59 L417.71 533.47 L417.88 533.36 L418.06 533.24 L418.24 533.12 L418.41 533 L418.59 532.88 L418.76 532.76 L418.94 532.64 L419.12 532.52 L419.29 532.4 L419.47 532.28 L419.64 532.15 L419.82 532.02 L420 531.9 L420.17 531.77 L420.35 531.63 L420.52 531.5 L420.7 531.37 L420.88 531.23 L421.05 531.09 L421.23 530.95 L421.4 530.81 L421.58 530.66 L421.76 530.52 L421.93 530.37 L422.11 530.22 L422.28 530.07 L422.46 529.92 L422.64 529.77 L422.81 529.62 L422.99 529.46 L423.16 529.31 L423.34 529.15 L423.52 529 L423.69 528.84 L423.87 528.69 L424.04 528.53 L424.22 528.38 L424.4 528.22 L424.57 528.07 L424.75 527.91 L424.92 527.76 L425.1 527.6 L425.28 527.45 L425.45 527.3 L425.63 527.14 L425.8 526.99 L425.98 526.84 L426.16 526.69 L426.33 526.53 L426.51 526.38 L426.68 526.23 L426.86 526.08 L427.04 525.94 L427.21 525.79 L427.39 525.64 L427.56 525.49 L427.74 525.34 L427.92 525.2 L428.09 525.05 L428.27 524.9 L428.44 524.76 L428.62 524.61 L428.8 524.47 L428.97 524.32 L429.15 524.18 L429.32 524.03 L429.5 523.89 L429.68 523.75 L429.85 523.61 L430.03 523.47 L430.2 523.34 L430.38 523.2 L430.56 523.07 L430.73 522.94 L430.91 522.81 L431.08 522.68 L431.26 522.55 L431.44 522.43 L431.61 522.31 L431.79 522.19 L431.96 522.08 L432.14 521.96 L432.32 521.85 L432.49 521.74 L432.67 521.63 L432.84 521.53 L433.02 521.42 L433.2 521.31 L433.37 521.21 L433.55 521.11 L433.72 521.01 L433.9 520.9 L434.08 520.8 L434.25 520.7 L434.43 520.61 L434.6 520.51 L434.78 520.41 L434.96 520.32 L435.13 520.22 L435.31 520.13 L435.48 520.04 L435.66 519.95 L435.84 519.87 L436.01 519.79 L436.19 519.71 L436.36 519.63 L436.54 519.55 L436.72 519.48 L436.89 519.41 L437.07 519.34 L437.24 519.28 L437.42 519.21 L437.6 519.15 L437.77 519.1 L437.95 519.04 L438.12 518.99 L438.3 518.93 L438.48 518.88 L438.65 518.83 L438.83 518.78 L439 518.73 L439.18 518.68 L439.36 518.64 L439.53 518.59 L439.71 518.55 L439.88 518.5 L440.06 518.46 L440.24 518.41 L440.41 518.37 L440.59 518.33 L440.76 518.29 L440.94 518.26 L441.12 518.22 L441.29 518.18 L441.47 518.15 L441.64 518.12 L441.82 518.09 L442 518.06 L442.17 518.03 L442.35 518.01 L442.52 517.98 L442.7 517.96 L442.88 517.94 L443.05 517.92 L443.23 517.9 L443.4 517.88 L443.58 517.86 L443.76 517.85 L443.93 517.83 L444.11 517.82 L444.28 517.8 L444.46 517.78 L444.64 517.77 L444.81 517.76 L444.99 517.74 L445.16 517.73 L445.34 517.71 L445.52 517.7 L445.69 517.69 L445.87 517.68 L446.04 517.66 L446.22 517.65 L446.4 517.64 L446.57 517.63 L446.75 517.62 L446.92 517.62 L447.1 517.61 L447.28 517.6 L447.45 517.59 L447.63 517.59 L447.8 517.58 L447.98 517.58 L448.16 517.58 L448.33 517.57 L448.51 517.57 L448.68 517.57 L448.86 517.57 L449.04 517.57 L449.21 517.56 L449.39 517.56 L449.56 517.56 L449.74 517.56 L449.92 517.56 L450.09 517.56 L450.27 517.56 L450.44 517.56 L450.62 517.56 L450.8 517.56 L450.97 517.56 L451.15 517.56 L451.32 517.56 L451.5 517.56 L451.68 517.56 L451.85 517.56 L452.03 517.56 L452.2 517.56 L452.38 517.56 L452.56 517.56 L452.73 517.56 L452.91 517.56 L453.08 517.56 L453.26 517.56 L453.44 517.56 L453.61 517.56 L453.79 517.56 L453.96 517.56 L454.14 517.56 L454.32 517.56 L454.49 517.56 L454.67 517.56 L454.84 517.56 L455.02 517.56 L455.2 517.56 L455.37 517.56 L455.55 517.56 L455.72 517.56 L455.9 517.56 L456.08 517.56 L456.25 517.56 L456.43 517.56 L456.6 517.56 L456.78 517.56 L456.96 517.56 L457.13 517.56 L457.31 517.56 L457.48 517.56 L457.66 517.56 L457.84 517.56 L458.01 517.56 L458.19 517.56 L458.36 517.56 L458.54 517.56 L458.72 517.56 L458.89 517.56 L459.07 517.56 L459.24 517.56 L459.42 517.56 L459.6 517.56 L459.77 517.56 L459.95 517.56 L460.12 517.56 L460.3 517.56 L460.48 517.56 L460.65 517.56 L460.83 517.56 L461 517.56 L461.18 517.56 L461.36 517.56 L461.53 517.56 L461.71 517.56 L461.88 517.56 L462.06 517.56 L462.24 517.56 L462.41 517.56 L462.59 517.56 L462.76 517.56 L462.94 517.56 L463.12 517.56 L463.29 517.56 L463.47 517.56 L463.64 517.56 L463.82 517.56 L464 517.56 L464.17 517.56 L464.35 517.56 L464.52 517.56 L464.7 517.56 L464.88 517.56 L465.05 517.56 L465.23 517.56 L465.4 517.56 L465.58 517.56 L465.76 517.56 L465.93 517.56 L466.11 517.56 L466.28 517.56 L466.46 517.56 L466.64 517.56 L466.81 517.56 L466.99 517.56 L467.16 517.56 L467.34 517.56 L467.52 517.56 L467.69 517.56 L467.87 517.56 L468.04 517.56 L468.22 517.56 L468.4 517.56 L468.57 517.56 L468.75 517.56 L468.92 517.56 L469.1 517.56 L469.28 517.56 L469.45 517.56 L469.63 517.56 L469.8 517.56 L469.98 517.56 L470.16 517.56 L470.33 517.56 L470.51 517.56 L470.68 517.56 L470.86 517.56 L471.04 517.56 L471.21 517.56 L471.39 517.56 L471.56 517.56 L471.74 517.56 L471.92 517.56 L472.09 517.56 L472.27 517.56 L472.44 517.56 L472.62 517.56 L472.8 517.56 L472.97 517.56 L473.15 517.56 L473.32 517.56 L473.5 517.56 L473.68 517.56 L473.85 517.56 L474.03 517.56 L474.2 517.56 L474.38 517.56 L474.56 517.56 L474.73 517.56 L474.91 517.56 L475.08 517.56 L475.26 517.56 L475.44 517.56 L475.61 517.56 L475.79 517.56 L475.96 517.56 L476.14 517.56 L476.32 517.56 L476.49 517.56 L476.67 517.56 L476.84 517.56 L477.02 517.56 L477.2 517.56 L477.37 517.56 L477.55 517.56 L477.72 517.56 L477.9 517.56 L478.08 517.56 L478.25 517.56 L478.43 517.56 L478.6 517.56 L478.78 517.56 L478.96 517.56 L479.13 517.56 L479.31 517.56 L479.48 517.56 L479.66 517.56 L479.84 517.56 L480.01 517.56 L480.19 517.56 L480.36 517.56 L480.54 517.56 L480.72 517.56 L480.89 517.56 L481.07 517.56 L481.24 517.56 L481.42 517.56 L481.6 517.56 L481.77 517.56 L481.95 517.56 L482.12 517.56 L482.3 517.56 L482.48 517.56 L482.65 517.56 L482.83 517.56 L483 517.56 L483.18 517.56 L483.36 517.57 L483.53 517.57 L483.71 517.57 L483.88 517.57 L484.06 517.57 L484.24 517.57 L484.41 517.58 L484.59 517.58 L484.76 517.58 L484.94 517.59 L485.12 517.59 L485.29 517.59 L485.47 517.6 L485.64 517.61 L485.82 517.61 L486 517.62 L486.17 517.63 L486.35 517.63 L486.52 517.64 L486.7 517.65 L486.88 517.66 L487.05 517.67 L487.23 517.68 L487.4 517.7 L487.58 517.71 L487.76 517.73 L487.93 517.74 L488.11 517.76 L488.28 517.78 L488.46 517.8 L488.64 517.82 L488.81 517.85 L488.99 517.87 L489.16 517.9 L489.34 517.93 L489.52 517.95 L489.69 517.98 L489.87 518.01 L490.04 518.05 L490.22 518.08 L490.4 518.11 L490.57 518.14 L490.75 518.18 L490.92 518.21 L491.1 518.25 L491.28 518.28 L491.45 518.32 L491.63 518.36 L491.8 518.39 L491.98 518.43 L492.16 518.47 L492.33 518.5 L492.51 518.54 L492.68 518.58 L492.86 518.62 L493.04 518.66 L493.21 518.71 L493.39 518.75 L493.56 518.79 L493.74 518.84 L493.92 518.88 L494.09 518.93 L494.27 518.98 L494.44 519.03 L494.62 519.08 L494.8 519.13 L494.97 519.18 L495.15 519.23 L495.32 519.28 L495.5 519.34 L495.68 519.39 L495.85 519.45 L496.03 519.5 L496.2 519.55 L496.38 519.61 L496.56 519.67 L496.73 519.72 L496.91 519.78 L497.08 519.83 L497.26 519.89 L497.44 519.95 L497.61 520 L497.79 520.06 L497.96 520.12 L498.14 520.18 L498.32 520.23 L498.49 520.29 L498.67 520.35 L498.84 520.41 L499.02 520.47 L499.2 520.53 L499.37 520.59 L499.55 520.66 L499.72 520.72 L499.9 520.78 L500.08 520.85 L500.25 520.91 L500.43 520.97 L500.6 521.04 L500.78 521.1 L500.96 521.17 L501.13 521.23 L501.31 521.3 L501.48 521.36 L501.66 521.43 L501.84 521.49 L502.01 521.56 L502.19 521.62 L502.36 521.69 L502.54 521.75 L502.72 521.82 L502.89 521.88 L503.07 521.95 L503.24 522.01 L503.42 522.08 L503.6 522.14 L503.77 522.2 L503.95 522.27 L504.12 522.33 L504.3 522.39 L504.48 522.46 L504.65 522.52 L504.83 522.58 L505 522.64 L505.18 522.71 L505.36 522.77 L505.53 522.83 L505.71 522.89 L505.88 522.95 L506.06 523.01 L506.24 523.08 L506.41 523.14 L506.59 523.2 L506.76 523.26 L506.94 523.32 L507.12 523.38 L507.29 523.44 L507.47 523.5 L507.64 523.56 L507.82 523.62 L508 523.68 L508.17 523.74 L508.35 523.8 L508.52 523.87 L508.7 523.93 L508.88 523.99 L509.05 524.05 L509.23 524.11 L509.4 524.17 L509.58 524.23 L509.76 524.29 L509.93 524.35 L510.11 524.41 L510.28 524.47 L510.46 524.53 L510.64 524.59 L510.81 524.65 L510.99 524.71 L511.16 524.77 L511.34 524.84 L511.52 524.9 L511.69 524.96 L511.87 525.02 L512.04 525.08 L512.22 525.14 L512.4 525.2 L512.57 525.26 L512.75 525.32 L512.92 525.38 L513.1 525.45 L513.28 525.51 L513.45 525.57 L513.63 525.63 L513.8 525.69 L513.98 525.76 L514.16 525.82 L514.33 525.88 L514.51 525.95 L514.68 526.01 L514.86 526.08 L515.04 526.15 L515.21 526.21 L515.39 526.28 L515.56 526.35 L515.74 526.41 L515.92 526.48 L516.09 526.55 L516.27 526.62 L516.44 526.69 L516.62 526.76 L516.8 526.83 L516.97 526.9 L517.15 526.97 L517.32 527.04 L517.5 527.11 L517.68 527.18 L517.85 527.25 L518.03 527.32 L518.2 527.39 L518.38 527.46 L518.56 527.53 L518.73 527.6 L518.91 527.67 L519.08 527.74 L519.26 527.82 L519.44 527.89 L519.61 527.96 L519.79 528.03 L519.96 528.1 L520.14 528.17 L520.32 528.24 L520.49 528.31 L520.67 528.38 L520.84 528.45 L521.02 528.52 L521.2 528.59 L521.37 528.66 L521.55 528.73 L521.72 528.8 L521.9 528.88 L522.08 528.95 L522.25 529.02 L522.43 529.09 L522.6 529.16 L522.78 529.23 L522.96 529.3 L523.13 529.37 L523.31 529.44 L523.48 529.51 L523.66 529.57 L523.84 529.64 L524.01 529.71 L524.19 529.78 L524.36 529.84 L524.54 529.91 L524.72 529.98 L524.89 530.04 L525.07 530.1 L525.24 530.16 L525.42 530.23 L525.6 530.29 L525.77 530.35 L525.95 530.4 L526.12 530.46 L526.3 530.52 L526.48 530.57 L526.65 530.63 L526.83 530.68 L527 530.73 L527.18 530.79 L527.36 530.84 L527.53 530.89 L527.71 530.94 L527.88 530.99 L528.06 531.05 L528.24 531.1 L528.41 531.15 L528.59 531.2 L528.76 531.25 L528.94 531.3 L529.12 531.35 L529.29 531.4 L529.47 531.45 L529.64 531.51 L529.82 531.56 L530 531.61 L530.17 531.66 L530.35 531.71 L530.52 531.76 L530.7 531.81 L530.88 531.87 L531.05 531.92 L531.23 531.97 L531.4 532.02 L531.58 532.07 L531.76 532.13 L531.93 532.18 L532.11 532.23 L532.28 532.28 L532.46 532.34 L532.64 532.39 L532.81 532.44 L532.99 532.49 L533.16 532.55 L533.34 532.6 L533.52 532.65 L533.69 532.71 L533.87 532.76 L534.04 532.81 L534.22 532.86 L534.4 532.91 L534.57 532.96 L534.75 533.01 L534.92 533.07 L535.1 533.12 L535.28 533.16 L535.45 533.21 L535.63 533.26 L535.8 533.31 L535.98 533.36 L536.16 533.4 L536.33 533.45 L536.51 533.49 L536.68 533.54 L536.86 533.58 L537.04 533.63 L537.21 533.67 L537.39 533.71 L537.56 533.75 L537.74 533.8 L537.92 533.84 L538.09 533.88 L538.27 533.92 L538.44 533.96 L538.62 534 L538.8 534.04 L538.97 534.08 L539.15 534.12 L539.32 534.16 L539.5 534.2 L539.68 534.24 L539.85 534.28 L540.03 534.32 L540.2 534.35 L540.38 534.39 L540.56 534.43 L540.73 534.46 L540.91 534.5 L541.08 534.53 L541.26 534.57 L541.44 534.6 L541.61 534.64 L541.79 534.67 L541.96 534.7 L542.14 534.73 L542.32 534.76 L542.49 534.79 L542.67 534.82 L542.84 534.85 L543.02 534.88 L543.2 534.91 L543.37 534.94 L543.55 534.97 L543.72 535 L543.9 535.02 L544.08 535.05 L544.25 535.08 L544.43 535.11 L544.6 535.13 L544.78 535.16 L544.96 535.19 L545.13 535.21 L545.31 535.24 L545.48 535.27 L545.66 535.29 L545.84 535.32 L546.01 535.34 L546.19 535.37 L546.36 535.39 L546.54 535.41 L546.72 535.44 L546.89 535.46 L547.07 535.48 L547.24 535.5 L547.42 535.53 L547.6 535.55 L547.77 535.57 L547.95 535.59 L548.12 535.61 L548.3 535.63 L548.48 535.65 L548.65 535.67 L548.83 535.69 L549 535.71 L549.18 535.73 L549.36 535.74 L549.53 535.76 L549.71 535.78 L549.88 535.8 L550.06 535.82 L550.24 535.84 L550.41 535.86 L550.41 536.2 L412.6 536.2 Z" fill="none" stroke="#1a1a1a" stroke-width="0.7" stroke-linejoin="round"/>
<path d="M393.24 535.72 L393.77 535.62 L394.3 535.51 L394.83 535.38 L395.36 535.22 L395.88 535.03 L396.41 534.82 L396.94 534.56 L397.47 534.27 L398 533.94 L398.52 533.55 L399.05 533.1 L399.58 532.59 L400.11 532.01 L400.64 531.34 L401.16 530.59 L401.69 529.74 L402.22 528.79 L402.75 527.71 L403.28 526.51 L403.8 525.17 L404.33 523.68 L404.86 522.02 L405.39 520.2 L405.92 518.19 L406.44 515.99 L406.97 513.59 L407.5 510.97 L408.03 508.13 L408.56 505.06 L409.08 501.76 L409.61 498.21 L410.14 494.41 L410.67 490.37 L411.2 486.07 L411.72 481.52 L412.25 476.73 L412.78 471.71 L413.31 466.45 L413.84 460.99 L414.36 455.32 L414.89 449.48 L415.42 443.49 L415.95 437.36 L416.48 431.13 L417 424.83 L417.53 418.49 L418.06 412.15 L418.59 405.85 L419.12 399.61 L419.64 393.5 L420.17 387.53 L420.7 381.76 L421.23 376.22 L421.76 370.96 L422.28 366.01 L422.81 361.42 L423.34 357.21 L423.87 353.43 L424.4 350.1 L424.92 347.25 L425.45 344.91 L425.98 343.08 L426.51 341.8 L427.04 341.07 L427.56 340.88 L428.09 341.26 L428.62 342.18 L429.15 343.65 L429.68 345.64 L430.2 348.15 L430.73 351.15 L431.26 354.61 L431.79 358.52 L432.32 362.83 L432.84 367.51 L433.37 372.52 L433.9 377.82 L434.43 383.38 L434.96 389.15 L435.48 395.09 L436.01 401.16 L436.54 407.33 L437.07 413.55 L437.6 419.79 L438.12 426.01 L438.65 432.17 L439.18 438.25 L439.71 444.21 L440.24 450.03 L440.76 455.69 L441.29 461.16 L441.82 466.44 L442.35 471.5 L442.88 476.33 L443.4 480.93 L443.93 485.29 L444.46 489.4 L444.99 493.27 L445.52 496.89 L446.04 500.27 L446.57 503.41 L447.1 506.32 L447.63 509 L448.16 511.47 L448.68 513.73 L449.21 514.2 L449.74 514.56 L450.27 514.87 L450.8 515.14 L451.32 515.38 L451.85 515.59 L452.38 515.78 L452.91 515.94 L453.44 516.09 L453.96 516.23 L454.49 516.34 L455.02 516.45 L455.55 516.54 L456.08 516.62 L456.6 516.69 L457.13 516.74 L457.66 516.79 L458.19 516.82 L458.72 516.85 L459.24 516.86 L459.77 516.87 L460.3 516.86 L460.83 516.84 L461.36 516.81 L461.88 516.77 L462.41 516.72 L462.94 516.66 L463.47 516.58 L464 516.49 L464.52 516.38 L465.05 516.27 L465.58 516.13 L466.11 515.98 L466.64 515.81 L467.16 515.62 L467.69 515.42 L468.22 515.19 L468.75 514.94 L469.28 514.67 L469.8 514.37 L470.33 514.05 L470.86 513.71 L471.39 513.33 L471.92 512.93 L472.44 512.5 L472.97 512.03 L473.5 511.54 L474.03 511.01 L474.56 510.44 L475.08 509.84 L475.61 509.21 L476.14 508.54 L476.67 507.83 L477.2 507.08 L477.72 506.3 L478.25 505.48 L478.78 504.62 L479.31 503.73 L479.84 502.8 L480.36 501.84 L480.89 500.85 L481.42 499.83 L481.95 498.77 L482.48 497.7 L483 496.6 L483.53 495.49 L484.06 494.37 L484.59 493.23 L485.12 492.07 L485.64 490.87 L486.17 489.65 L486.7 488.4 L487.23 487.13 L487.76 485.84 L488.28 484.53 L488.81 483.21 L489.34 481.88 L489.87 480.53 L490.4 479.17 L490.92 477.8 L491.45 476.41 L491.98 475.01 L492.51 473.61 L493.04 472.2 L493.56 470.78 L494.09 469.38 L494.62 467.98 L495.15 466.58 L495.68 465.2 L496.2 463.82 L496.73 462.46 L497.26 461.11 L497.79 459.77 L498.32 458.46 L498.84 457.18 L499.37 455.92 L499.9 454.7 L500.43 453.51 L500.96 452.36 L501.48 451.24 L502.01 450.17 L502.54 449.15 L503.07 448.16 L503.6 447.23 L504.12 446.35 L504.65 445.52 L505.18 444.74 L505.71 444.03 L506.24 443.38 L506.76 442.79 L507.29 442.26 L507.82 441.81 L508.35 441.43 L508.88 441.12 L509.4 440.88 L509.93 440.71 L510.46 440.63 L510.99 440.62 L511.52 440.68 L512.04 440.83 L512.57 441.05 L513.1 441.35 L513.63 441.73 L514.16 442.18 L514.68 442.72 L515.21 443.34 L515.74 444.04 L516.27 444.81 L516.8 445.65 L517.32 446.57 L517.85 447.55 L518.38 448.6 L518.91 449.71 L519.44 450.88 L519.96 452.11 L520.49 453.4 L521.02 454.74 L521.55 456.13 L522.08 457.56 L522.6 459.04 L523.13 460.56 L523.66 462.11 L524.19 463.69 L524.72 465.3 L525.24 466.93 L525.77 468.57 L526.3 470.23 L526.83 471.9 L527.36 473.57 L527.88 475.26 L528.41 476.95 L528.94 478.65 L529.47 480.35 L530 482.05 L530.52 483.75 L531.05 485.45 L531.58 487.14 L532.11 488.82 L532.64 490.48 L533.16 492.13 L533.69 493.77 L534.22 495.38 L534.75 496.97 L535.28 498.53 L535.8 500.06 L536.33 501.56 L536.86 503.03 L537.39 504.46 L537.92 505.86 L538.44 507.22 L538.97 508.56 L539.5 509.85 L540.03 511.12 L540.56 512.34 L541.08 513.53 L541.61 514.67 L542.14 515.78 L542.67 516.84 L543.2 517.87 L543.72 518.86 L544.25 519.82 L544.78 520.74 L545.31 521.62 L545.84 522.47 L546.36 523.28 L546.89 524.06 L547.42 524.8 L547.95 525.51 L548.48 526.18 L549 526.82 L549.53 527.44 L550.06 528.02 L550.59 528.58 L551.12 529.11 L551.64 529.62 L552.17 530.1 L552.7 530.54 L553.23 530.96 L553.76 531.35 L554.28 531.71 L554.81 532.04 L555.34 532.35 L555.87 532.63 L556.4 532.9 L556.92 533.15 L557.45 533.38 L557.98 533.59 L558.51 533.79 L559.04 533.98 L559.56 534.16 L560.09 534.32 L560.62 534.47 L561.15 534.61 L561.68 534.74 L562.2 534.86 L562.73 534.98 L563.26 535.08 L563.79 535.18 L564.32 535.26 L564.84 535.35 L565.37 535.42 L565.9 535.49 L566.43 535.55 L566.96 535.61 L567.48 535.67 L568.01 535.72" fill="none" stroke="#5a7a7a" stroke-width="0.8" stroke-linejoin="round"/>
<path d="M345.9 536.2 L346.6 536.2 L347.31 536.2 L348.01 536.2 L348.72 536.2 L349.42 536.2 L350.12 536.2 L350.83 536.2 L351.53 536.2 L352.24 536.2 L352.94 536.2 L353.64 536.2 L354.35 536.2 L355.05 536.2 L355.76 536.2 L356.46 536.2 L357.16 536.2 L357.87 536.2 L358.57 536.2 L359.28 536.2 L359.98 536.2 L360.68 536.2 L361.39 536.2 L362.09 536.2 L362.8 536.2 L363.5 536.2 L364.2 536.2 L364.91 536.2 L365.61 536.2 L366.32 536.2 L367.02 536.2 L367.72 536.2 L368.43 536.2 L369.13 536.2 L369.84 536.2 L370.54 536.2 L371.24 536.2 L371.95 536.2 L372.65 536.2 L373.36 536.2 L374.06 536.2 L374.76 536.2 L375.47 536.2 L376.17 536.2 L376.88 536.2 L377.58 536.2 L378.28 536.2 L378.99 536.2 L379.69 536.2 L380.4 536.2 L381.1 536.2 L381.8 536.2 L382.51 536.19 L383.21 536.19 L383.92 536.19 L384.62 536.18 L385.32 530.65 L386.03 525.92 L386.73 524.7 L387.44 526.99 L388.14 529.28 L388.84 527.4 L389.55 525.51 L390.25 526.37 L390.96 529.96 L391.66 526.13 L392.36 529.64 L393.07 525.91 L393.77 525.93 L394.48 528.69 L395.18 524.54 L395.88 525.34 L396.59 526.13 L397.29 527.25 L398 528.26 L398.7 526.51 L399.4 527.02 L400.11 527.53 L400.81 526.42 L401.52 523.06 L402.22 519.7 L402.92 521.22 L403.63 522.74 L404.33 523.68 L405.04 521.44 L405.74 518.88 L406.44 515.99 L407.15 512.74 L407.85 509.11 L408.56 505.06 L409.26 500.6 L409.96 495.7 L410.67 490.37 L411.37 484.58 L412.08 478.36 L412.78 471.71 L413.48 464.65 L414.19 457.23 L414.89 449.48 L415.6 441.46 L416.3 433.22 L417 424.83 L417.71 416.38 L418.41 407.94 L419.12 399.61 L419.82 391.49 L420.52 383.66 L421.23 376.22 L421.93 369.27 L422.64 362.81 L423.34 355.94 L424.04 345.13 L424.75 332.9 L425.45 332.09 L426.16 336.38 L426.86 335.39 L427.56 331.83 L428.27 328.49 L428.97 326.7 L429.68 327.53 L430.38 331.58 L431.08 338.56 L431.79 347.49 L432.49 357.17 L433.2 366.72 L433.9 375.78 L434.6 384.39 L435.31 392.75 L436.01 401.05 L436.72 409.36 L437.42 417.7 L438.12 426 L438.83 434.21 L439.53 442.24 L440.24 450.03 L440.94 457.54 L441.64 464.7 L442.35 471.5 L443.05 477.89 L443.76 483.87 L444.46 489.4 L445.16 496.47 L445.87 501.84 L446.57 505.9 L447.28 509.56 L447.98 512.31 L448.68 514.27 L449.39 513.87 L450.09 514.25 L450.8 515.13 L451.5 514.44 L452.2 509.78 L452.91 502.17 L453.61 498 L454.32 501.35 L455.02 508.43 L455.72 513.41 L456.43 515.36 L457.13 515.86 L457.84 515.95 L458.54 515.98 L459.24 516.02 L459.95 516.03 L460.65 516.4 L461.36 517.12 L462.06 517.82 L462.76 518.36 L463.47 518.72 L464.17 519.06 L464.88 519.35 L465.58 519.57 L466.28 519.77 L466.99 519.15 L467.69 517.69 L468.4 516.18 L469.1 514.52 L469.8 512.7 L470.51 510.81 L471.21 510.91 L471.92 513.04 L472.62 515.19 L473.32 514.74 L474.03 511.59 L474.73 508.3 L475.44 507.4 L476.14 509 L476.84 510.62 L477.55 510.7 L478.25 509.15 L478.96 507.52 L479.66 505.76 L480.36 503.88 L481.07 501.91 L481.77 499.32 L482.48 496.08 L483.18 492.74 L483.88 491.36 L484.59 492.04 L485.29 492.75 L486 491.37 L486.7 487.81 L487.4 484.13 L488.11 481.18 L488.81 479.01 L489.52 476.8 L490.22 474.69 L490.92 472.67 L491.63 470.63 L492.33 469.24 L493.04 468.54 L493.74 467.88 L494.44 466.28 L495.15 463.7 L495.85 461.07 L496.56 458.53 L497.26 456 L497.96 453.1 L498.67 449.53 L499.37 445.13 L500.08 440.01 L500.78 435.15 L501.48 431.13 L502.19 427.98 L502.89 426.08 L503.6 425.77 L504.3 427.24 L505 431.47 L505.71 437.72 L506.41 443.83 L507.12 446.38 L507.82 445.24 L508.52 443.5 L509.23 441.76 L509.93 440.22 L510.64 438.64 L511.34 437 L512.04 435.35 L512.75 433.83 L513.45 432.5 L514.16 431.36 L514.86 430.39 L515.56 432.42 L516.27 437.4 L516.97 442.48 L517.68 445.94 L518.38 447.82 L519.08 449.81 L519.79 452.3 L520.49 455.28 L521.2 458.32 L521.9 459.07 L522.6 457.6 L523.31 456.29 L524.01 458.57 L524.72 464.29 L525.42 469.93 L526.12 473.63 L526.83 475.48 L527.53 477.35 L528.24 479.07 L528.94 480.65 L529.64 482.25 L530.35 484.49 L531.05 487.31 L531.76 490.09 L532.46 491.16 L533.16 490.62 L533.87 490.18 L534.57 491.71 L535.28 495.07 L535.98 498.31 L536.68 501.38 L537.39 504.28 L538.09 507.06 L538.8 508.65 L539.5 509.13 L540.2 509.59 L540.91 511.21 L541.61 513.66 L542.32 515.33 L543.02 514.85 L543.72 512.72 L544.43 511.24 L545.13 512.07 L545.84 515.14 L546.54 518.75 L547.24 522.26 L547.95 525.26 L548.65 527.51 L549.36 528.78 L550.06 529.32 L550.76 529.82 L551.47 530.25 L552.17 530.62 L552.88 530.97 L553.58 531.63 L554.28 532.56 L554.99 533.39 L555.69 533.6 L556.4 533.29 L557.1 533.02 L557.8 530.79 L558.51 531.07 L559.21 531.19 L559.92 531.11 L560.62 530.88 L561.32 532.29 L562.03 533.55 L562.73 532.48 L563.44 531.91 L564.14 532.58 L564.84 532.05 L565.55 527.78 L566.25 523.39 L566.96 522.51 L567.66 525.69 L568.36 529.99 L569.07 532.16 L569.77 532.54 L570.48 532.25 L571.18 531.96 L571.88 533.41 L572.59 534.11 L573.29 532.73 L574 531.81 L574.7 532.31 L575.4 532.81 L576.11 533.3 L576.81 533.41 L577.52 533.13 L578.22 532.84 L578.92 532.56 L579.63 532.84 L580.33 533.3 L581.04 533.76 L581.74 534.23 L582.44 534.45 L583.15 534.65 L583.85 534.43 L584.56 534.2 L585.26 533.92 L585.96 533.64 L586.67 533.35 L587.37 533.29 L588.08 533.45 L588.78 533.61 L589.48 533.77 L590.19 533.85 L590.89 533.91 L591.6 533.97 L592.3 534.03 L593 533.99 L593.71 533.96 L594.41 533.92 L595.12 534.06 L595.82 534.62 L596.52 533.93 L597.23 533.25 L597.93 533.13 L598.64 533.58 L599.34 534.02 L600.04 534.47 L600.75 534.35 L601.45 533.77 L602.16 533.19 L602.86 532.61 L603.56 533.89 L604.27 534.19 L604.97 532.91 L605.68 531.92 L606.38 531.82 L607.08 531.73 L607.79 531.63 L608.49 532.14 L609.2 533.27 L609.9 534.4" fill="none" stroke="#1c1c1c" stroke-width="0.95" stroke-linejoin="round"/>
<path d="M345.9 308.9 V536.2 M345.9 536.2 H609.9 M345.9 536.2 v9.3 M354.7 536.2 v4.8 M363.5 536.2 v4.8 M372.3 536.2 v4.8 M381.1 536.2 v9.3 M389.9 536.2 v4.8 M398.7 536.2 v4.8 M407.5 536.2 v4.8 M416.3 536.2 v9.3 M425.1 536.2 v4.8 M433.9 536.2 v4.8 M442.7 536.2 v4.8 M451.5 536.2 v9.3 M460.3 536.2 v4.8 M469.1 536.2 v4.8 M477.9 536.2 v4.8 M486.7 536.2 v9.3 M495.5 536.2 v4.8 M504.3 536.2 v4.8 M513.1 536.2 v4.8 M521.9 536.2 v9.3 M530.7 536.2 v4.8 M539.5 536.2 v4.8 M548.3 536.2 v4.8 M557.1 536.2 v9.3 M565.9 536.2 v4.8 M574.7 536.2 v4.8 M583.5 536.2 v4.8 M592.3 536.2 v9.3 M601.1 536.2 v4.8 M609.9 536.2 v4.8 M345.9 536.2 h-9.3 M345.9 528.62 h-4.8 M345.9 521.05 h-4.8 M345.9 513.47 h-4.8 M345.9 505.89 h-9.3 M345.9 498.32 h-4.8 M345.9 490.74 h-4.8 M345.9 483.16 h-4.8 M345.9 475.59 h-9.3 M345.9 468.01 h-4.8 M345.9 460.43 h-4.8 M345.9 452.86 h-4.8 M345.9 445.28 h-9.3 M345.9 437.7 h-4.8 M345.9 430.13 h-4.8 M345.9 422.55 h-4.8 M345.9 414.97 h-9.3 M345.9 407.4 h-4.8 M345.9 399.82 h-4.8 M345.9 392.24 h-4.8 M345.9 384.67 h-9.3 M345.9 377.09 h-4.8 M345.9 369.51 h-4.8 M345.9 361.94 h-4.8 M345.9 354.36 h-9.3 M345.9 346.78 h-4.8 M345.9 339.21 h-4.8 M345.9 331.63 h-4.8 M345.9 324.05 h-9.3 M345.9 316.48 h-4.8 M345.9 308.9 h-4.8" fill="none" stroke="#3e3e3e" stroke-width="1.15"/>
<g class="tk">
<text x="345.9" y="555.6">0</text>
<text x="381.1" y="555.6">20</text>
<text x="416.3" y="555.6">40</text>
<text x="451.5" y="555.6">60</text>
<text x="486.7" y="555.6">80</text>
<text x="521.9" y="555.6">100</text>
<text x="557.1" y="555.6">120</text>
<text x="592.3" y="555.6">140</text>
<text transform="translate(333.1 536.2) rotate(-90)">0</text>
<text transform="translate(333.1 505.89) rotate(-90)">20</text>
<text transform="translate(333.1 475.59) rotate(-90)">40</text>
<text transform="translate(333.1 445.28) rotate(-90)">60</text>
<text transform="translate(333.1 414.97) rotate(-90)">80</text>
<text transform="translate(333.1 384.67) rotate(-90)">100</text>
<text transform="translate(333.1 354.36) rotate(-90)">120</text>
<text transform="translate(333.1 324.05) rotate(-90)">140</text>
<text class="nl" transform="translate(320.1 423.15) rotate(-90)">Number</text>
<text class="xl" x="477.9" y="566.6">FL10-A PE-A</text>
</g>
<text class="cap" x="377.1" y="594.3">Decitabine 100µM</text>
</g>
<g id="bars">
<rect x="713.15" y="244.59" width="19.8" height="209.41" fill="#0000ff"/>
<path d="M723.05 244.59 V242.29 M718.25 242.29 h9.6" stroke="#0000ff" stroke-width="1.5" fill="none"/>
<rect x="742.75" y="268.94" width="19.8" height="185.06" fill="#ff0000"/>
<path d="M752.65 268.94 V265.75 M747.85 265.75 h9.6" stroke="#ff0000" stroke-width="1.5" fill="none"/>
<rect x="772.35" y="293.83" width="19.8" height="160.17" fill="#06b50e"/>
<path d="M782.25 293.83 V292.43 M777.45 292.43 h9.6" stroke="#06b50e" stroke-width="1.5" fill="none"/>
<rect x="801.95" y="336.31" width="19.8" height="117.69" fill="#a513e1"/>
<path d="M811.85 336.31 V333.9 M807.05 333.9 h9.6" stroke="#a513e1" stroke-width="1.5" fill="none"/>
<rect x="851.45" y="418.99" width="19.8" height="35.01" fill="#0000ff"/>
<path d="M861.35 418.99 V416.69 M856.55 416.69 h9.6" stroke="#0000ff" stroke-width="1.5" fill="none"/>
<rect x="881.05" y="403.95" width="19.8" height="50.05" fill="#ff0000"/>
<path d="M890.95 403.95 V401.95 M886.15 401.95 h9.6" stroke="#ff0000" stroke-width="1.5" fill="none"/>
<rect x="910.65" y="398" width="19.8" height="56" fill="#06b50e"/>
<path d="M920.55 398 V397.18 M915.75 397.18 h9.6" stroke="#06b50e" stroke-width="1.5" fill="none"/>
<rect x="940.25" y="393.4" width="19.8" height="60.6" fill="#a513e1"/>
<path d="M950.15 393.4 V391.39 M945.35 391.39 h9.6" stroke="#a513e1" stroke-width="1.5" fill="none"/>
<rect x="989.7" y="428.6" width="19.8" height="25.4" fill="#0000ff"/>
<path d="M999.6 428.6 V427.4 M994.8 427.4 h9.6" stroke="#0000ff" stroke-width="1.5" fill="none"/>
<rect x="1019.3" y="419.29" width="19.8" height="34.71" fill="#ff0000"/>
<path d="M1029.2 419.29 V417.18 M1024.4 417.18 h9.6" stroke="#ff0000" stroke-width="1.5" fill="none"/>
<rect x="1048.9" y="399.81" width="19.8" height="54.19" fill="#06b50e"/>
<path d="M1058.8 399.81 V398.62 M1054 398.62 h9.6" stroke="#06b50e" stroke-width="1.5" fill="none"/>
<rect x="1078.5" y="362.61" width="19.8" height="91.39" fill="#a513e1"/>
<path d="M1088.4 362.61 V361.72 M1083.6 361.72 h9.6" stroke="#a513e1" stroke-width="1.5" fill="none"/>
<path d="M702.9 182.2 V455.25 M691.7 454 H1109.8 M702.9 399.89 h-11.2 M702.9 345.78 h-11.2 M702.9 291.67 h-11.2 M702.9 237.56 h-11.2 M702.9 183.45 h-11.2 M767.3 454 v11.2 M905.6 454 v11.2 M1043.85 454 v11.2" stroke="#000" stroke-width="2.5" fill="none"/>
<text class="b" x="688.5" y="461.5" font-size="20" text-anchor="end">0</text>
<text class="b" x="688.5" y="407.39" font-size="20" text-anchor="end">20</text>
<text class="b" x="688.5" y="353.28" font-size="20" text-anchor="end">40</text>
<text class="b" x="688.5" y="299.17" font-size="20" text-anchor="end">60</text>
<text class="b" x="688.5" y="245.06" font-size="20" text-anchor="end">80</text>
<text class="b" x="688.5" y="190.95" font-size="20" text-anchor="end">100</text>
<text class="ser" x="766.95" y="486.8" font-size="20.6" text-anchor="middle">G1</text>
<text class="ser" x="905.25" y="486.8" font-size="20.6" text-anchor="middle">S</text>
<text class="ser" x="1043.5" y="486.8" font-size="20.6" text-anchor="middle">G2</text>
<text class="b" x="905.5" y="519.4" font-size="21.6" text-anchor="middle">Cell cycle</text>
<text class="b" transform="translate(641.3 318) rotate(-90)" font-size="22.6" text-anchor="middle">Cell percentage(%)</text>
</g>
<g id="legend">
<rect x="1169.8" y="195.3" width="28.8" height="14" fill="#0000ff"/>
<text class="b" x="1215.4" y="208.8" font-size="22">CCRF-CEM</text>
<rect x="1169.8" y="231.8" width="28.8" height="14" fill="#ff0000"/>
<text class="b" x="1215.4" y="245.3" font-size="22">CCRF-CEM+Decitabine 1µM</text>
<rect x="1169.8" y="272.3" width="28.8" height="14" fill="#06b50e"/>
<text class="b" x="1215.4" y="285.8" font-size="22">CCRF-CEM+Decitabine 10µM</text>
<rect x="1169.8" y="314.2" width="28.8" height="14" fill="#a513e1"/>
<text class="b" x="1215.4" y="327.6" font-size="22">CCRF-CEM+Decitabine 100µM</text>
</g>
</svg></body></html>
